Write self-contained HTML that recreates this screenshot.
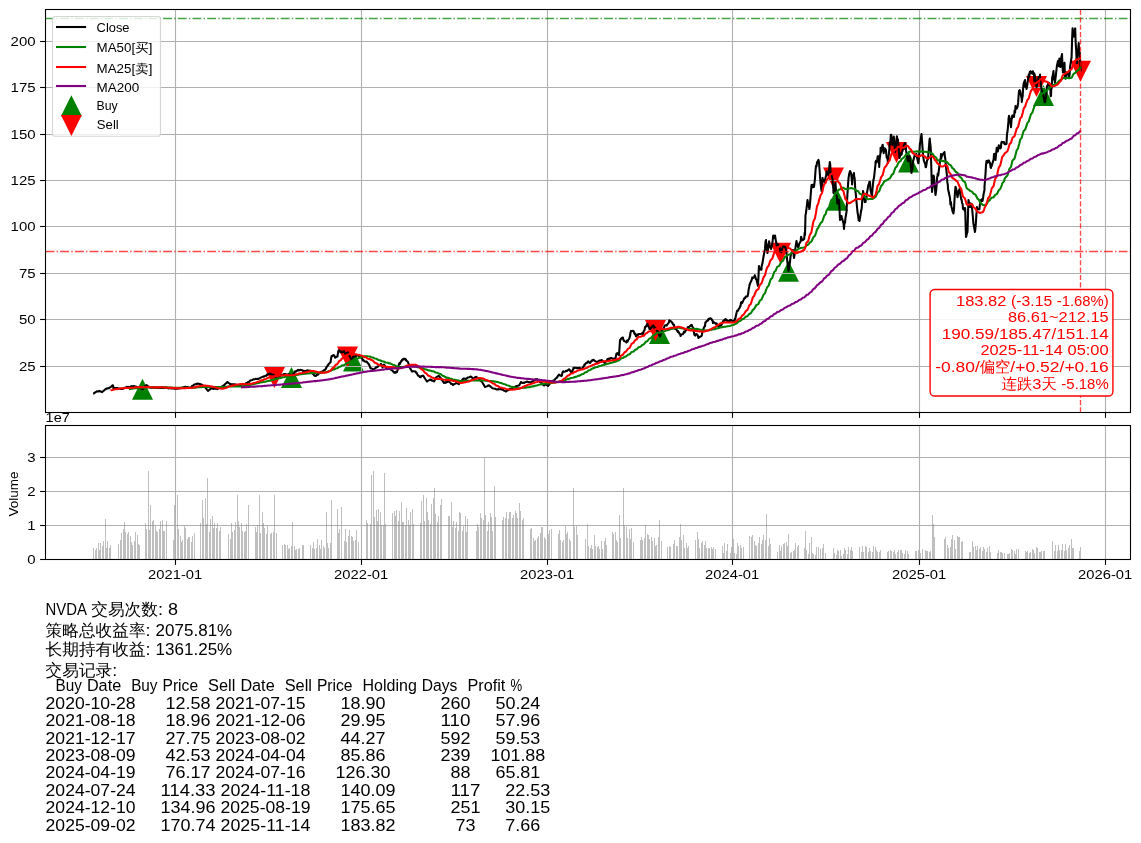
<!DOCTYPE html><html><head><meta charset="utf-8"><title>NVDA</title><style>html,body{margin:0;padding:0;background:#fff}</style></head><body><svg width="1141" height="843" viewBox="0 0 1141 843" style="display:block;font-family:'Liberation Sans','WenQuanYi Zen Hei',sans-serif">
<rect width="1141" height="843" fill="#fff"/>
<defs><clipPath id="c1"><rect x="45.5" y="9.5" width="1085.0" height="403.0"/></clipPath><clipPath id="c2"><rect x="45.5" y="425.5" width="1085.0" height="134.0"/></clipPath></defs>
<g clip-path="url(#c1)">
<path d="M142.5 378.8 L132.0 399.8 L153.0 399.8Z" fill="#008000"/>
<path d="M291.5 366.9 L281.0 387.9 L302.0 387.9Z" fill="#008000"/>
<path d="M353.5 350.6 L343.0 371.6 L364.0 371.6Z" fill="#008000"/>
<path d="M659.5 323.1 L649.0 344.1 L670.0 344.1Z" fill="#008000"/>
<path d="M788.5 260.7 L778.0 281.7 L799.0 281.7Z" fill="#008000"/>
<path d="M837.5 189.8 L827.0 210.8 L848.0 210.8Z" fill="#008000"/>
<path d="M908.5 151.5 L898.0 172.5 L919.0 172.5Z" fill="#008000"/>
<path d="M1043.5 85.0 L1033.0 106.0 L1054.0 106.0Z" fill="#008000"/>
<path d="M274.5 388.0 L264.0 367.0 L285.0 367.0Z" fill="#ff0000"/>
<path d="M347.5 367.5 L337.0 346.5 L358.0 346.5Z" fill="#ff0000"/>
<path d="M655.5 340.9 L645.0 319.9 L666.0 319.9Z" fill="#ff0000"/>
<path d="M780.5 263.7 L770.0 242.7 L791.0 242.7Z" fill="#ff0000"/>
<path d="M833.5 188.6 L823.0 167.6 L844.0 167.6Z" fill="#ff0000"/>
<path d="M896.5 163.0 L886.0 142.0 L907.0 142.0Z" fill="#ff0000"/>
<path d="M1036.5 96.9 L1026.0 75.9 L1047.0 75.9Z" fill="#ff0000"/>
<path d="M1080.5 81.8 L1070.0 60.8 L1091.0 60.8Z" fill="#ff0000"/>
<line x1="175.5" y1="9.5" x2="175.5" y2="412.5" stroke="#b0b0b0" stroke-width="1.1"/>
<line x1="361.5" y1="9.5" x2="361.5" y2="412.5" stroke="#b0b0b0" stroke-width="1.1"/>
<line x1="547.5" y1="9.5" x2="547.5" y2="412.5" stroke="#b0b0b0" stroke-width="1.1"/>
<line x1="732.5" y1="9.5" x2="732.5" y2="412.5" stroke="#b0b0b0" stroke-width="1.1"/>
<line x1="919.5" y1="9.5" x2="919.5" y2="412.5" stroke="#b0b0b0" stroke-width="1.1"/>
<line x1="1105.5" y1="9.5" x2="1105.5" y2="412.5" stroke="#b0b0b0" stroke-width="1.1"/>
<line x1="45.5" y1="366.5" x2="1130.5" y2="366.5" stroke="#b0b0b0" stroke-width="1.1"/>
<line x1="45.5" y1="319.5" x2="1130.5" y2="319.5" stroke="#b0b0b0" stroke-width="1.1"/>
<line x1="45.5" y1="273.5" x2="1130.5" y2="273.5" stroke="#b0b0b0" stroke-width="1.1"/>
<line x1="45.5" y1="226.5" x2="1130.5" y2="226.5" stroke="#b0b0b0" stroke-width="1.1"/>
<line x1="45.5" y1="180.5" x2="1130.5" y2="180.5" stroke="#b0b0b0" stroke-width="1.1"/>
<line x1="45.5" y1="134.5" x2="1130.5" y2="134.5" stroke="#b0b0b0" stroke-width="1.1"/>
<line x1="45.5" y1="87.5" x2="1130.5" y2="87.5" stroke="#b0b0b0" stroke-width="1.1"/>
<line x1="45.5" y1="41.5" x2="1130.5" y2="41.5" stroke="#b0b0b0" stroke-width="1.1"/>
<path d="M93.2 393.6 L93.3 393.6 L94.0 393.2 L94.8 392.8 L95.3 392.4 L95.8 392.0 L96.4 391.8 L96.9 391.4 L97.0 391.5 L98.4 391.3 L98.9 391.4 L99.4 391.0 L99.9 390.9 L100.0 391.0 L100.4 391.3 L102.0 392.2 L102.0 392.2 L102.5 391.8 L103.0 391.2 L103.5 390.9 L104.0 390.5 L105.0 389.5 L105.5 389.1 L106.0 389.1 L106.5 388.6 L107.0 388.6 L107.6 388.3 L109.0 388.2 L109.1 388.1 L109.6 387.5 L110.1 387.5 L110.6 387.1 L111.1 386.7 L112.6 385.3 L113.0 385.5 L113.2 386.3 L113.5 388.5 L113.7 388.5 L114.2 388.5 L114.7 388.1 L116.7 388.1 L117.0 388.2 L117.2 388.0 L117.7 388.2 L118.3 388.6 L119.8 388.5 L120.3 388.7 L120.8 389.0 L121.3 388.8 L121.8 388.9 L122.0 389.0 L123.3 388.5 L123.9 388.3 L124.4 387.8 L124.9 387.9 L125.4 387.9 L126.9 386.8 L127.0 387.0 L127.4 387.1 L127.9 386.9 L128.4 386.7 L128.9 387.1 L130.5 386.7 L131.0 386.2 L131.5 386.4 L132.0 386.4 L132.5 386.2 L134.0 386.0 L134.0 386.2 L134.5 386.2 L135.1 386.5 L135.6 386.9 L136.1 386.6 L137.6 387.4 L138.0 387.5 L138.1 387.4 L138.6 387.7 L139.1 387.6 L139.6 387.9 L141.2 388.5 L141.7 388.9 L142.2 389.1 L142.7 388.9 L143.0 389.2 L143.2 388.8 L144.7 387.3 L145.2 386.1 L145.8 385.8 L146.3 385.3 L146.5 385.0 L146.8 385.5 L148.3 386.4 L148.8 386.6 L149.3 386.9 L149.8 387.3 L150.0 387.5 L150.3 387.7 L151.9 387.5 L152.4 387.5 L152.9 387.7 L153.4 387.6 L153.9 387.6 L155.4 387.4 L155.9 387.7 L156.4 387.6 L157.5 388.0 L159.0 387.9 L159.5 387.8 L160.0 387.8 L160.0 387.9 L160.5 387.8 L161.0 388.0 L162.6 387.9 L163.1 388.0 L163.6 387.7 L164.1 388.0 L164.6 387.7 L166.1 387.6 L166.6 388.0 L167.1 387.9 L167.7 388.1 L168.2 388.4 L169.7 388.0 L170.0 388.2 L170.2 388.1 L170.7 388.3 L171.2 388.4 L173.3 388.4 L173.8 388.5 L174.3 388.7 L174.8 388.7 L176.8 388.6 L177.0 388.8 L177.3 388.7 L177.8 388.6 L178.3 388.3 L178.9 388.4 L180.4 387.9 L180.9 388.1 L181.4 387.8 L181.9 387.7 L182.4 387.5 L184.5 387.1 L185.0 386.8 L185.0 387.0 L185.5 386.8 L186.0 387.2 L187.5 387.0 L188.0 387.7 L188.5 387.4 L189.0 387.8 L189.5 387.6 L190.0 387.8 L191.1 387.2 L191.6 386.6 L192.1 385.9 L192.6 386.1 L193.1 385.8 L194.0 384.8 L194.6 384.5 L195.2 384.3 L195.7 384.1 L196.2 383.8 L196.7 384.1 L197.5 383.5 L198.7 383.7 L199.2 384.0 L199.7 384.0 L200.2 384.1 L201.0 384.5 L201.8 384.6 L202.3 385.4 L202.8 385.4 L203.3 385.9 L203.8 385.9 L204.0 386.0 L205.3 387.5 L205.8 388.2 L206.4 388.8 L206.9 389.6 L207.4 390.2 L208.0 391.0 L208.9 390.2 L209.4 389.6 L209.9 389.2 L210.4 389.3 L210.9 388.4 L211.0 388.5 L212.5 388.4 L213.0 388.7 L213.5 388.9 L214.0 388.5 L214.5 388.8 L216.0 388.8 L216.5 388.8 L217.0 389.0 L217.1 389.1 L217.6 388.7 L218.1 388.5 L219.6 387.6 L220.1 387.5 L220.6 387.1 L221.1 386.9 L223.0 386.0 L223.2 385.7 L223.7 385.2 L224.2 385.2 L224.7 384.4 L225.2 384.1 L226.7 382.7 L227.2 382.1 L227.5 382.0 L227.7 382.1 L228.3 382.8 L228.8 382.9 L230.0 384.0 L230.3 384.0 L230.8 384.1 L231.3 384.3 L231.8 384.3 L232.3 384.3 L233.9 384.3 L234.4 384.2 L234.9 384.7 L235.0 384.5 L235.4 384.7 L235.9 384.6 L237.4 384.9 L237.9 385.0 L238.4 385.0 L238.9 385.1 L239.5 384.8 L240.0 385.0 L241.0 385.1 L241.5 384.4 L242.0 384.7 L242.5 384.5 L243.0 384.4 L244.6 384.1 L245.1 383.9 L245.6 383.3 L246.0 383.5 L246.1 383.3 L246.6 383.4 L248.1 382.1 L248.6 382.0 L249.1 381.9 L249.6 381.0 L250.2 380.6 L252.2 380.0 L252.7 379.7 L253.0 379.5 L253.2 379.4 L253.7 379.4 L255.2 379.0 L255.8 378.8 L256.3 379.1 L256.8 378.9 L257.3 378.8 L258.0 379.0 L258.8 378.8 L259.3 378.4 L259.8 378.3 L260.3 377.8 L260.8 377.6 L262.4 376.9 L262.9 376.7 L263.4 376.8 L263.9 376.3 L264.0 376.5 L264.4 376.4 L265.9 375.6 L266.4 375.8 L267.0 374.5 L267.5 374.9 L268.0 374.3 L269.0 373.8 L270.0 374.0 L270.5 373.6 L271.0 374.0 L271.5 374.5 L273.0 374.5 L273.1 374.5 L273.6 375.0 L274.1 375.3 L274.6 376.2 L275.1 376.2 L276.0 377.0 L276.6 376.2 L277.1 376.5 L277.7 376.0 L278.2 375.8 L278.7 376.2 L280.0 376.0 L280.2 376.2 L280.7 375.7 L281.2 375.0 L281.7 374.9 L282.2 375.2 L283.8 374.2 L284.0 374.0 L284.3 374.0 L284.8 374.1 L285.3 374.1 L285.8 374.4 L287.3 374.5 L287.8 374.4 L288.3 374.2 L288.9 374.6 L289.0 374.5 L289.4 374.5 L290.9 375.8 L291.4 375.3 L291.9 375.9 L292.0 376.0 L292.4 375.4 L292.9 374.2 L294.5 372.9 L295.0 372.0 L295.0 371.5 L295.5 371.2 L296.0 371.5 L296.5 371.2 L298.0 369.8 L298.5 370.5 L299.0 370.3 L299.6 370.2 L300.0 370.0 L300.1 369.8 L302.1 370.3 L302.6 370.5 L303.1 371.0 L303.6 370.8 L305.0 371.0 L305.2 371.0 L305.7 371.2 L306.2 370.7 L306.7 370.7 L307.2 370.3 L308.7 370.8 L309.2 370.8 L309.7 370.8 L310.0 370.5 L310.2 371.0 L310.8 371.4 L312.3 373.2 L312.8 373.7 L313.0 374.0 L313.3 374.2 L313.8 374.7 L314.3 375.5 L315.5 376.0 L315.8 375.9 L316.4 375.3 L316.9 374.7 L317.4 374.3 L317.9 374.6 L318.0 374.0 L319.4 373.3 L319.9 372.8 L320.4 372.4 L320.9 371.8 L321.5 371.8 L322.0 371.5 L323.0 371.2 L323.5 370.5 L324.0 370.3 L324.5 370.0 L325.0 369.8 L325.5 369.5 L326.5 367.0 L327.1 366.6 L327.6 365.5 L328.0 365.0 L328.1 365.3 L328.6 364.0 L330.1 362.7 L330.5 362.0 L330.6 362.0 L331.1 358.4 L331.5 356.5 L331.6 356.1 L332.1 356.1 L333.5 355.0 L333.7 355.2 L334.2 355.4 L334.7 356.7 L335.2 357.7 L335.5 357.5 L335.7 357.3 L337.2 356.5 L337.5 356.5 L337.7 354.5 L338.3 352.1 L338.5 350.5 L338.8 350.3 L339.3 350.4 L340.8 352.5 L341.0 352.0 L341.3 351.5 L341.8 352.2 L342.8 352.1 L344.0 351.0 L344.4 351.9 L344.9 353.0 L345.4 354.2 L345.5 354.0 L345.9 353.7 L346.4 353.2 L347.9 352.3 L348.0 352.5 L348.4 353.5 L349.0 355.3 L349.5 356.2 L350.0 356.5 L350.0 357.0 L351.5 359.6 L351.5 360.0 L352.0 358.8 L352.5 358.1 L353.0 357.0 L353.0 356.9 L353.5 356.9 L355.1 356.4 L355.6 356.0 L356.0 356.0 L356.1 355.9 L356.6 355.8 L358.0 355.0 L358.6 355.5 L359.1 356.2 L359.6 357.2 L360.2 357.1 L360.7 357.2 L361.0 357.5 L362.2 358.6 L362.7 360.2 L363.0 360.5 L363.2 359.8 L363.7 360.2 L364.2 361.3 L365.8 361.7 L366.0 361.5 L366.3 361.7 L366.8 361.6 L367.3 362.6 L367.8 363.0 L369.0 364.5 L369.8 366.4 L370.3 368.0 L370.8 368.3 L371.0 368.5 L371.4 368.4 L372.9 369.2 L373.4 369.9 L373.5 370.0 L373.9 369.5 L374.4 368.7 L374.9 368.6 L376.0 367.5 L376.5 366.8 L377.0 367.3 L377.5 366.9 L378.0 366.6 L378.5 365.7 L379.0 365.5 L380.0 364.9 L380.5 364.3 L381.0 364.0 L381.0 363.9 L381.5 365.1 L382.1 366.0 L382.5 367.5 L383.6 364.8 L384.0 364.5 L384.1 364.9 L384.6 365.3 L385.1 366.2 L385.6 367.3 L387.0 369.0 L387.7 368.3 L388.2 368.5 L388.7 368.8 L389.2 368.8 L390.0 368.5 L390.7 369.1 L391.2 370.1 L391.7 370.3 L392.2 370.3 L392.7 370.9 L394.0 372.5 L394.3 372.7 L394.8 372.5 L395.3 371.8 L395.8 372.6 L396.3 372.3 L397.0 372.0 L397.8 369.1 L398.4 366.5 L398.9 364.4 L399.0 364.0 L399.4 363.1 L399.9 363.8 L401.4 360.7 L401.9 360.8 L402.0 360.0 L402.4 359.6 L402.9 359.8 L403.4 358.8 L405.0 358.8 L405.0 359.0 L405.5 359.9 L406.0 359.5 L406.5 360.9 L407.0 361.1 L408.0 362.0 L408.5 363.6 L409.0 365.6 L409.5 367.5 L409.6 367.4 L410.1 368.4 L410.6 369.0 L412.0 371.5 L412.1 371.2 L412.6 371.4 L413.1 371.3 L413.6 371.3 L415.5 371.5 L415.7 371.7 L416.2 372.9 L416.7 372.9 L417.2 374.2 L417.7 374.8 L418.0 375.5 L419.2 376.1 L419.7 377.0 L420.0 377.0 L420.2 376.7 L420.8 377.1 L421.3 376.1 L422.8 375.7 L423.0 375.5 L423.3 375.9 L423.8 376.5 L424.3 377.6 L424.8 378.2 L426.4 380.7 L426.9 381.3 L427.0 381.5 L427.4 381.0 L427.9 380.9 L428.4 380.6 L429.9 379.8 L430.0 379.5 L430.4 379.5 L430.9 380.0 L431.5 379.8 L432.0 380.6 L432.0 380.5 L433.5 381.0 L434.0 381.0 L434.0 381.5 L434.5 380.5 L435.0 379.8 L435.5 378.0 L436.0 377.5 L437.6 376.4 L438.1 376.2 L438.6 375.9 L439.0 376.0 L439.1 376.2 L440.6 377.9 L441.1 378.6 L441.6 379.7 L442.0 380.0 L442.1 380.0 L442.7 381.1 L444.0 383.0 L444.2 382.7 L444.7 382.5 L445.2 382.2 L445.7 382.9 L446.2 382.3 L448.3 381.8 L448.8 381.6 L449.0 381.5 L449.3 381.8 L449.8 382.2 L451.3 384.0 L451.8 383.7 L452.3 384.1 L452.8 384.6 L453.0 385.0 L453.4 384.5 L455.4 383.6 L455.9 383.3 L456.0 383.0 L456.4 382.9 L456.9 383.0 L458.4 383.7 L459.0 384.2 L459.0 384.0 L459.5 382.8 L460.0 382.9 L460.5 381.9 L462.0 380.5 L462.5 379.3 L463.0 379.0 L463.0 378.9 L463.5 378.5 L464.0 378.6 L465.6 379.1 L466.1 378.8 L466.6 378.4 L467.0 378.5 L467.1 378.2 L467.6 377.6 L469.1 377.2 L469.6 377.0 L470.2 376.7 L470.5 376.5 L470.7 376.6 L471.2 376.7 L472.7 378.2 L473.0 378.5 L473.2 378.4 L473.7 378.4 L474.2 378.3 L474.7 377.5 L476.0 376.8 L476.3 376.8 L476.8 377.4 L477.3 377.6 L477.8 377.9 L478.3 378.5 L479.0 379.0 L479.8 379.6 L480.3 380.5 L480.9 380.8 L481.4 381.4 L481.9 381.8 L482.0 382.0 L483.4 384.2 L483.9 385.0 L484.4 386.0 L484.9 386.8 L485.0 387.0 L485.4 386.9 L487.5 386.1 L488.0 385.6 L488.5 385.7 L489.0 385.5 L489.0 385.3 L490.5 386.6 L491.0 387.1 L491.5 387.2 L492.0 388.0 L492.1 388.0 L492.6 388.2 L494.1 388.6 L494.6 388.7 L495.1 388.9 L495.6 388.9 L496.1 389.2 L497.0 389.5 L497.7 389.3 L498.2 389.4 L498.7 389.1 L499.2 389.3 L499.7 389.2 L501.0 389.0 L501.2 389.1 L501.7 389.3 L502.2 389.7 L502.8 389.6 L503.3 390.2 L504.8 390.9 L505.3 391.2 L505.8 391.5 L506.0 391.5 L506.3 391.2 L506.8 390.9 L508.4 390.1 L508.9 389.8 L509.4 389.4 L509.9 388.8 L510.0 389.0 L510.4 388.9 L511.9 388.5 L512.4 388.2 L512.9 387.9 L513.4 387.3 L514.0 387.6 L515.0 387.0 L515.5 386.8 L516.0 386.1 L516.5 386.5 L517.0 385.9 L517.5 385.8 L519.0 385.5 L519.0 385.3 L519.6 384.8 L520.1 383.5 L520.6 382.8 L521.0 382.0 L521.1 382.5 L522.6 382.9 L523.1 382.7 L523.6 382.8 L524.0 383.0 L524.1 382.6 L524.6 382.5 L526.2 382.0 L526.7 381.8 L527.0 381.5 L527.2 381.6 L528.2 382.1 L529.7 382.2 L530.0 382.5 L530.3 382.4 L530.8 382.3 L531.3 382.0 L531.8 381.9 L533.0 381.0 L533.3 380.9 L533.8 380.5 L534.3 380.4 L534.8 379.8 L535.3 379.4 L536.9 379.2 L537.0 379.0 L537.4 379.4 L537.9 380.0 L538.4 380.0 L538.9 380.8 L540.0 382.0 L540.4 382.2 L540.9 382.6 L541.5 382.7 L542.0 383.6 L542.5 384.4 L544.0 385.5 L544.5 385.3 L545.0 384.9 L545.5 384.7 L546.0 384.5 L546.0 384.7 L548.0 386.0 L548.1 385.3 L548.6 385.2 L549.1 384.7 L549.6 384.0 L551.0 382.0 L551.1 382.3 L551.6 381.9 L552.1 381.4 L552.7 381.0 L553.2 380.8 L555.0 379.5 L555.2 379.1 L555.7 378.6 L556.2 378.2 L556.7 377.9 L558.3 375.4 L558.8 374.8 L559.0 374.5 L559.3 374.7 L559.8 375.4 L560.3 375.3 L561.5 376.0 L561.8 375.5 L562.3 373.2 L562.8 371.9 L563.0 371.5 L563.4 371.4 L563.9 371.7 L565.4 371.5 L565.9 370.8 L566.4 370.8 L566.9 371.1 L567.0 371.0 L567.4 370.5 L569.0 369.3 L569.5 369.9 L569.5 369.5 L570.0 370.5 L570.5 371.4 L571.0 372.0 L571.5 373.0 L573.0 369.5 L573.5 368.0 L573.5 367.9 L574.0 368.4 L574.6 367.8 L576.1 367.8 L576.6 368.1 L577.1 367.8 L577.6 368.2 L578.1 368.1 L579.0 368.0 L579.7 367.9 L580.2 368.4 L580.7 368.4 L581.2 369.0 L581.7 368.7 L582.0 369.0 L583.2 366.7 L583.7 366.3 L584.2 365.8 L584.5 364.5 L584.7 365.1 L585.3 363.9 L586.8 362.6 L587.3 362.7 L587.8 361.6 L588.0 361.5 L588.3 361.3 L588.8 362.2 L590.0 363.0 L590.3 362.8 L590.9 361.8 L591.4 360.9 L591.9 360.4 L592.4 360.7 L593.0 359.8 L593.9 360.0 L594.4 360.5 L594.9 360.9 L595.4 361.4 L597.0 362.0 L597.5 361.7 L598.0 361.8 L598.5 361.0 L599.0 361.0 L599.5 360.5 L601.0 360.4 L601.5 360.0 L601.5 360.0 L602.1 360.2 L602.6 360.8 L603.1 361.3 L604.6 362.9 L605.0 363.0 L605.1 362.2 L605.6 361.6 L606.1 361.0 L606.6 361.4 L607.5 359.0 L608.2 359.2 L608.7 358.6 L609.2 358.8 L609.7 359.2 L610.2 358.1 L611.0 358.0 L611.7 358.0 L612.2 358.8 L612.8 358.7 L613.3 358.9 L613.8 358.5 L615.0 359.0 L615.3 358.7 L615.8 356.8 L616.3 354.4 L616.5 353.5 L616.8 354.0 L617.3 353.1 L618.9 355.2 L619.0 355.0 L619.4 349.3 L619.9 342.0 L620.0 340.0 L620.4 340.0 L620.9 338.9 L622.5 337.5 L622.9 337.5 L623.4 339.9 L624.0 340.5 L624.0 341.0 L624.5 341.1 L626.0 341.9 L626.5 342.5 L626.5 342.3 L627.0 340.5 L627.5 341.8 L628.0 340.5 L629.0 339.0 L629.6 337.3 L630.1 335.6 L630.5 332.5 L630.6 332.5 L631.1 330.9 L631.6 331.2 L633.0 330.8 L633.6 331.2 L634.1 332.7 L634.7 334.0 L635.2 333.7 L636.0 336.5 L636.7 336.1 L637.2 334.6 L637.7 335.3 L638.2 334.6 L638.7 334.0 L639.0 334.0 L640.3 334.0 L641.3 333.8 L641.8 333.6 L642.3 332.9 L643.0 334.0 L643.8 331.1 L644.3 330.6 L644.8 328.9 L645.0 327.0 L645.3 327.5 L645.9 326.5 L647.4 323.8 L647.5 324.0 L647.9 326.0 L648.4 326.2 L648.9 327.5 L649.4 328.6 L649.5 329.0 L650.0 329.0 L650.9 328.1 L651.5 327.2 L652.0 327.0 L652.5 325.8 L653.0 325.8 L653.5 325.5 L654.5 328.5 L655.0 327.6 L655.5 328.2 L656.0 329.0 L656.0 329.4 L656.6 330.3 L658.0 332.0 L658.1 331.5 L658.6 333.2 L659.1 335.0 L659.6 335.8 L660.0 336.5 L660.1 336.2 L661.5 332.0 L661.6 332.7 L662.2 330.3 L662.7 329.7 L663.2 328.3 L663.7 328.7 L664.5 326.0 L665.2 325.3 L665.7 325.3 L666.2 325.2 L666.5 325.5 L666.7 325.6 L667.2 324.7 L668.8 322.7 L669.3 320.3 L669.5 320.5 L669.8 321.3 L670.3 321.0 L670.8 321.1 L672.5 323.0 L672.8 324.2 L673.4 324.4 L673.9 324.8 L674.4 327.2 L675.0 329.0 L675.9 328.6 L676.4 329.5 L676.9 330.5 L677.4 330.8 L677.9 332.0 L678.0 331.0 L679.5 333.8 L680.0 334.0 L680.5 335.5 L680.5 336.0 L681.0 335.0 L681.5 334.4 L683.0 334.0 L683.0 334.2 L683.5 332.9 L684.1 331.5 L684.6 332.6 L685.1 331.4 L685.5 331.0 L686.6 329.5 L687.1 328.5 L687.6 328.0 L688.0 327.0 L688.1 326.9 L688.6 327.4 L690.2 325.9 L690.7 325.5 L691.0 325.0 L691.2 325.5 L691.7 324.9 L692.2 326.4 L693.0 327.5 L693.7 331.0 L694.2 333.8 L694.5 335.0 L694.7 334.0 L695.3 335.6 L695.8 334.4 L696.5 334.0 L697.3 334.8 L697.8 335.6 L698.3 337.5 L698.5 338.0 L698.8 337.7 L699.3 337.0 L700.9 336.5 L701.4 335.7 L701.5 336.0 L701.9 334.8 L702.4 332.0 L702.9 330.4 L703.0 330.0 L704.4 326.7 L704.9 326.4 L705.4 322.4 L705.5 323.0 L705.9 322.1 L706.5 321.2 L708.0 320.6 L708.0 320.0 L708.5 318.9 L709.0 319.1 L709.5 319.2 L710.0 318.3 L711.0 318.5 L711.6 319.0 L712.1 320.5 L712.6 320.5 L713.0 323.0 L713.6 322.1 L715.1 323.1 L715.5 323.5 L715.6 323.7 L716.1 324.0 L716.6 323.4 L717.2 324.8 L718.0 326.0 L718.7 326.2 L719.2 326.0 L719.7 325.5 L720.2 324.8 L720.7 325.7 L721.5 325.0 L722.2 323.1 L722.8 321.6 L723.3 320.9 L723.8 321.5 L724.0 320.0 L724.3 320.0 L725.5 319.0 L725.8 320.2 L726.3 319.5 L726.8 321.0 L727.3 320.4 L727.5 321.0 L727.8 320.7 L729.9 321.2 L730.0 320.0 L730.4 320.7 L730.9 319.9 L731.4 320.4 L733.0 321.0 L733.4 321.0 L734.0 321.2 L734.5 319.9 L735.0 318.7 L735.0 320.0 L736.5 313.0 L737.0 311.0 L737.0 311.0 L737.5 310.5 L738.0 310.8 L738.5 309.4 L739.5 308.0 L740.6 305.5 L741.1 302.3 L741.5 302.0 L741.6 302.6 L742.1 303.1 L743.6 299.9 L744.1 298.7 L744.5 298.0 L744.7 298.1 L745.2 298.2 L745.7 296.6 L747.2 296.5 L747.5 296.5 L747.7 295.9 L748.0 294.0 L748.2 293.4 L748.7 289.2 L749.2 286.9 L749.5 285.0 L750.8 281.7 L751.3 280.9 L751.8 279.4 L752.0 279.0 L752.3 277.4 L752.8 278.0 L754.3 277.2 L754.8 275.3 L755.0 275.5 L755.3 276.5 L755.9 279.2 L756.4 279.2 L758.0 286.0 L758.4 278.1 L758.9 266.5 L759.0 266.0 L759.4 267.6 L759.9 269.3 L761.5 269.8 L761.5 267.5 L762.0 264.7 L762.5 263.1 L763.0 259.6 L763.5 256.8 L764.0 254.0 L765.0 248.9 L765.5 241.5 L766.0 240.0 L766.0 241.8 L766.6 244.7 L767.1 251.0 L767.5 253.0 L768.6 245.3 L769.0 242.0 L769.1 241.4 L769.6 244.5 L770.1 246.9 L770.6 247.7 L771.0 249.0 L772.2 244.1 L772.7 240.3 L773.2 235.6 L773.5 237.0 L773.7 238.1 L774.2 237.3 L775.0 235.5 L775.7 239.8 L776.2 242.6 L776.5 244.0 L776.7 245.5 L777.2 243.8 L779.0 245.5 L779.3 245.5 L779.8 247.8 L780.3 251.3 L780.8 249.6 L781.0 252.0 L781.3 252.2 L782.8 246.8 L783.4 245.0 L783.9 247.0 L784.0 245.0 L784.4 245.9 L784.9 245.8 L786.4 251.3 L786.5 252.0 L786.9 257.2 L787.4 262.3 L787.9 265.2 L788.5 271.0 L788.5 271.0 L790.0 261.8 L790.5 256.7 L791.0 254.5 L791.0 254.0 L791.5 252.9 L792.0 251.3 L793.0 250.0 L793.5 253.7 L794.0 258.0 L794.1 257.7 L794.6 254.2 L795.1 250.0 L795.6 246.7 L796.5 241.0 L797.1 244.9 L797.6 245.8 L798.0 247.0 L798.1 247.2 L798.6 246.5 L799.1 244.0 L800.7 241.3 L801.0 237.0 L801.2 236.8 L801.7 239.5 L802.2 239.0 L802.5 240.0 L802.7 240.2 L804.2 238.9 L804.7 232.7 L805.0 235.0 L805.3 223.3 L805.5 215.0 L805.8 214.1 L806.3 210.5 L807.5 200.0 L808.3 204.9 L808.8 205.8 L809.3 209.0 L809.5 209.0 L809.8 206.0 L811.4 186.4 L811.5 185.0 L811.9 187.2 L812.4 184.8 L812.9 187.3 L813.4 184.7 L814.0 187.0 L814.9 179.5 L815.4 172.1 L816.0 165.7 L816.0 167.0 L816.5 166.4 L817.0 162.5 L818.5 159.8 L818.5 160.0 L819.0 162.3 L820.0 176.0 L820.0 176.2 L820.5 182.3 L821.5 191.0 L822.1 185.6 L822.5 178.0 L822.6 177.9 L823.1 181.1 L823.6 180.2 L824.1 181.0 L824.5 182.0 L825.6 177.4 L826.1 175.8 L826.5 172.0 L826.6 171.6 L827.7 173.3 L828.5 175.0 L829.2 167.8 L829.7 163.1 L829.8 162.0 L830.2 164.3 L830.7 173.2 L831.0 174.0 L831.2 174.0 L832.5 179.0 L832.8 183.5 L833.3 188.3 L833.5 193.0 L833.8 192.3 L834.3 189.8 L834.8 185.8 L835.5 183.0 L836.3 194.4 L836.8 196.3 L837.3 203.5 L837.5 202.0 L837.9 203.2 L838.4 199.7 L839.0 200.0 L839.9 217.2 L840.0 220.0 L840.4 219.6 L840.9 217.7 L841.4 216.3 L841.5 216.0 L841.9 217.8 L843.5 223.5 L844.0 228.5 L844.0 229.0 L844.5 222.5 L845.0 222.9 L845.5 217.7 L846.5 212.0 L847.0 201.5 L847.5 193.1 L848.0 185.0 L848.0 185.2 L848.5 178.5 L849.1 174.3 L850.0 171.0 L850.6 172.2 L851.1 173.2 L851.6 178.0 L852.0 182.0 L852.1 184.4 L852.6 177.2 L854.0 173.0 L854.1 176.1 L854.7 178.8 L855.2 188.3 L855.5 192.0 L855.7 193.2 L856.2 198.7 L857.5 212.0 L858.2 216.1 L858.7 220.3 L859.2 220.1 L859.5 221.0 L859.7 219.8 L861.3 209.7 L861.5 210.0 L861.8 207.3 L862.3 199.5 L862.8 194.9 L863.0 191.0 L863.3 192.3 L864.8 202.1 L865.4 198.0 L865.5 202.0 L865.9 199.3 L866.4 198.3 L866.9 193.1 L867.5 190.0 L868.4 184.9 L868.9 183.9 L869.4 181.8 L869.5 182.0 L869.9 182.2 L870.0 182.0 L870.4 189.5 L872.0 196.2 L872.0 196.0 L872.5 188.9 L873.0 183.9 L873.5 179.3 L873.5 180.0 L874.0 177.8 L875.5 164.0 L875.5 162.2 L876.0 160.9 L876.6 162.4 L877.1 160.7 L877.6 156.6 L878.0 156.0 L879.1 163.9 L879.2 167.0 L879.6 159.5 L880.1 155.7 L880.5 153.0 L880.6 147.8 L881.1 152.0 L882.5 145.0 L882.7 144.8 L883.2 148.7 L883.7 153.2 L884.0 151.0 L884.2 151.2 L884.7 148.2 L886.0 150.0 L886.2 153.5 L886.7 157.7 L887.2 157.5 L887.8 160.8 L887.8 163.0 L888.3 158.6 L889.5 148.0 L889.8 142.0 L890.3 144.2 L890.8 134.8 L891.0 135.0 L891.3 134.8 L891.8 140.0 L892.5 145.0 L893.4 138.9 L893.8 136.5 L893.9 137.8 L894.4 144.6 L894.9 150.1 L895.0 152.0 L895.4 151.0 L896.5 139.0 L896.9 136.3 L897.4 140.2 L897.9 139.4 L898.0 141.0 L898.5 146.4 L899.0 152.4 L899.5 158.0 L900.5 153.7 L901.0 153.1 L901.5 154.8 L902.0 152.0 L902.5 151.1 L904.1 144.4 L904.6 148.7 L905.0 143.0 L905.1 148.5 L905.6 143.8 L906.1 150.9 L906.5 153.0 L907.6 160.2 L908.0 160.0 L908.1 161.2 L908.6 158.7 L909.1 156.5 L909.5 156.0 L909.7 156.2 L911.2 169.9 L911.5 173.0 L911.7 170.7 L912.2 169.9 L912.7 164.3 L913.2 160.9 L913.5 160.0 L914.8 154.5 L915.3 155.7 L916.0 154.0 L916.3 153.8 L916.8 156.5 L918.3 163.2 L918.5 163.0 L918.8 159.4 L919.8 146.2 L920.0 143.0 L920.4 141.7 L921.5 134.0 L921.9 139.4 L922.4 146.2 L922.9 152.9 L923.0 155.0 L923.9 160.9 L925.4 164.6 L925.5 167.0 L926.0 167.2 L926.5 164.0 L927.0 160.8 L927.5 159.7 L928.0 159.0 L929.5 140.2 L929.8 138.5 L930.0 141.6 L930.5 145.9 L931.0 153.0 L931.0 157.2 L932.0 192.0 L932.6 184.5 L933.1 176.2 L933.5 176.0 L933.6 175.5 L934.1 178.0 L934.6 186.5 L935.5 195.0 L936.1 190.8 L936.6 185.3 L937.2 176.8 L937.5 176.0 L937.7 173.6 L938.2 175.7 L939.5 165.0 L939.7 164.1 L940.2 159.8 L940.7 158.2 L941.0 154.0 L941.2 158.9 L941.7 156.3 L943.8 152.7 L944.3 152.9 L944.5 152.0 L944.8 156.2 L945.3 158.8 L946.0 167.0 L946.8 174.2 L947.3 181.9 L947.9 185.7 L948.0 189.0 L948.4 190.5 L948.9 193.1 L950.0 198.0 L950.4 204.4 L950.9 202.0 L951.4 206.3 L951.5 207.0 L951.9 208.1 L952.4 210.8 L953.5 213.5 L954.0 209.1 L954.5 199.8 L955.0 192.4 L955.5 186.8 L955.5 187.0 L956.0 187.9 L957.5 197.0 L957.5 197.2 L958.0 194.9 L958.5 191.0 L959.1 190.1 L959.5 189.0 L959.6 189.4 L961.1 198.6 L961.5 200.0 L961.6 199.6 L962.1 203.3 L962.6 203.7 L963.0 209.0 L963.1 207.1 L964.7 210.8 L965.0 208.0 L965.2 209.4 L965.7 227.1 L966.0 237.0 L966.2 236.7 L966.7 234.1 L967.5 232.0 L968.2 207.5 L968.5 200.0 L968.7 201.0 L969.2 203.5 L969.8 205.7 L970.0 207.0 L970.3 203.4 L971.5 204.0 L971.8 206.6 L972.3 210.6 L972.8 216.2 L973.3 222.5 L973.5 224.0 L975.0 232.0 L975.4 228.5 L975.9 222.6 L976.4 214.1 L976.9 210.0 L977.0 207.0 L977.4 209.3 L978.9 209.2 L979.0 209.0 L979.4 209.2 L979.9 204.5 L980.4 202.2 L981.0 201.6 L981.0 200.0 L982.5 198.7 L982.5 201.0 L983.0 198.7 L983.5 194.6 L984.0 192.0 L984.5 190.0 L984.5 186.6 L985.5 174.0 L986.0 165.1 L986.5 161.0 L986.6 160.9 L987.1 162.7 L987.6 162.8 L988.1 160.5 L989.0 160.5 L989.6 162.4 L990.1 163.1 L990.6 167.4 L991.0 168.0 L991.1 166.9 L991.6 166.2 L993.7 159.1 L994.0 154.0 L994.2 154.7 L994.7 153.8 L995.2 157.1 L995.5 160.0 L996.7 147.8 L997.0 149.0 L997.3 147.8 L997.8 151.5 L998.3 149.1 L998.8 145.2 L1000.0 148.0 L1000.3 148.4 L1000.8 148.0 L1001.3 142.8 L1001.5 143.0 L1001.8 141.8 L1002.3 141.9 L1003.9 142.7 L1004.0 142.0 L1004.4 143.7 L1004.9 144.2 L1005.9 144.2 L1006.5 144.0 L1007.0 134.0 L1007.4 132.3 L1007.9 127.7 L1008.5 121.0 L1008.5 119.0 L1009.0 115.8 L1009.5 118.7 L1010.0 119.0 L1011.0 127.0 L1011.0 127.2 L1011.5 120.5 L1012.0 116.0 L1012.0 118.2 L1012.5 115.4 L1014.0 117.0 L1014.6 110.6 L1015.1 112.6 L1015.5 106.0 L1015.6 107.7 L1016.1 106.8 L1016.6 108.8 L1017.5 107.0 L1018.1 102.9 L1018.6 95.7 L1019.0 91.0 L1019.2 90.8 L1019.7 90.1 L1020.2 91.4 L1020.5 93.0 L1021.7 98.8 L1021.8 102.0 L1022.2 98.4 L1022.7 95.9 L1023.0 90.0 L1023.2 87.6 L1023.7 83.4 L1025.0 80.0 L1025.3 86.9 L1025.8 83.4 L1026.3 84.5 L1026.5 89.0 L1026.8 87.7 L1027.3 84.8 L1028.0 79.0 L1028.8 74.4 L1029.3 76.8 L1029.8 71.7 L1030.0 72.5 L1030.4 71.3 L1030.9 72.6 L1032.4 73.6 L1032.5 71.5 L1032.9 71.3 L1033.4 73.5 L1033.9 73.0 L1034.4 81.6 L1034.5 74.0 L1036.0 81.6 L1036.5 87.2 L1036.5 87.0 L1037.0 84.5 L1037.5 81.7 L1038.0 81.5 L1038.5 77.0 L1039.5 77.7 L1040.0 74.5 L1040.0 78.3 L1040.5 81.3 L1041.0 84.5 L1041.5 91.0 L1041.6 89.7 L1043.0 93.0 L1043.6 97.0 L1044.1 99.4 L1044.6 102.2 L1045.0 102.0 L1045.1 102.1 L1046.7 91.5 L1047.0 86.0 L1047.2 89.7 L1047.7 85.4 L1048.2 82.8 L1048.7 82.8 L1049.0 83.0 L1050.2 87.2 L1050.7 96.2 L1051.0 96.0 L1051.2 90.1 L1051.7 87.5 L1052.2 77.0 L1052.3 78.3 L1053.5 71.0 L1053.8 77.9 L1054.3 80.0 L1054.8 81.1 L1055.0 83.0 L1055.3 79.7 L1055.8 75.9 L1057.0 65.0 L1057.3 64.5 L1057.9 60.9 L1058.4 60.8 L1058.5 60.5 L1058.9 66.2 L1059.4 58.6 L1060.5 67.0 L1060.9 64.2 L1061.4 56.5 L1061.9 55.2 L1062.0 54.0 L1062.4 63.8 L1062.9 72.4 L1064.5 62.9 L1065.0 78.4 L1065.5 78.7 L1066.0 75.0 L1066.5 72.4 L1068.0 73.5 L1068.5 76.1 L1069.1 77.8 L1069.6 74.3 L1070.1 66.7 L1071.6 57.0 L1072.1 39.4 L1072.6 28.2 L1073.1 35.8 L1073.6 36.6 L1075.2 28.4 L1075.7 43.6 L1076.2 50.1 L1076.7 63.3 L1077.2 63.1 L1078.7 43.0 L1079.2 53.8 L1079.8 52.6 L1080.3 65.4 L1080.8 71.3" fill="none" stroke="#000" stroke-width="2.08" stroke-linejoin="round"/>
<path d="M128.9 389.2 L130.5 389.0 L131.0 388.9 L131.5 388.8 L132.0 388.7 L132.5 388.5 L134.0 388.4 L134.5 388.3 L135.1 388.2 L135.6 388.1 L136.1 388.1 L137.6 388.0 L138.1 387.9 L138.6 387.8 L139.1 387.7 L139.6 387.7 L141.2 387.7 L141.7 387.6 L142.2 387.6 L142.7 387.6 L143.2 387.6 L144.7 387.6 L145.2 387.6 L145.8 387.5 L146.3 387.5 L146.8 387.5 L148.3 387.4 L148.8 387.5 L149.3 387.5 L149.8 387.5 L150.3 387.4 L151.9 387.4 L152.4 387.4 L152.9 387.4 L153.4 387.4 L153.9 387.4 L155.4 387.3 L155.9 387.3 L156.4 387.3 L157.5 387.3 L159.0 387.3 L159.5 387.2 L160.0 387.2 L160.5 387.2 L161.0 387.2 L162.6 387.2 L163.1 387.2 L163.6 387.3 L164.1 387.3 L164.6 387.3 L166.1 387.3 L166.6 387.4 L167.1 387.4 L167.7 387.4 L168.2 387.5 L169.7 387.5 L170.2 387.6 L170.7 387.6 L171.2 387.6 L173.3 387.7 L173.8 387.7 L174.3 387.7 L174.8 387.8 L176.8 387.8 L177.3 387.8 L177.8 387.8 L178.3 387.8 L178.9 387.8 L180.4 387.8 L180.9 387.8 L181.4 387.7 L181.9 387.7 L182.4 387.8 L184.5 387.8 L185.0 387.8 L185.5 387.9 L186.0 387.9 L187.5 387.9 L188.0 387.9 L188.5 387.9 L189.0 387.9 L189.5 387.9 L191.1 387.9 L191.6 387.9 L192.1 387.9 L192.6 387.8 L193.1 387.8 L194.6 387.7 L195.2 387.6 L195.7 387.6 L196.2 387.5 L196.7 387.4 L198.7 387.3 L199.2 387.3 L199.7 387.2 L200.2 387.1 L201.8 387.1 L202.3 387.0 L202.8 387.0 L203.3 386.9 L203.8 386.9 L205.3 386.9 L205.8 386.9 L206.4 386.9 L206.9 386.9 L207.4 386.9 L208.9 387.0 L209.4 387.0 L209.9 387.0 L210.4 387.0 L210.9 387.0 L212.5 387.0 L213.0 387.1 L213.5 387.0 L214.0 387.0 L214.5 387.1 L216.0 387.1 L216.5 387.1 L217.1 387.1 L217.6 387.1 L218.1 387.1 L219.6 387.1 L220.1 387.1 L220.6 387.1 L221.1 387.1 L223.2 387.1 L223.7 387.1 L224.2 387.0 L224.7 387.0 L225.2 386.9 L226.7 386.8 L227.2 386.7 L227.7 386.6 L228.3 386.5 L228.8 386.4 L230.3 386.4 L230.8 386.4 L231.3 386.4 L231.8 386.4 L232.3 386.4 L233.9 386.4 L234.4 386.4 L234.9 386.4 L235.4 386.4 L235.9 386.4 L237.4 386.4 L237.9 386.4 L238.4 386.4 L238.9 386.4 L239.5 386.4 L241.0 386.4 L241.5 386.3 L242.0 386.2 L242.5 386.1 L243.0 386.0 L244.6 385.9 L245.1 385.8 L245.6 385.6 L246.1 385.5 L246.6 385.4 L248.1 385.3 L248.6 385.2 L249.1 385.0 L249.6 384.9 L250.2 384.7 L252.2 384.5 L252.7 384.4 L253.2 384.2 L253.7 384.0 L255.2 383.8 L255.8 383.6 L256.3 383.4 L256.8 383.3 L257.3 383.1 L258.8 382.9 L259.3 382.8 L259.8 382.6 L260.3 382.5 L260.8 382.4 L262.4 382.2 L262.9 382.1 L263.4 382.0 L263.9 381.9 L264.4 381.8 L265.9 381.6 L266.4 381.4 L267.0 381.3 L267.5 381.1 L268.0 380.9 L270.0 380.7 L270.5 380.5 L271.0 380.3 L271.5 380.0 L273.1 379.9 L273.6 379.7 L274.1 379.5 L274.6 379.3 L275.1 379.1 L276.6 379.0 L277.1 378.8 L277.7 378.6 L278.2 378.5 L278.7 378.3 L280.2 378.1 L280.7 378.0 L281.2 377.8 L281.7 377.6 L282.2 377.4 L283.8 377.3 L284.3 377.1 L284.8 376.9 L285.3 376.8 L285.8 376.6 L287.3 376.5 L287.8 376.3 L288.3 376.2 L288.9 376.1 L289.4 376.0 L290.9 375.9 L291.4 375.9 L291.9 375.8 L292.4 375.7 L292.9 375.6 L294.5 375.5 L295.0 375.4 L295.5 375.2 L296.0 375.1 L296.5 374.9 L298.0 374.8 L298.5 374.7 L299.0 374.5 L299.6 374.4 L300.1 374.3 L302.1 374.1 L302.6 374.0 L303.1 374.0 L303.6 373.9 L305.2 373.8 L305.7 373.7 L306.2 373.7 L306.7 373.6 L307.2 373.5 L308.7 373.5 L309.2 373.4 L309.7 373.3 L310.2 373.2 L310.8 373.1 L312.3 373.1 L312.8 373.0 L313.3 372.9 L313.8 372.9 L314.3 372.9 L315.8 372.9 L316.4 372.8 L316.9 372.8 L317.4 372.8 L317.9 372.8 L319.4 372.8 L319.9 372.7 L320.4 372.7 L320.9 372.7 L321.5 372.6 L323.0 372.6 L323.5 372.5 L324.0 372.4 L324.5 372.3 L325.0 372.2 L326.5 372.1 L327.1 371.9 L327.6 371.7 L328.1 371.5 L328.6 371.3 L330.1 371.0 L330.6 370.8 L331.1 370.5 L331.6 370.2 L332.1 369.9 L333.7 369.6 L334.2 369.3 L334.7 369.0 L335.2 368.8 L335.7 368.5 L337.2 368.3 L337.7 368.0 L338.3 367.6 L338.8 367.2 L339.3 366.8 L340.8 366.4 L341.3 366.0 L341.8 365.6 L342.8 365.3 L344.4 364.9 L344.9 364.5 L345.4 364.2 L345.9 363.8 L346.4 363.5 L347.9 363.1 L348.4 362.7 L349.0 362.3 L349.5 362.0 L350.0 361.6 L351.5 361.3 L352.0 361.0 L352.5 360.6 L353.0 360.3 L353.5 359.9 L355.1 359.6 L355.6 359.2 L356.1 358.9 L356.6 358.6 L358.6 358.2 L359.1 357.9 L359.6 357.6 L360.2 357.3 L360.7 357.1 L362.2 356.9 L362.7 356.7 L363.2 356.5 L363.7 356.4 L364.2 356.3 L365.8 356.2 L366.3 356.2 L366.8 356.2 L367.3 356.2 L367.8 356.3 L369.8 356.5 L370.3 356.7 L370.8 357.0 L371.4 357.2 L372.9 357.5 L373.4 357.8 L373.9 358.0 L374.4 358.3 L374.9 358.5 L376.5 358.8 L377.0 359.2 L377.5 359.5 L378.0 359.8 L378.5 360.0 L380.0 360.3 L380.5 360.5 L381.0 360.8 L381.5 361.0 L382.1 361.3 L383.6 361.5 L384.1 361.8 L384.6 362.0 L385.1 362.3 L385.6 362.5 L387.7 362.8 L388.2 363.0 L388.7 363.2 L389.2 363.4 L390.7 363.6 L391.2 363.9 L391.7 364.1 L392.2 364.4 L392.7 364.7 L394.3 365.0 L394.8 365.4 L395.3 365.7 L395.8 366.0 L396.3 366.4 L397.8 366.6 L398.4 366.8 L398.9 366.9 L399.4 367.0 L399.9 367.0 L401.4 367.0 L401.9 367.0 L402.4 367.0 L402.9 366.9 L403.4 366.9 L405.0 366.8 L405.5 366.7 L406.0 366.6 L406.5 366.4 L407.0 366.3 L408.5 366.2 L409.0 366.1 L409.6 366.1 L410.1 366.1 L410.6 366.1 L412.1 366.1 L412.6 366.2 L413.1 366.3 L413.6 366.4 L415.7 366.5 L416.2 366.6 L416.7 366.8 L417.2 367.0 L417.7 367.2 L419.2 367.5 L419.7 367.7 L420.2 367.9 L420.8 368.1 L421.3 368.4 L422.8 368.5 L423.3 368.7 L423.8 368.9 L424.3 369.1 L424.8 369.2 L426.4 369.5 L426.9 369.7 L427.4 370.0 L427.9 370.2 L428.4 370.4 L429.9 370.5 L430.4 370.7 L430.9 370.8 L431.5 371.0 L432.0 371.2 L433.5 371.3 L434.0 371.6 L434.5 371.9 L435.0 372.2 L435.5 372.5 L437.6 372.7 L438.1 373.1 L438.6 373.4 L439.1 373.7 L440.6 374.1 L441.1 374.5 L441.6 374.9 L442.1 375.3 L442.7 375.7 L444.2 376.2 L444.7 376.6 L445.2 377.0 L445.7 377.3 L446.2 377.6 L448.3 377.9 L448.8 378.1 L449.3 378.3 L449.8 378.5 L451.3 378.8 L451.8 379.0 L452.3 379.3 L452.8 379.5 L453.4 379.7 L455.4 379.9 L455.9 380.1 L456.4 380.2 L456.9 380.4 L458.4 380.5 L459.0 380.6 L459.5 380.8 L460.0 380.9 L460.5 381.0 L462.0 381.1 L462.5 381.2 L463.0 381.2 L463.5 381.1 L464.0 381.1 L465.6 381.0 L466.1 381.0 L466.6 381.0 L467.1 380.9 L467.6 380.9 L469.1 380.8 L469.6 380.8 L470.2 380.7 L470.7 380.6 L471.2 380.5 L472.7 380.5 L473.2 380.5 L473.7 380.5 L474.2 380.5 L474.7 380.5 L476.3 380.5 L476.8 380.5 L477.3 380.5 L477.8 380.5 L478.3 380.5 L479.8 380.5 L480.3 380.5 L480.9 380.4 L481.4 380.4 L481.9 380.4 L483.4 380.4 L483.9 380.5 L484.4 380.6 L484.9 380.7 L485.4 380.8 L487.5 380.9 L488.0 380.9 L488.5 380.9 L489.0 381.0 L490.5 381.0 L491.0 381.0 L491.5 381.1 L492.1 381.2 L492.6 381.3 L494.1 381.4 L494.6 381.5 L495.1 381.6 L495.6 381.7 L496.1 381.9 L497.7 382.0 L498.2 382.2 L498.7 382.4 L499.2 382.6 L499.7 382.8 L501.2 383.0 L501.7 383.2 L502.2 383.4 L502.8 383.7 L503.3 383.9 L504.8 384.2 L505.3 384.4 L505.8 384.7 L506.3 385.0 L506.8 385.3 L508.4 385.6 L508.9 385.8 L509.4 386.0 L509.9 386.2 L510.4 386.5 L511.9 386.7 L512.4 386.9 L512.9 387.1 L513.4 387.3 L514.0 387.5 L515.5 387.6 L516.0 387.8 L516.5 387.9 L517.0 388.0 L517.5 388.1 L519.0 388.2 L519.6 388.2 L520.1 388.2 L520.6 388.1 L521.1 388.0 L522.6 387.9 L523.1 387.8 L523.6 387.8 L524.1 387.7 L524.6 387.7 L526.2 387.6 L526.7 387.5 L527.2 387.3 L528.2 387.2 L529.7 387.1 L530.3 387.0 L530.8 386.8 L531.3 386.7 L531.8 386.5 L533.3 386.4 L533.8 386.2 L534.3 386.0 L534.8 385.8 L535.3 385.7 L536.9 385.4 L537.4 385.3 L537.9 385.1 L538.4 384.9 L538.9 384.7 L540.4 384.5 L540.9 384.4 L541.5 384.2 L542.0 384.1 L542.5 383.9 L544.5 383.8 L545.0 383.7 L545.5 383.6 L546.0 383.5 L548.1 383.5 L548.6 383.4 L549.1 383.3 L549.6 383.2 L551.1 383.1 L551.6 383.0 L552.1 382.9 L552.7 382.7 L553.2 382.6 L555.2 382.5 L555.7 382.3 L556.2 382.2 L556.7 382.0 L558.3 381.8 L558.8 381.6 L559.3 381.5 L559.8 381.3 L560.3 381.2 L561.8 381.0 L562.3 380.9 L562.8 380.6 L563.4 380.4 L563.9 380.2 L565.4 380.0 L565.9 379.8 L566.4 379.6 L566.9 379.3 L567.4 379.1 L569.0 378.9 L569.5 378.6 L570.0 378.4 L570.5 378.2 L571.0 378.0 L573.0 377.8 L573.5 377.6 L574.0 377.3 L574.6 377.1 L576.1 376.9 L576.6 376.6 L577.1 376.4 L577.6 376.1 L578.1 375.8 L579.7 375.6 L580.2 375.3 L580.7 375.0 L581.2 374.6 L581.7 374.3 L583.2 374.0 L583.7 373.6 L584.2 373.2 L584.7 372.8 L585.3 372.3 L586.8 371.9 L587.3 371.5 L587.8 371.0 L588.3 370.7 L588.8 370.3 L590.3 369.9 L590.9 369.5 L591.4 369.2 L591.9 368.8 L592.4 368.5 L593.9 368.1 L594.4 367.8 L594.9 367.6 L595.4 367.3 L597.5 367.0 L598.0 366.7 L598.5 366.5 L599.0 366.2 L599.5 366.0 L601.0 365.8 L601.5 365.6 L602.1 365.3 L602.6 365.1 L603.1 364.9 L604.6 364.8 L605.1 364.6 L605.6 364.5 L606.1 364.3 L606.6 364.1 L608.2 363.8 L608.7 363.6 L609.2 363.4 L609.7 363.2 L610.2 363.0 L611.7 362.8 L612.2 362.6 L612.8 362.4 L613.3 362.2 L613.8 362.0 L615.3 361.8 L615.8 361.6 L616.3 361.3 L616.8 361.0 L617.3 360.7 L618.9 360.4 L619.4 360.1 L619.9 359.6 L620.4 359.1 L620.9 358.6 L622.9 358.1 L623.4 357.6 L624.0 357.2 L624.5 356.8 L626.0 356.4 L626.5 356.0 L627.0 355.6 L627.5 355.2 L628.0 354.7 L629.6 354.2 L630.1 353.7 L630.6 353.2 L631.1 352.6 L631.6 352.0 L633.6 351.4 L634.1 350.9 L634.7 350.3 L635.2 349.8 L636.7 349.3 L637.2 348.8 L637.7 348.3 L638.2 347.8 L638.7 347.2 L640.3 346.7 L641.3 346.1 L641.8 345.6 L642.3 345.0 L643.8 344.4 L644.3 343.7 L644.8 343.1 L645.3 342.4 L645.9 341.8 L647.4 341.1 L647.9 340.4 L648.4 339.8 L648.9 339.2 L649.4 338.6 L650.9 338.0 L651.5 337.4 L652.0 336.7 L652.5 336.1 L653.0 335.5 L654.5 335.0 L655.0 334.4 L655.5 333.9 L656.0 333.4 L656.6 333.0 L658.1 332.8 L658.6 332.7 L659.1 332.6 L659.6 332.5 L660.1 332.5 L661.6 332.3 L662.2 332.1 L662.7 331.8 L663.2 331.5 L663.7 331.3 L665.2 331.0 L665.7 330.7 L666.2 330.4 L666.7 330.3 L667.2 330.1 L668.8 329.9 L669.3 329.7 L669.8 329.4 L670.3 329.2 L670.8 329.0 L672.8 328.7 L673.4 328.5 L673.9 328.3 L674.4 328.2 L675.9 328.1 L676.4 328.0 L676.9 327.9 L677.4 327.9 L677.9 327.8 L679.5 327.8 L680.0 327.9 L680.5 328.0 L681.0 328.2 L681.5 328.3 L683.0 328.5 L683.5 328.7 L684.1 328.8 L684.6 329.0 L685.1 329.0 L686.6 329.0 L687.1 329.1 L687.6 329.1 L688.1 329.1 L688.6 329.1 L690.2 329.0 L690.7 329.0 L691.2 329.0 L691.7 328.9 L692.2 328.9 L693.7 328.9 L694.2 328.9 L694.7 328.9 L695.3 329.0 L695.8 328.9 L697.3 328.9 L697.8 329.0 L698.3 329.2 L698.8 329.3 L699.3 329.5 L700.9 329.7 L701.4 329.9 L701.9 330.0 L702.4 330.2 L702.9 330.3 L704.4 330.3 L704.9 330.4 L705.4 330.4 L705.9 330.5 L706.5 330.5 L708.0 330.4 L708.5 330.4 L709.0 330.3 L709.5 330.1 L710.0 329.9 L711.6 329.7 L712.1 329.6 L712.6 329.4 L713.6 329.2 L715.1 329.1 L715.6 328.9 L716.1 328.7 L716.6 328.4 L717.2 328.2 L718.7 328.1 L719.2 327.9 L719.7 327.7 L720.2 327.6 L720.7 327.4 L722.2 327.3 L722.8 327.1 L723.3 327.0 L723.8 326.9 L724.3 326.7 L725.8 326.6 L726.3 326.5 L726.8 326.4 L727.3 326.3 L727.8 326.2 L729.9 326.0 L730.4 325.8 L730.9 325.6 L731.4 325.3 L733.4 325.0 L734.0 324.7 L734.5 324.4 L735.0 324.1 L736.5 323.6 L737.0 323.1 L737.5 322.5 L738.0 322.0 L738.5 321.4 L740.6 320.8 L741.1 320.3 L741.6 319.7 L742.1 319.2 L743.6 318.7 L744.1 318.2 L744.7 317.7 L745.2 317.2 L745.7 316.8 L747.2 316.3 L747.7 315.8 L748.2 315.3 L748.7 314.7 L749.2 314.0 L750.8 313.3 L751.3 312.4 L751.8 311.6 L752.3 310.7 L752.8 309.8 L754.3 308.8 L754.8 307.8 L755.3 306.9 L755.9 305.9 L756.4 305.0 L758.4 304.1 L758.9 302.9 L759.4 301.7 L759.9 300.6 L761.5 299.5 L762.0 298.3 L762.5 297.2 L763.0 296.0 L763.5 294.7 L765.0 293.3 L765.5 291.7 L766.0 290.1 L766.6 288.6 L767.1 287.2 L768.6 285.7 L769.1 284.1 L769.6 282.6 L770.1 281.1 L770.6 279.6 L772.2 278.1 L772.7 276.5 L773.2 275.0 L773.7 273.5 L774.2 272.1 L775.7 270.7 L776.2 269.3 L776.7 268.1 L777.2 266.9 L779.3 265.8 L779.8 264.8 L780.3 263.8 L780.8 262.8 L781.3 261.9 L782.8 260.9 L783.4 259.9 L783.9 258.9 L784.4 257.9 L784.9 257.0 L786.4 256.2 L786.9 255.6 L787.4 255.2 L787.9 254.9 L788.5 254.7 L790.0 254.3 L790.5 253.9 L791.0 253.5 L791.5 253.0 L792.0 252.5 L793.5 252.0 L794.1 251.6 L794.6 251.1 L795.1 250.8 L795.6 250.4 L797.1 249.9 L797.6 249.5 L798.1 249.1 L798.6 248.8 L799.1 248.5 L800.7 248.1 L801.2 247.9 L801.7 247.8 L802.2 247.8 L802.7 247.7 L804.2 247.4 L804.7 247.2 L805.3 246.9 L805.8 246.3 L806.3 245.5 L808.3 244.6 L808.8 243.9 L809.3 243.2 L809.8 242.6 L811.4 241.6 L811.9 240.5 L812.4 239.5 L812.9 238.3 L813.4 237.2 L814.9 235.8 L815.4 234.4 L816.0 232.8 L816.5 231.1 L817.0 229.3 L818.5 227.5 L819.0 225.9 L820.0 224.5 L820.5 223.2 L822.1 221.9 L822.6 220.5 L823.1 219.1 L823.6 217.6 L824.1 216.0 L825.6 214.2 L826.1 212.3 L826.6 210.5 L827.7 208.8 L829.2 207.1 L829.7 205.3 L830.2 203.6 L830.7 201.9 L831.2 200.3 L832.8 198.8 L833.3 197.6 L833.8 196.5 L834.3 195.4 L834.8 194.2 L836.3 193.1 L836.8 192.1 L837.3 191.3 L837.9 190.5 L838.4 189.8 L839.9 189.4 L840.4 189.0 L840.9 188.6 L841.4 188.1 L841.9 187.8 L843.5 187.8 L844.0 188.1 L844.5 188.5 L845.0 188.8 L845.5 189.1 L847.0 189.0 L847.5 188.8 L848.0 188.7 L848.5 188.6 L849.1 188.5 L850.6 188.2 L851.1 188.1 L851.6 188.1 L852.1 188.3 L852.6 188.5 L854.1 188.7 L854.7 189.0 L855.2 189.6 L855.7 190.2 L856.2 190.6 L858.2 191.3 L858.7 192.0 L859.2 192.8 L859.7 193.6 L861.3 194.2 L861.8 194.7 L862.3 195.2 L862.8 195.6 L863.3 196.0 L864.8 196.5 L865.4 197.2 L865.9 197.9 L866.4 198.5 L866.9 199.0 L868.4 199.2 L868.9 199.2 L869.4 199.1 L869.9 198.9 L870.4 198.8 L872.0 199.0 L872.5 199.0 L873.0 198.8 L873.5 198.4 L874.0 197.9 L875.5 197.1 L876.0 196.0 L876.6 194.9 L877.1 193.7 L877.6 192.5 L879.1 191.5 L879.6 190.2 L880.1 188.8 L880.6 187.3 L881.1 185.9 L882.7 184.4 L883.2 183.3 L883.7 182.4 L884.2 181.7 L884.7 181.1 L886.2 180.6 L886.7 180.2 L887.2 179.9 L887.8 179.5 L888.3 179.1 L889.8 178.4 L890.3 177.7 L890.8 176.8 L891.3 175.8 L891.8 174.8 L893.4 173.6 L893.9 172.0 L894.4 170.5 L894.9 169.2 L895.4 167.7 L896.9 166.3 L897.4 165.0 L897.9 163.8 L898.5 162.9 L899.0 162.0 L900.5 161.2 L901.0 160.2 L901.5 159.3 L902.5 158.4 L904.1 157.4 L904.6 156.6 L905.1 155.8 L905.6 155.1 L906.1 154.4 L907.6 153.9 L908.1 153.2 L908.6 152.5 L909.1 151.9 L909.7 151.5 L911.2 151.4 L911.7 151.5 L912.2 151.7 L912.7 151.7 L913.2 151.8 L914.8 151.8 L915.3 151.6 L916.3 151.4 L916.8 151.4 L918.3 151.6 L918.8 151.8 L919.8 151.8 L920.4 151.6 L921.9 151.4 L922.4 151.3 L922.9 151.4 L923.9 151.6 L925.4 151.8 L926.0 151.9 L926.5 151.9 L927.0 152.0 L927.5 152.3 L929.5 152.3 L930.0 152.4 L930.5 152.6 L931.0 152.9 L932.6 153.8 L933.1 154.7 L933.6 155.4 L934.1 156.0 L934.6 156.7 L936.1 157.7 L936.6 158.6 L937.2 159.4 L937.7 160.0 L938.2 160.4 L939.7 160.5 L940.2 160.6 L940.7 160.7 L941.2 160.8 L941.7 160.9 L943.8 161.1 L944.3 161.2 L944.8 161.4 L945.3 161.6 L946.8 162.0 L947.3 162.4 L947.9 163.0 L948.4 163.7 L948.9 164.4 L950.4 165.0 L950.9 165.6 L951.4 166.4 L951.9 167.2 L952.4 168.2 L954.0 169.2 L954.5 170.1 L955.0 170.9 L955.5 171.5 L956.0 172.0 L957.5 172.8 L958.0 173.8 L958.5 174.8 L959.1 175.9 L959.6 176.7 L961.1 177.6 L961.6 178.4 L962.1 179.2 L962.6 180.0 L963.1 180.9 L964.7 181.8 L965.2 182.8 L965.7 184.6 L966.2 186.5 L966.7 188.2 L968.2 189.3 L968.7 189.6 L969.2 190.1 L969.8 190.6 L970.3 191.1 L971.8 191.5 L972.3 192.0 L972.8 192.7 L973.3 193.5 L975.4 194.6 L975.9 195.5 L976.4 196.6 L976.9 197.5 L977.4 198.6 L978.9 199.7 L979.4 200.7 L979.9 201.8 L980.4 202.8 L981.0 203.7 L982.5 204.5 L983.0 205.0 L983.5 205.2 L984.0 205.3 L984.5 205.3 L986.0 204.8 L986.6 204.0 L987.1 203.2 L987.6 202.2 L988.1 201.3 L989.6 200.4 L990.1 199.5 L990.6 198.8 L991.1 198.3 L991.6 197.8 L993.7 197.2 L994.2 196.3 L994.7 195.6 L995.2 194.9 L996.7 194.1 L997.3 193.3 L997.8 192.3 L998.3 191.3 L998.8 190.1 L1000.3 189.0 L1000.8 187.7 L1001.3 186.4 L1001.8 185.0 L1002.3 183.3 L1003.9 181.4 L1004.4 179.6 L1004.9 178.2 L1005.9 177.1 L1007.4 175.6 L1007.9 174.0 L1008.5 172.2 L1009.0 170.5 L1009.5 168.6 L1011.0 166.8 L1011.5 164.8 L1012.0 162.6 L1012.5 160.5 L1014.6 158.4 L1015.1 156.4 L1015.6 154.4 L1016.1 152.4 L1016.6 150.4 L1018.1 148.3 L1018.6 146.1 L1019.2 143.9 L1019.7 141.7 L1020.2 139.6 L1021.7 137.8 L1022.2 135.9 L1022.7 133.9 L1023.2 132.4 L1023.7 130.9 L1025.3 129.3 L1025.8 127.8 L1026.3 126.3 L1026.8 124.8 L1027.3 123.2 L1028.8 121.4 L1029.3 119.5 L1029.8 117.7 L1030.4 116.0 L1030.9 114.3 L1032.4 112.6 L1032.9 110.9 L1033.4 109.3 L1033.9 107.8 L1034.4 106.3 L1036.0 105.0 L1036.5 103.8 L1037.0 102.5 L1037.5 101.3 L1038.0 100.0 L1039.5 98.7 L1040.0 97.3 L1040.5 96.1 L1041.0 94.9 L1041.6 93.9 L1043.6 92.9 L1044.1 92.3 L1044.6 91.8 L1045.1 91.5 L1046.7 90.9 L1047.2 90.2 L1047.7 89.4 L1048.2 88.6 L1048.7 88.0 L1050.2 87.5 L1050.7 87.1 L1051.2 86.7 L1051.7 86.3 L1052.3 85.7 L1053.8 85.0 L1054.3 84.6 L1054.8 84.3 L1055.3 84.1 L1055.8 83.8 L1057.3 83.2 L1057.9 82.4 L1058.4 81.7 L1058.9 81.1 L1059.4 80.6 L1060.9 80.1 L1061.4 79.6 L1061.9 79.0 L1062.4 78.5 L1062.9 78.2 L1064.5 77.8 L1065.0 77.9 L1065.5 77.9 L1066.0 78.0 L1066.5 78.0 L1068.0 78.0 L1068.5 78.1 L1069.1 78.2 L1069.6 78.2 L1070.1 78.1 L1071.6 77.8 L1072.1 76.9 L1072.6 75.7 L1073.1 74.7 L1073.6 73.8 L1075.2 72.8 L1075.7 72.2 L1076.2 71.7 L1076.7 71.3 L1077.2 70.9 L1078.7 69.9 L1079.2 69.1 L1079.8 68.2 L1080.3 67.5 L1080.8 66.9" fill="none" stroke="#008000" stroke-width="2.08" stroke-linejoin="round"/>
<path d="M110.6 390.5 L111.1 390.2 L112.6 389.9 L113.2 389.7 L113.7 389.6 L114.2 389.4 L114.7 389.3 L116.7 389.2 L117.2 389.0 L117.7 388.9 L118.3 388.8 L119.8 388.7 L120.3 388.6 L120.8 388.5 L121.3 388.4 L121.8 388.3 L123.3 388.2 L123.9 388.2 L124.4 388.1 L124.9 388.1 L125.4 388.0 L126.9 388.0 L127.4 387.9 L127.9 387.9 L128.4 387.9 L128.9 387.8 L130.5 387.8 L131.0 387.9 L131.5 387.9 L132.0 387.8 L132.5 387.7 L134.0 387.6 L134.5 387.5 L135.1 387.4 L135.6 387.4 L136.1 387.3 L137.6 387.2 L138.1 387.2 L138.6 387.2 L139.1 387.1 L139.6 387.1 L141.2 387.1 L141.7 387.1 L142.2 387.1 L142.7 387.2 L143.2 387.2 L144.7 387.2 L145.2 387.2 L145.8 387.2 L146.3 387.1 L146.8 387.1 L148.3 387.1 L148.8 387.1 L149.3 387.1 L149.8 387.1 L150.3 387.2 L151.9 387.2 L152.4 387.3 L152.9 387.4 L153.4 387.4 L153.9 387.4 L155.4 387.4 L155.9 387.4 L156.4 387.4 L157.5 387.4 L159.0 387.4 L159.5 387.4 L160.0 387.4 L160.5 387.3 L161.0 387.3 L162.6 387.2 L163.1 387.2 L163.6 387.3 L164.1 387.4 L164.6 387.5 L166.1 387.6 L166.6 387.7 L167.1 387.7 L167.7 387.8 L168.2 387.8 L169.7 387.8 L170.2 387.9 L170.7 387.9 L171.2 387.9 L173.3 388.0 L173.8 388.0 L174.3 388.0 L174.8 388.1 L176.8 388.1 L177.3 388.2 L177.8 388.2 L178.3 388.2 L178.9 388.2 L180.4 388.2 L180.9 388.3 L181.4 388.2 L181.9 388.2 L182.4 388.2 L184.5 388.2 L185.0 388.2 L185.5 388.1 L186.0 388.1 L187.5 388.0 L188.0 388.0 L188.5 388.0 L189.0 388.0 L189.5 388.0 L191.1 387.9 L191.6 387.8 L192.1 387.8 L192.6 387.6 L193.1 387.5 L194.6 387.4 L195.2 387.2 L195.7 387.0 L196.2 386.8 L196.7 386.6 L198.7 386.4 L199.2 386.3 L199.7 386.1 L200.2 386.0 L201.8 385.9 L202.3 385.8 L202.8 385.7 L203.3 385.7 L203.8 385.6 L205.3 385.6 L205.8 385.7 L206.4 385.7 L206.9 385.8 L207.4 385.9 L208.9 386.0 L209.4 386.1 L209.9 386.2 L210.4 386.3 L210.9 386.5 L212.5 386.6 L213.0 386.7 L213.5 386.9 L214.0 387.1 L214.5 387.3 L216.0 387.5 L216.5 387.7 L217.1 387.9 L217.6 388.1 L218.1 388.3 L219.6 388.4 L220.1 388.5 L220.6 388.5 L221.1 388.6 L223.2 388.6 L223.7 388.5 L224.2 388.4 L224.7 388.2 L225.2 388.0 L226.7 387.7 L227.2 387.3 L227.7 387.0 L228.3 386.8 L228.8 386.5 L230.3 386.3 L230.8 386.2 L231.3 386.0 L231.8 385.8 L232.3 385.6 L233.9 385.4 L234.4 385.3 L234.9 385.1 L235.4 384.9 L235.9 384.7 L237.4 384.6 L237.9 384.5 L238.4 384.4 L238.9 384.3 L239.5 384.2 L241.0 384.1 L241.5 384.1 L242.0 384.1 L242.5 384.1 L243.0 384.1 L244.6 384.1 L245.1 384.2 L245.6 384.3 L246.1 384.3 L246.6 384.3 L248.1 384.2 L248.6 384.2 L249.1 384.1 L249.6 383.9 L250.2 383.8 L252.2 383.6 L252.7 383.5 L253.2 383.3 L253.7 383.0 L255.2 382.8 L255.8 382.6 L256.3 382.4 L256.8 382.2 L257.3 381.9 L258.8 381.7 L259.3 381.4 L259.8 381.2 L260.3 380.9 L260.8 380.6 L262.4 380.4 L262.9 380.1 L263.4 379.8 L263.9 379.5 L264.4 379.2 L265.9 378.9 L266.4 378.6 L267.0 378.4 L267.5 378.1 L268.0 377.8 L270.0 377.5 L270.5 377.3 L271.0 377.1 L271.5 376.8 L273.1 376.7 L273.6 376.5 L274.1 376.3 L274.6 376.2 L275.1 376.1 L276.6 376.0 L277.1 375.9 L277.7 375.8 L278.2 375.8 L278.7 375.7 L280.2 375.6 L280.7 375.6 L281.2 375.5 L281.7 375.4 L282.2 375.4 L283.8 375.3 L284.3 375.2 L284.8 375.2 L285.3 375.1 L285.8 375.1 L287.3 375.1 L287.8 375.1 L288.3 375.2 L288.9 375.2 L289.4 375.2 L290.9 375.2 L291.4 375.3 L291.9 375.3 L292.4 375.3 L292.9 375.2 L294.5 375.0 L295.0 374.8 L295.5 374.6 L296.0 374.4 L296.5 374.2 L298.0 374.0 L298.5 373.8 L299.0 373.5 L299.6 373.3 L300.1 373.2 L302.1 373.0 L302.6 372.9 L303.1 372.7 L303.6 372.6 L305.2 372.5 L305.7 372.3 L306.2 372.2 L306.7 372.0 L307.2 371.9 L308.7 371.7 L309.2 371.5 L309.7 371.3 L310.2 371.1 L310.8 371.0 L312.3 370.9 L312.8 371.0 L313.3 371.1 L313.8 371.2 L314.3 371.4 L315.8 371.5 L316.4 371.7 L316.9 371.9 L317.4 372.1 L317.9 372.2 L319.4 372.4 L319.9 372.5 L320.4 372.5 L320.9 372.6 L321.5 372.6 L323.0 372.6 L323.5 372.6 L324.0 372.6 L324.5 372.6 L325.0 372.5 L326.5 372.4 L327.1 372.3 L327.6 372.1 L328.1 371.8 L328.6 371.6 L330.1 371.1 L330.6 370.6 L331.1 370.0 L331.6 369.3 L332.1 368.5 L333.7 367.7 L334.2 366.9 L334.7 366.2 L335.2 365.5 L335.7 364.8 L337.2 364.2 L337.7 363.4 L338.3 362.6 L338.8 361.8 L339.3 360.9 L340.8 360.2 L341.3 359.4 L341.8 358.7 L342.8 357.9 L344.4 357.2 L344.9 356.6 L345.4 356.1 L345.9 355.6 L346.4 355.2 L347.9 354.7 L348.4 354.3 L349.0 354.1 L349.5 353.9 L350.0 354.0 L351.5 354.1 L352.0 354.3 L352.5 354.4 L353.0 354.4 L353.5 354.4 L355.1 354.3 L355.6 354.3 L356.1 354.3 L356.6 354.5 L358.6 354.7 L359.1 354.9 L359.6 355.1 L360.2 355.3 L360.7 355.5 L362.2 355.8 L362.7 356.1 L363.2 356.4 L363.7 356.7 L364.2 357.0 L365.8 357.3 L366.3 357.7 L366.8 358.0 L367.3 358.4 L367.8 358.7 L369.8 359.0 L370.3 359.3 L370.8 359.7 L371.4 360.1 L372.9 360.6 L373.4 361.2 L373.9 361.7 L374.4 362.2 L374.9 362.7 L376.5 363.2 L377.0 363.6 L377.5 364.0 L378.0 364.4 L378.5 364.8 L380.0 365.1 L380.5 365.3 L381.0 365.5 L381.5 365.7 L382.1 365.9 L383.6 366.1 L384.1 366.2 L384.6 366.3 L385.1 366.5 L385.6 366.7 L387.7 366.9 L388.2 367.0 L388.7 367.0 L389.2 367.1 L390.7 367.1 L391.2 367.1 L391.7 367.1 L392.2 367.1 L392.7 367.2 L394.3 367.4 L394.8 367.6 L395.3 367.8 L395.8 368.0 L396.3 368.3 L397.8 368.4 L398.4 368.5 L398.9 368.5 L399.4 368.4 L399.9 368.3 L401.4 368.1 L401.9 367.9 L402.4 367.7 L402.9 367.5 L403.4 367.2 L405.0 366.9 L405.5 366.5 L406.0 366.2 L406.5 365.9 L407.0 365.5 L408.5 365.3 L409.0 365.2 L409.6 365.1 L410.1 365.0 L410.6 364.9 L412.1 364.9 L412.6 364.8 L413.1 364.8 L413.6 364.8 L415.7 364.8 L416.2 364.9 L416.7 365.2 L417.2 365.6 L417.7 366.0 L419.2 366.6 L419.7 367.2 L420.2 367.9 L420.8 368.6 L421.3 369.2 L422.8 369.9 L423.3 370.5 L423.8 371.2 L424.3 371.9 L424.8 372.6 L426.4 373.4 L426.9 374.1 L427.4 374.7 L427.9 375.3 L428.4 375.8 L429.9 376.2 L430.4 376.5 L430.9 376.8 L431.5 377.2 L432.0 377.5 L433.5 377.9 L434.0 378.3 L434.5 378.6 L435.0 378.8 L435.5 378.9 L437.6 378.9 L438.1 378.9 L438.6 378.9 L439.1 378.9 L440.6 378.9 L441.1 379.1 L441.6 379.2 L442.1 379.3 L442.7 379.5 L444.2 379.7 L444.7 379.8 L445.2 379.8 L445.7 379.9 L446.2 379.9 L448.3 380.0 L448.8 380.1 L449.3 380.1 L449.8 380.2 L451.3 380.4 L451.8 380.5 L452.3 380.6 L452.8 380.8 L453.4 380.9 L455.4 381.1 L455.9 381.3 L456.4 381.5 L456.9 381.8 L458.4 382.1 L459.0 382.4 L459.5 382.6 L460.0 382.8 L460.5 382.9 L462.0 382.9 L462.5 382.8 L463.0 382.7 L463.5 382.5 L464.0 382.4 L465.6 382.2 L466.1 382.1 L466.6 381.9 L467.1 381.8 L467.6 381.7 L469.1 381.5 L469.6 381.2 L470.2 380.9 L470.7 380.6 L471.2 380.3 L472.7 380.0 L473.2 379.8 L473.7 379.6 L474.2 379.4 L474.7 379.2 L476.3 378.9 L476.8 378.7 L477.3 378.4 L477.8 378.2 L478.3 378.1 L479.8 378.1 L480.3 378.1 L480.9 378.2 L481.4 378.3 L481.9 378.4 L483.4 378.6 L483.9 378.9 L484.4 379.2 L484.9 379.5 L485.4 379.9 L487.5 380.2 L488.0 380.6 L488.5 380.9 L489.0 381.3 L490.5 381.7 L491.0 382.0 L491.5 382.4 L492.1 382.8 L492.6 383.2 L494.1 383.7 L494.6 384.1 L495.1 384.6 L495.6 385.1 L496.1 385.5 L497.7 385.9 L498.2 386.3 L498.7 386.7 L499.2 387.0 L499.7 387.3 L501.2 387.6 L501.7 387.8 L502.2 388.0 L502.8 388.1 L503.3 388.3 L504.8 388.4 L505.3 388.6 L505.8 388.9 L506.3 389.1 L506.8 389.3 L508.4 389.4 L508.9 389.5 L509.4 389.6 L509.9 389.7 L510.4 389.7 L511.9 389.7 L512.4 389.6 L512.9 389.6 L513.4 389.5 L514.0 389.5 L515.5 389.4 L516.0 389.2 L516.5 389.1 L517.0 389.0 L517.5 388.9 L519.0 388.7 L519.6 388.5 L520.1 388.3 L520.6 388.0 L521.1 387.7 L522.6 387.4 L523.1 387.0 L523.6 386.7 L524.1 386.4 L524.6 386.0 L526.2 385.7 L526.7 385.4 L527.2 385.1 L528.2 384.8 L529.7 384.5 L530.3 384.3 L530.8 384.0 L531.3 383.8 L531.8 383.6 L533.3 383.3 L533.8 383.1 L534.3 382.8 L534.8 382.5 L535.3 382.3 L536.9 382.0 L537.4 381.8 L537.9 381.6 L538.4 381.5 L538.9 381.4 L540.4 381.4 L540.9 381.4 L541.5 381.4 L542.0 381.5 L542.5 381.5 L544.5 381.6 L545.0 381.7 L545.5 381.9 L546.0 382.0 L548.1 382.1 L548.6 382.3 L549.1 382.3 L549.6 382.4 L551.1 382.4 L551.6 382.4 L552.1 382.4 L552.7 382.4 L553.2 382.5 L555.2 382.4 L555.7 382.4 L556.2 382.3 L556.7 382.2 L558.3 382.1 L558.8 381.8 L559.3 381.6 L559.8 381.3 L560.3 381.0 L561.8 380.7 L562.3 380.3 L562.8 379.8 L563.4 379.2 L563.9 378.7 L565.4 378.1 L565.9 377.6 L566.4 377.0 L566.9 376.4 L567.4 375.9 L569.0 375.3 L569.5 374.8 L570.0 374.4 L570.5 374.0 L571.0 373.6 L573.0 373.2 L573.5 372.7 L574.0 372.3 L574.6 371.9 L576.1 371.5 L576.6 371.2 L577.1 370.9 L577.6 370.7 L578.1 370.4 L579.7 370.1 L580.2 369.9 L580.7 369.7 L581.2 369.5 L581.7 369.4 L583.2 369.2 L583.7 369.0 L584.2 368.8 L584.7 368.5 L585.3 368.2 L586.8 367.9 L587.3 367.6 L587.8 367.3 L588.3 366.9 L588.8 366.6 L590.3 366.2 L590.9 365.9 L591.4 365.6 L591.9 365.4 L592.4 365.1 L593.9 364.8 L594.4 364.5 L594.9 364.2 L595.4 363.9 L597.5 363.6 L598.0 363.4 L598.5 363.1 L599.0 362.8 L599.5 362.5 L601.0 362.1 L601.5 361.9 L602.1 361.7 L602.6 361.5 L603.1 361.4 L604.6 361.3 L605.1 361.3 L605.6 361.3 L606.1 361.3 L606.6 361.3 L608.2 361.1 L608.7 361.0 L609.2 360.8 L609.7 360.7 L610.2 360.6 L611.7 360.5 L612.2 360.4 L612.8 360.3 L613.3 360.2 L613.8 360.1 L615.3 360.0 L615.8 359.8 L616.3 359.5 L616.8 359.2 L617.3 358.9 L618.9 358.7 L619.4 358.3 L619.9 357.5 L620.4 356.7 L620.9 355.8 L622.9 354.8 L623.4 353.9 L624.0 353.0 L624.5 352.2 L626.0 351.5 L626.5 350.9 L627.0 350.2 L627.5 349.5 L628.0 348.8 L629.6 347.9 L630.1 347.0 L630.6 345.9 L631.1 344.9 L631.6 343.8 L633.6 342.7 L634.1 341.7 L634.7 340.8 L635.2 340.1 L636.7 339.4 L637.2 338.6 L637.7 337.8 L638.2 337.2 L638.7 336.9 L640.3 336.7 L641.3 336.5 L641.8 336.3 L642.3 336.1 L643.8 335.7 L644.3 335.2 L644.8 334.6 L645.3 334.0 L645.9 333.4 L647.4 332.7 L647.9 332.1 L648.4 331.7 L648.9 331.4 L649.4 331.3 L650.9 331.1 L651.5 330.9 L652.0 330.7 L652.5 330.5 L653.0 330.2 L654.5 329.8 L655.0 329.5 L655.5 329.2 L656.0 329.0 L656.6 328.8 L658.1 328.7 L658.6 328.7 L659.1 328.7 L659.6 328.8 L660.1 328.8 L661.6 328.9 L662.2 328.9 L662.7 329.0 L663.2 329.1 L663.7 329.2 L665.2 329.2 L665.7 329.2 L666.2 329.2 L666.7 329.1 L667.2 328.9 L668.8 328.7 L669.3 328.4 L669.8 328.2 L670.3 328.0 L670.8 327.8 L672.8 327.7 L673.4 327.6 L673.9 327.5 L674.4 327.4 L675.9 327.4 L676.4 327.3 L676.9 327.2 L677.4 327.0 L677.9 326.8 L679.5 326.8 L680.0 326.9 L680.5 327.1 L681.0 327.3 L681.5 327.6 L683.0 327.8 L683.5 328.1 L684.1 328.4 L684.6 328.7 L685.1 329.0 L686.6 329.1 L687.1 329.4 L687.6 329.7 L688.1 329.9 L688.6 330.2 L690.2 330.3 L690.7 330.4 L691.2 330.4 L691.7 330.4 L692.2 330.3 L693.7 330.4 L694.2 330.5 L694.7 330.7 L695.3 330.9 L695.8 331.0 L697.3 331.1 L697.8 331.1 L698.3 331.2 L698.8 331.3 L699.3 331.4 L700.9 331.5 L701.4 331.6 L701.9 331.7 L702.4 331.7 L702.9 331.6 L704.4 331.5 L704.9 331.3 L705.4 331.2 L705.9 331.0 L706.5 330.8 L708.0 330.6 L708.5 330.4 L709.0 330.1 L709.5 329.9 L710.0 329.6 L711.6 329.1 L712.1 328.6 L712.6 328.1 L713.6 327.6 L715.1 327.2 L715.6 326.7 L716.1 326.2 L716.6 325.7 L717.2 325.2 L718.7 324.7 L719.2 324.3 L719.7 323.9 L720.2 323.5 L720.7 323.2 L722.2 322.9 L722.8 322.8 L723.3 322.7 L723.8 322.6 L724.3 322.5 L725.8 322.4 L726.3 322.3 L726.8 322.4 L727.3 322.4 L727.8 322.5 L729.9 322.5 L730.4 322.5 L730.9 322.5 L731.4 322.5 L733.4 322.4 L734.0 322.3 L734.5 322.1 L735.0 322.0 L736.5 321.5 L737.0 320.9 L737.5 320.3 L738.0 319.7 L738.5 319.0 L740.6 318.2 L741.1 317.3 L741.6 316.5 L742.1 315.6 L743.6 314.7 L744.1 313.8 L744.7 313.0 L745.2 312.1 L745.7 311.2 L747.2 310.2 L747.7 309.2 L748.2 308.1 L748.7 306.9 L749.2 305.5 L750.8 304.0 L751.3 302.4 L751.8 300.8 L752.3 299.1 L752.8 297.4 L754.3 295.7 L754.8 294.2 L755.3 292.8 L755.9 291.5 L756.4 290.3 L758.4 289.1 L758.9 287.6 L759.4 286.1 L759.9 284.7 L761.5 283.4 L762.0 282.0 L762.5 280.5 L763.0 279.0 L763.5 277.4 L765.0 275.3 L765.5 273.2 L766.0 271.0 L766.6 269.1 L767.1 267.5 L768.6 265.8 L769.1 264.2 L769.6 262.8 L770.1 261.4 L770.6 260.2 L772.2 258.8 L772.7 257.4 L773.2 255.9 L773.7 254.3 L774.2 252.6 L775.7 251.0 L776.2 249.6 L776.7 248.6 L777.2 247.7 L779.3 246.9 L779.8 246.2 L780.3 245.6 L780.8 245.1 L781.3 244.8 L782.8 244.4 L783.4 244.4 L783.9 244.5 L784.4 244.7 L784.9 244.8 L786.4 244.9 L786.9 245.4 L787.4 246.1 L787.9 247.0 L788.5 248.0 L790.0 248.5 L790.5 249.1 L791.0 249.6 L791.5 250.2 L792.0 250.8 L793.5 251.5 L794.1 252.2 L794.6 252.7 L795.1 252.9 L795.6 253.1 L797.1 252.9 L797.6 252.8 L798.1 252.7 L798.6 252.4 L799.1 252.1 L800.7 251.7 L801.2 251.4 L801.7 251.1 L802.2 250.8 L802.7 250.5 L804.2 249.9 L804.7 249.1 L805.3 247.6 L805.8 245.5 L806.3 243.1 L808.3 240.8 L808.8 238.7 L809.3 236.9 L809.8 235.0 L811.4 232.4 L811.9 229.6 L812.4 226.7 L812.9 224.0 L813.4 221.4 L814.9 218.6 L815.4 215.8 L816.0 212.7 L816.5 209.4 L817.0 206.2 L818.5 202.9 L819.0 200.0 L820.0 197.5 L820.5 195.3 L822.1 193.0 L822.6 190.6 L823.1 188.3 L823.6 186.1 L824.1 184.3 L825.6 182.9 L826.1 181.5 L826.6 180.2 L827.7 178.9 L829.2 177.3 L829.7 175.6 L830.2 174.8 L830.7 174.2 L831.2 173.8 L832.8 173.7 L833.3 173.8 L833.8 174.3 L834.3 175.0 L834.8 175.8 L836.3 176.8 L836.8 178.0 L837.3 179.6 L837.9 181.1 L838.4 182.1 L839.9 183.5 L840.4 184.9 L840.9 186.5 L841.4 188.0 L841.9 189.5 L843.5 191.3 L844.0 193.4 L844.5 195.5 L845.0 197.5 L845.5 199.3 L847.0 200.7 L847.5 201.9 L848.0 202.7 L848.5 203.1 L849.1 203.2 L850.6 202.8 L851.1 202.3 L851.6 201.9 L852.1 201.6 L852.6 201.3 L854.1 200.6 L854.7 200.0 L855.2 199.5 L855.7 199.2 L856.2 199.1 L858.2 199.0 L858.7 199.0 L859.2 199.1 L859.7 199.2 L861.3 198.9 L861.8 198.1 L862.3 197.0 L862.8 195.7 L863.3 194.5 L864.8 193.7 L865.4 193.7 L865.9 193.9 L866.4 194.4 L866.9 194.9 L868.4 195.2 L868.9 195.6 L869.4 195.9 L869.9 195.9 L870.4 196.1 L872.0 196.8 L872.5 197.4 L873.0 197.6 L873.5 197.3 L874.0 196.5 L875.5 195.1 L876.0 193.0 L876.6 190.7 L877.1 188.3 L877.6 185.8 L879.1 184.0 L879.6 182.3 L880.1 180.5 L880.6 178.9 L881.1 177.2 L882.7 175.1 L883.2 172.9 L883.7 170.9 L884.2 169.1 L884.7 167.4 L886.2 166.0 L886.7 164.8 L887.2 163.9 L887.8 163.1 L888.3 162.1 L889.8 160.1 L890.3 158.1 L890.8 156.1 L891.3 154.4 L891.8 153.0 L893.4 152.0 L893.9 151.0 L894.4 150.4 L894.9 150.0 L895.4 149.7 L896.9 148.6 L897.4 147.7 L897.9 147.1 L898.5 146.8 L899.0 146.9 L900.5 147.3 L901.0 147.5 L901.5 147.7 L902.5 147.7 L904.1 147.5 L904.6 147.2 L905.1 146.7 L905.6 146.2 L906.1 145.7 L907.6 145.7 L908.1 146.3 L908.6 146.9 L909.1 147.8 L909.7 148.6 L911.2 149.8 L911.7 151.0 L912.2 152.3 L912.7 153.1 L913.2 153.6 L914.8 153.9 L915.3 154.6 L916.3 155.2 L916.8 155.8 L918.3 156.4 L918.8 156.7 L919.8 156.3 L920.4 155.8 L921.9 155.2 L922.4 155.0 L922.9 155.4 L923.9 156.0 L925.4 156.9 L926.0 157.6 L926.5 158.2 L927.0 158.3 L927.5 158.4 L929.5 157.7 L930.0 157.1 L930.5 156.7 L931.0 156.1 L932.6 156.6 L933.1 157.1 L933.6 157.6 L934.1 158.4 L934.6 159.6 L936.1 160.9 L936.6 162.1 L937.2 163.0 L937.7 163.5 L938.2 164.0 L939.7 164.7 L940.2 165.5 L940.7 166.2 L941.2 166.5 L941.7 166.5 L943.8 166.2 L944.3 165.6 L944.8 165.2 L945.3 165.0 L946.8 165.6 L947.3 166.4 L947.9 168.2 L948.4 170.2 L948.9 172.0 L950.4 173.9 L950.9 174.6 L951.4 175.6 L951.9 176.9 L952.4 178.0 L954.0 178.8 L954.5 179.3 L955.0 179.7 L955.5 180.0 L956.0 180.6 L957.5 181.6 L958.0 182.8 L958.5 184.1 L959.1 185.5 L959.6 187.0 L961.1 188.7 L961.6 190.7 L962.1 192.7 L962.6 194.8 L963.1 196.7 L964.7 198.0 L965.2 199.3 L965.7 200.9 L966.2 202.7 L966.7 204.4 L968.2 204.7 L968.7 204.6 L969.2 204.5 L969.8 204.4 L970.3 204.3 L971.8 204.2 L972.3 204.7 L972.8 205.6 L973.3 207.0 L975.4 208.5 L975.9 209.5 L976.4 210.3 L976.9 210.9 L977.4 211.6 L978.9 212.4 L979.4 212.8 L979.9 212.9 L980.4 212.9 L981.0 212.6 L982.5 212.3 L983.0 211.9 L983.5 211.2 L984.0 209.8 L984.5 207.9 L986.0 205.2 L986.6 203.3 L987.1 201.7 L987.6 200.0 L988.1 198.2 L989.6 196.5 L990.1 194.8 L990.6 192.9 L991.1 191.0 L991.6 188.7 L993.7 185.8 L994.2 183.1 L994.7 180.8 L995.2 178.8 L996.7 176.6 L997.3 174.2 L997.8 171.8 L998.3 169.6 L998.8 167.4 L1000.3 165.3 L1000.8 163.1 L1001.3 160.9 L1001.8 158.8 L1002.3 156.8 L1003.9 154.9 L1004.4 153.9 L1004.9 153.1 L1005.9 152.5 L1007.4 151.2 L1007.9 149.8 L1008.5 148.0 L1009.0 146.2 L1009.5 144.3 L1011.0 142.7 L1011.5 140.9 L1012.0 139.4 L1012.5 137.8 L1014.6 136.1 L1015.1 134.1 L1015.6 132.3 L1016.1 130.6 L1016.6 128.9 L1018.1 126.9 L1018.6 124.8 L1019.2 122.6 L1019.7 120.4 L1020.2 118.4 L1021.7 116.7 L1022.2 114.9 L1022.7 113.0 L1023.2 110.8 L1023.7 108.6 L1025.3 106.1 L1025.8 104.3 L1026.3 102.8 L1026.8 101.5 L1027.3 100.1 L1028.8 98.4 L1029.3 96.3 L1029.8 94.4 L1030.4 92.6 L1030.9 90.9 L1032.4 89.2 L1032.9 87.7 L1033.4 86.4 L1033.9 85.1 L1034.4 83.8 L1036.0 83.1 L1036.5 82.8 L1037.0 82.5 L1037.5 82.1 L1038.0 81.6 L1039.5 80.6 L1040.0 79.6 L1040.5 79.1 L1041.0 79.0 L1041.6 79.2 L1043.6 79.8 L1044.1 80.3 L1044.6 80.8 L1045.1 81.4 L1046.7 81.6 L1047.2 82.0 L1047.7 82.4 L1048.2 82.8 L1048.7 83.3 L1050.2 84.0 L1050.7 84.9 L1051.2 85.7 L1051.7 86.2 L1052.3 86.3 L1053.8 86.3 L1054.3 86.1 L1054.8 85.9 L1055.3 85.7 L1055.8 85.4 L1057.3 84.8 L1057.9 84.3 L1058.4 83.7 L1058.9 83.0 L1059.4 82.1 L1060.9 81.0 L1061.4 79.5 L1061.9 77.8 L1062.4 76.2 L1062.9 75.1 L1064.5 74.0 L1065.0 73.7 L1065.5 73.5 L1066.0 73.1 L1066.5 72.7 L1068.0 72.0 L1068.5 71.3 L1069.1 70.7 L1069.6 70.3 L1070.1 69.9 L1071.6 69.2 L1072.1 67.7 L1072.6 65.6 L1073.1 63.8 L1073.6 62.2 L1075.2 60.8 L1075.7 60.1 L1076.2 59.6 L1076.7 59.7 L1077.2 59.7 L1078.7 58.9 L1079.2 58.7 L1079.8 58.6 L1080.3 58.7 L1080.8 58.7" fill="none" stroke="#ff0000" stroke-width="2.08" stroke-linejoin="round"/>
<path d="M241.0 387.4 L241.5 387.4 L242.0 387.3 L242.5 387.3 L243.0 387.3 L244.6 387.2 L245.1 387.2 L245.6 387.1 L246.1 387.1 L246.6 387.1 L248.1 387.0 L248.6 387.0 L249.1 386.9 L249.6 386.9 L250.2 386.8 L252.2 386.8 L252.7 386.7 L253.2 386.7 L253.7 386.6 L255.2 386.6 L255.8 386.5 L256.3 386.5 L256.8 386.4 L257.3 386.4 L258.8 386.3 L259.3 386.3 L259.8 386.3 L260.3 386.2 L260.8 386.2 L262.4 386.1 L262.9 386.1 L263.4 386.0 L263.9 385.9 L264.4 385.9 L265.9 385.8 L266.4 385.8 L267.0 385.7 L267.5 385.6 L268.0 385.5 L270.0 385.5 L270.5 385.4 L271.0 385.3 L271.5 385.3 L273.1 385.2 L273.6 385.1 L274.1 385.1 L274.6 385.0 L275.1 384.9 L276.6 384.9 L277.1 384.8 L277.7 384.8 L278.2 384.7 L278.7 384.7 L280.2 384.6 L280.7 384.6 L281.2 384.5 L281.7 384.5 L282.2 384.4 L283.8 384.4 L284.3 384.3 L284.8 384.2 L285.3 384.2 L285.8 384.1 L287.3 384.0 L287.8 384.0 L288.3 383.9 L288.9 383.8 L289.4 383.8 L290.9 383.7 L291.4 383.6 L291.9 383.6 L292.4 383.5 L292.9 383.4 L294.5 383.4 L295.0 383.3 L295.5 383.2 L296.0 383.2 L296.5 383.1 L298.0 383.0 L298.5 382.9 L299.0 382.8 L299.6 382.7 L300.1 382.7 L302.1 382.6 L302.6 382.5 L303.1 382.4 L303.6 382.3 L305.2 382.2 L305.7 382.2 L306.2 382.1 L306.7 382.0 L307.2 381.9 L308.7 381.8 L309.2 381.7 L309.7 381.6 L310.2 381.6 L310.8 381.5 L312.3 381.4 L312.8 381.3 L313.3 381.3 L313.8 381.2 L314.3 381.1 L315.8 381.1 L316.4 381.0 L316.9 380.9 L317.4 380.9 L317.9 380.8 L319.4 380.7 L319.9 380.6 L320.4 380.6 L320.9 380.5 L321.5 380.4 L323.0 380.3 L323.5 380.2 L324.0 380.1 L324.5 380.0 L325.0 379.9 L326.5 379.8 L327.1 379.7 L327.6 379.6 L328.1 379.5 L328.6 379.4 L330.1 379.3 L330.6 379.1 L331.1 379.0 L331.6 378.8 L332.1 378.7 L333.7 378.5 L334.2 378.4 L334.7 378.2 L335.2 378.1 L335.7 377.9 L337.2 377.7 L337.7 377.6 L338.3 377.4 L338.8 377.2 L339.3 377.1 L340.8 376.9 L341.3 376.7 L341.8 376.6 L342.8 376.4 L344.4 376.3 L344.9 376.1 L345.4 376.0 L345.9 375.8 L346.4 375.6 L347.9 375.5 L348.4 375.3 L349.0 375.2 L349.5 375.0 L350.0 374.9 L351.5 374.7 L352.0 374.6 L352.5 374.4 L353.0 374.3 L353.5 374.1 L355.1 373.9 L355.6 373.8 L356.1 373.6 L356.6 373.4 L358.6 373.3 L359.1 373.1 L359.6 372.9 L360.2 372.8 L360.7 372.6 L362.2 372.5 L362.7 372.3 L363.2 372.2 L363.7 372.1 L364.2 371.9 L365.8 371.8 L366.3 371.7 L366.8 371.5 L367.3 371.4 L367.8 371.3 L369.8 371.2 L370.3 371.1 L370.8 371.0 L371.4 370.9 L372.9 370.9 L373.4 370.8 L373.9 370.7 L374.4 370.7 L374.9 370.6 L376.5 370.5 L377.0 370.4 L377.5 370.3 L378.0 370.3 L378.5 370.2 L380.0 370.1 L380.5 370.0 L381.0 369.9 L381.5 369.8 L382.1 369.7 L383.6 369.6 L384.1 369.5 L384.6 369.4 L385.1 369.3 L385.6 369.2 L387.7 369.1 L388.2 369.0 L388.7 369.0 L389.2 368.9 L390.7 368.8 L391.2 368.7 L391.7 368.7 L392.2 368.6 L392.7 368.5 L394.3 368.5 L394.8 368.4 L395.3 368.4 L395.8 368.3 L396.3 368.3 L397.8 368.2 L398.4 368.1 L398.9 368.1 L399.4 368.0 L399.9 367.9 L401.4 367.8 L401.9 367.7 L402.4 367.6 L402.9 367.5 L403.4 367.4 L405.0 367.3 L405.5 367.2 L406.0 367.1 L406.5 367.0 L407.0 367.0 L408.5 366.9 L409.0 366.8 L409.6 366.8 L410.1 366.7 L410.6 366.7 L412.1 366.7 L412.6 366.7 L413.1 366.6 L413.6 366.6 L415.7 366.6 L416.2 366.6 L416.7 366.6 L417.2 366.6 L417.7 366.6 L419.2 366.6 L419.7 366.6 L420.2 366.6 L420.8 366.6 L421.3 366.7 L422.8 366.6 L423.3 366.6 L423.8 366.6 L424.3 366.6 L424.8 366.7 L426.4 366.7 L426.9 366.7 L427.4 366.7 L427.9 366.8 L428.4 366.8 L429.9 366.8 L430.4 366.8 L430.9 366.9 L431.5 366.9 L432.0 366.9 L433.5 367.0 L434.0 367.0 L434.5 367.0 L435.0 367.1 L435.5 367.1 L437.6 367.1 L438.1 367.1 L438.6 367.1 L439.1 367.1 L440.6 367.1 L441.1 367.1 L441.6 367.2 L442.1 367.2 L442.7 367.3 L444.2 367.3 L444.7 367.4 L445.2 367.4 L445.7 367.5 L446.2 367.6 L448.3 367.6 L448.8 367.7 L449.3 367.7 L449.8 367.8 L451.3 367.9 L451.8 367.9 L452.3 368.0 L452.8 368.1 L453.4 368.1 L455.4 368.2 L455.9 368.2 L456.4 368.3 L456.9 368.4 L458.4 368.4 L459.0 368.5 L459.5 368.6 L460.0 368.6 L460.5 368.7 L462.0 368.7 L462.5 368.7 L463.0 368.7 L463.5 368.7 L464.0 368.8 L465.6 368.8 L466.1 368.8 L466.6 368.8 L467.1 368.9 L467.6 368.9 L469.1 368.9 L469.6 368.9 L470.2 369.0 L470.7 369.0 L471.2 369.0 L472.7 369.1 L473.2 369.1 L473.7 369.1 L474.2 369.2 L474.7 369.2 L476.3 369.3 L476.8 369.4 L477.3 369.4 L477.8 369.5 L478.3 369.6 L479.8 369.7 L480.3 369.8 L480.9 369.9 L481.4 370.1 L481.9 370.2 L483.4 370.3 L483.9 370.5 L484.4 370.6 L484.9 370.8 L485.4 370.9 L487.5 371.1 L488.0 371.3 L488.5 371.5 L489.0 371.6 L490.5 371.8 L491.0 372.0 L491.5 372.2 L492.1 372.3 L492.6 372.5 L494.1 372.7 L494.6 372.9 L495.1 373.0 L495.6 373.2 L496.1 373.4 L497.7 373.6 L498.2 373.7 L498.7 373.9 L499.2 374.1 L499.7 374.2 L501.2 374.4 L501.7 374.5 L502.2 374.7 L502.8 374.9 L503.3 375.0 L504.8 375.2 L505.3 375.4 L505.8 375.6 L506.3 375.7 L506.8 375.9 L508.4 376.1 L508.9 376.2 L509.4 376.4 L509.9 376.5 L510.4 376.7 L511.9 376.8 L512.4 376.9 L512.9 377.1 L513.4 377.2 L514.0 377.3 L515.5 377.4 L516.0 377.6 L516.5 377.7 L517.0 377.8 L517.5 377.9 L519.0 377.9 L519.6 378.0 L520.1 378.1 L520.6 378.1 L521.1 378.2 L522.6 378.3 L523.1 378.4 L523.6 378.4 L524.1 378.5 L524.6 378.6 L526.2 378.7 L526.7 378.8 L527.2 378.9 L528.2 378.9 L529.7 379.0 L530.3 379.1 L530.8 379.2 L531.3 379.3 L531.8 379.4 L533.3 379.4 L533.8 379.5 L534.3 379.6 L534.8 379.6 L535.3 379.7 L536.9 379.7 L537.4 379.8 L537.9 379.8 L538.4 379.9 L538.9 379.9 L540.4 380.0 L540.9 380.0 L541.5 380.1 L542.0 380.1 L542.5 380.2 L544.5 380.3 L545.0 380.4 L545.5 380.4 L546.0 380.5 L548.1 380.7 L548.6 380.8 L549.1 380.9 L549.6 381.0 L551.1 381.1 L551.6 381.2 L552.1 381.3 L552.7 381.4 L553.2 381.5 L555.2 381.6 L555.7 381.7 L556.2 381.8 L556.7 381.9 L558.3 381.9 L558.8 382.0 L559.3 382.0 L559.8 382.0 L560.3 382.0 L561.8 382.1 L562.3 382.1 L562.8 382.1 L563.4 382.1 L563.9 382.1 L565.4 382.1 L565.9 382.0 L566.4 382.0 L566.9 382.0 L567.4 382.0 L569.0 381.9 L569.5 381.9 L570.0 381.9 L570.5 381.8 L571.0 381.8 L573.0 381.8 L573.5 381.7 L574.0 381.7 L574.6 381.6 L576.1 381.6 L576.6 381.5 L577.1 381.4 L577.6 381.4 L578.1 381.3 L579.7 381.3 L580.2 381.2 L580.7 381.1 L581.2 381.1 L581.7 381.0 L583.2 380.9 L583.7 380.9 L584.2 380.8 L584.7 380.7 L585.3 380.7 L586.8 380.6 L587.3 380.5 L587.8 380.4 L588.3 380.4 L588.8 380.3 L590.3 380.2 L590.9 380.1 L591.4 380.0 L591.9 379.9 L592.4 379.8 L593.9 379.7 L594.4 379.6 L594.9 379.5 L595.4 379.4 L597.5 379.3 L598.0 379.2 L598.5 379.1 L599.0 378.9 L599.5 378.8 L601.0 378.7 L601.5 378.6 L602.1 378.5 L602.6 378.3 L603.1 378.2 L604.6 378.1 L605.1 378.0 L605.6 377.9 L606.1 377.8 L606.6 377.7 L608.2 377.6 L608.7 377.5 L609.2 377.3 L609.7 377.2 L610.2 377.1 L611.7 377.0 L612.2 376.9 L612.8 376.8 L613.3 376.7 L613.8 376.6 L615.3 376.5 L615.8 376.4 L616.3 376.3 L616.8 376.2 L617.3 376.1 L618.9 376.0 L619.4 375.8 L619.9 375.6 L620.4 375.4 L620.9 375.3 L622.9 375.1 L623.4 374.9 L624.0 374.7 L624.5 374.5 L626.0 374.3 L626.5 374.2 L627.0 374.0 L627.5 373.8 L628.0 373.6 L629.6 373.4 L630.1 373.1 L630.6 372.9 L631.1 372.6 L631.6 372.3 L633.6 372.1 L634.1 371.8 L634.7 371.5 L635.2 371.3 L636.7 371.0 L637.2 370.8 L637.7 370.5 L638.2 370.3 L638.7 370.0 L640.3 369.7 L641.3 369.5 L641.8 369.2 L642.3 368.9 L643.8 368.6 L644.3 368.3 L644.8 368.0 L645.3 367.7 L645.9 367.4 L647.4 367.1 L647.9 366.8 L648.4 366.4 L648.9 366.1 L649.4 365.8 L650.9 365.5 L651.5 365.2 L652.0 364.9 L652.5 364.6 L653.0 364.3 L654.5 363.9 L655.0 363.6 L655.5 363.3 L656.0 363.0 L656.6 362.7 L658.1 362.4 L658.6 362.1 L659.1 361.8 L659.6 361.6 L660.1 361.3 L661.6 361.0 L662.2 360.8 L662.7 360.5 L663.2 360.2 L663.7 359.9 L665.2 359.6 L665.7 359.3 L666.2 359.0 L666.7 358.7 L667.2 358.4 L668.8 358.0 L669.3 357.7 L669.8 357.4 L670.3 357.1 L670.8 356.8 L672.8 356.5 L673.4 356.2 L673.9 355.9 L674.4 355.7 L675.9 355.4 L676.4 355.1 L676.9 354.9 L677.4 354.6 L677.9 354.4 L679.5 354.1 L680.0 353.9 L680.5 353.7 L681.0 353.4 L681.5 353.2 L683.0 353.0 L683.5 352.7 L684.1 352.5 L684.6 352.3 L685.1 352.0 L686.6 351.8 L687.1 351.5 L687.6 351.3 L688.1 351.0 L688.6 350.7 L690.2 350.4 L690.7 350.1 L691.2 349.8 L691.7 349.5 L692.2 349.2 L693.7 349.0 L694.2 348.7 L694.7 348.5 L695.3 348.2 L695.8 348.0 L697.3 347.7 L697.8 347.5 L698.3 347.3 L698.8 347.0 L699.3 346.8 L700.9 346.6 L701.4 346.4 L701.9 346.2 L702.4 345.9 L702.9 345.7 L704.4 345.4 L704.9 345.2 L705.4 344.9 L705.9 344.7 L706.5 344.4 L708.0 344.1 L708.5 343.8 L709.0 343.6 L709.5 343.3 L710.0 343.0 L711.6 342.8 L712.1 342.5 L712.6 342.3 L713.6 342.0 L715.1 341.8 L715.6 341.6 L716.1 341.3 L716.6 341.1 L717.2 340.9 L718.7 340.7 L719.2 340.4 L719.7 340.2 L720.2 340.0 L720.7 339.8 L722.2 339.6 L722.8 339.3 L723.3 339.1 L723.8 338.9 L724.3 338.6 L725.8 338.4 L726.3 338.1 L726.8 337.9 L727.3 337.7 L727.8 337.4 L729.9 337.2 L730.4 336.9 L730.9 336.7 L731.4 336.5 L733.4 336.3 L734.0 336.1 L734.5 335.9 L735.0 335.6 L736.5 335.4 L737.0 335.1 L737.5 334.9 L738.0 334.6 L738.5 334.4 L740.6 334.1 L741.1 333.8 L741.6 333.5 L742.1 333.2 L743.6 332.9 L744.1 332.6 L744.7 332.3 L745.2 331.9 L745.7 331.6 L747.2 331.3 L747.7 331.0 L748.2 330.6 L748.7 330.3 L749.2 329.9 L750.8 329.5 L751.3 329.1 L751.8 328.7 L752.3 328.3 L752.8 327.9 L754.3 327.4 L754.8 327.0 L755.3 326.6 L755.9 326.2 L756.4 325.8 L758.4 325.4 L758.9 324.9 L759.4 324.5 L759.9 324.0 L761.5 323.6 L762.0 323.1 L762.5 322.6 L763.0 322.1 L763.5 321.6 L765.0 321.1 L765.5 320.5 L766.0 319.9 L766.6 319.4 L767.1 318.9 L768.6 318.4 L769.1 317.9 L769.6 317.4 L770.1 316.9 L770.6 316.5 L772.2 316.0 L772.7 315.5 L773.2 315.0 L773.7 314.4 L774.2 313.9 L775.7 313.4 L776.2 312.9 L776.7 312.4 L777.2 312.0 L779.3 311.5 L779.8 311.1 L780.3 310.7 L780.8 310.3 L781.3 309.9 L782.8 309.5 L783.4 309.0 L783.9 308.6 L784.4 308.1 L784.9 307.7 L786.4 307.3 L786.9 306.9 L787.4 306.5 L787.9 306.2 L788.5 305.8 L790.0 305.5 L790.5 305.1 L791.0 304.7 L791.5 304.3 L792.0 303.9 L793.5 303.6 L794.1 303.2 L794.6 302.9 L795.1 302.5 L795.6 302.1 L797.1 301.7 L797.6 301.3 L798.1 300.9 L798.6 300.5 L799.1 300.1 L800.7 299.6 L801.2 299.2 L801.7 298.7 L802.2 298.3 L802.7 297.8 L804.2 297.4 L804.7 296.9 L805.3 296.4 L805.8 295.8 L806.3 295.1 L808.3 294.5 L808.8 293.8 L809.3 293.2 L809.8 292.6 L811.4 291.9 L811.9 291.2 L812.4 290.4 L812.9 289.7 L813.4 289.0 L814.9 288.3 L815.4 287.5 L816.0 286.8 L816.5 286.0 L817.0 285.2 L818.5 284.4 L819.0 283.6 L820.0 282.9 L820.5 282.2 L822.1 281.5 L822.6 280.7 L823.1 280.0 L823.6 279.2 L824.1 278.5 L825.6 277.7 L826.1 276.9 L826.6 276.1 L827.7 275.3 L829.2 274.5 L829.7 273.6 L830.2 272.8 L830.7 272.0 L831.2 271.2 L832.8 270.4 L833.3 269.7 L833.8 269.0 L834.3 268.3 L834.8 267.6 L836.3 266.9 L836.8 266.2 L837.3 265.6 L837.9 265.0 L838.4 264.4 L839.9 263.8 L840.4 263.3 L840.9 262.7 L841.4 262.2 L841.9 261.6 L843.5 261.1 L844.0 260.6 L844.5 260.0 L845.0 259.5 L845.5 258.9 L847.0 258.2 L847.5 257.5 L848.0 256.7 L848.5 255.9 L849.1 255.1 L850.6 254.3 L851.1 253.5 L851.6 252.8 L852.1 252.0 L852.6 251.3 L854.1 250.6 L854.7 249.9 L855.2 249.2 L855.7 248.5 L856.2 247.9 L858.2 247.4 L858.7 246.9 L859.2 246.4 L859.7 245.9 L861.3 245.4 L861.8 244.8 L862.3 244.2 L862.8 243.5 L863.3 242.9 L864.8 242.3 L865.4 241.6 L865.9 241.0 L866.4 240.4 L866.9 239.7 L868.4 239.0 L868.9 238.3 L869.4 237.6 L869.9 236.9 L870.4 236.2 L872.0 235.6 L872.5 234.9 L873.0 234.2 L873.5 233.5 L874.0 232.8 L875.5 232.0 L876.0 231.2 L876.6 230.4 L877.1 229.6 L877.6 228.8 L879.1 228.0 L879.6 227.3 L880.1 226.4 L880.6 225.6 L881.1 224.7 L882.7 223.9 L883.2 223.0 L883.7 222.2 L884.2 221.4 L884.7 220.6 L886.2 219.8 L886.7 219.0 L887.2 218.3 L887.8 217.6 L888.3 216.9 L889.8 216.1 L890.3 215.3 L890.8 214.5 L891.3 213.7 L891.8 212.9 L893.4 212.1 L893.9 211.3 L894.4 210.6 L894.9 209.9 L895.4 209.2 L896.9 208.4 L897.4 207.7 L897.9 207.0 L898.5 206.4 L899.0 205.7 L900.5 205.1 L901.0 204.5 L901.5 203.9 L902.5 203.3 L904.1 202.6 L904.6 201.9 L905.1 201.2 L905.6 200.6 L906.1 200.1 L907.6 199.5 L908.1 199.0 L908.6 198.4 L909.1 197.9 L909.7 197.4 L911.2 197.0 L911.7 196.6 L912.2 196.2 L912.7 195.8 L913.2 195.4 L914.8 195.0 L915.3 194.5 L916.3 194.1 L916.8 193.7 L918.3 193.2 L918.8 192.8 L919.8 192.3 L920.4 191.8 L921.9 191.3 L922.4 190.8 L922.9 190.4 L923.9 190.0 L925.4 189.7 L926.0 189.3 L926.5 188.9 L927.0 188.4 L927.5 188.0 L929.5 187.5 L930.0 186.9 L930.5 186.4 L931.0 185.9 L932.6 185.6 L933.1 185.3 L933.6 185.0 L934.1 184.6 L934.6 184.3 L936.1 184.0 L936.6 183.6 L937.2 183.1 L937.7 182.7 L938.2 182.2 L939.7 181.8 L940.2 181.3 L940.7 180.8 L941.2 180.3 L941.7 179.8 L943.8 179.3 L944.3 178.8 L944.8 178.3 L945.3 177.9 L946.8 177.5 L947.3 177.2 L947.9 176.9 L948.4 176.6 L948.9 176.4 L950.4 176.2 L950.9 176.0 L951.4 175.9 L951.9 175.7 L952.4 175.6 L954.0 175.4 L954.5 175.2 L955.0 175.1 L955.5 175.0 L956.0 174.9 L957.5 174.8 L958.0 174.8 L958.5 174.7 L959.1 174.6 L959.6 174.6 L961.1 174.7 L961.6 174.8 L962.1 174.9 L962.6 175.0 L963.1 175.1 L964.7 175.3 L965.2 175.5 L965.7 175.8 L966.2 176.2 L966.7 176.6 L968.2 176.8 L968.7 176.9 L969.2 177.0 L969.8 177.1 L970.3 177.3 L971.8 177.4 L972.3 177.6 L972.8 177.7 L973.3 178.0 L975.4 178.2 L975.9 178.5 L976.4 178.7 L976.9 178.9 L977.4 179.1 L978.9 179.3 L979.4 179.5 L979.9 179.7 L980.4 179.8 L981.0 179.8 L982.5 179.9 L983.0 179.9 L983.5 180.0 L984.0 180.0 L984.5 179.9 L986.0 179.8 L986.6 179.6 L987.1 179.4 L987.6 179.1 L988.1 178.8 L989.6 178.5 L990.1 178.3 L990.6 178.0 L991.1 177.7 L991.6 177.4 L993.7 177.0 L994.2 176.7 L994.7 176.4 L995.2 176.2 L996.7 175.9 L997.3 175.8 L997.8 175.6 L998.3 175.5 L998.8 175.3 L1000.3 175.2 L1000.8 175.0 L1001.3 174.8 L1001.8 174.6 L1002.3 174.5 L1003.9 174.3 L1004.4 174.1 L1004.9 173.8 L1005.9 173.5 L1007.4 173.1 L1007.9 172.6 L1008.5 172.1 L1009.0 171.6 L1009.5 171.2 L1011.0 170.8 L1011.5 170.4 L1012.0 170.0 L1012.5 169.6 L1014.6 169.2 L1015.1 168.7 L1015.6 168.2 L1016.1 167.8 L1016.6 167.4 L1018.1 166.9 L1018.6 166.5 L1019.2 166.0 L1019.7 165.6 L1020.2 165.1 L1021.7 164.6 L1022.2 164.2 L1022.7 163.7 L1023.2 163.3 L1023.7 162.8 L1025.3 162.4 L1025.8 162.0 L1026.3 161.6 L1026.8 161.3 L1027.3 160.9 L1028.8 160.5 L1029.3 160.0 L1029.8 159.6 L1030.4 159.2 L1030.9 158.8 L1032.4 158.4 L1032.9 158.1 L1033.4 157.7 L1033.9 157.3 L1034.4 156.9 L1036.0 156.6 L1036.5 156.2 L1037.0 155.9 L1037.5 155.4 L1038.0 155.1 L1039.5 154.7 L1040.0 154.4 L1040.5 154.1 L1041.0 153.8 L1041.6 153.6 L1043.6 153.4 L1044.1 153.2 L1044.6 153.0 L1045.1 152.7 L1046.7 152.4 L1047.2 152.1 L1047.7 151.9 L1048.2 151.6 L1048.7 151.3 L1050.2 151.0 L1050.7 150.7 L1051.2 150.3 L1051.7 150.0 L1052.3 149.6 L1053.8 149.3 L1054.3 148.9 L1054.8 148.6 L1055.3 148.3 L1055.8 147.9 L1057.3 147.4 L1057.9 147.0 L1058.4 146.5 L1058.9 146.0 L1059.4 145.5 L1060.9 145.0 L1061.4 144.4 L1061.9 143.9 L1062.4 143.3 L1062.9 142.9 L1064.5 142.4 L1065.0 142.0 L1065.5 141.7 L1066.0 141.2 L1066.5 140.8 L1068.0 140.4 L1068.5 140.0 L1069.1 139.7 L1069.6 139.4 L1070.1 139.0 L1071.6 138.5 L1072.1 137.9 L1072.6 137.2 L1073.1 136.6 L1073.6 135.9 L1075.2 135.3 L1075.7 134.7 L1076.2 134.2 L1076.7 133.8 L1077.2 133.4 L1078.7 132.8 L1079.2 132.2 L1079.8 131.5 L1080.3 131.0 L1080.8 130.4" fill="none" stroke="#800080" stroke-width="2.08" stroke-linejoin="round"/>
<line x1="45.5" y1="18.5" x2="1130.5" y2="18.5" stroke="#008000" stroke-opacity="0.72" stroke-width="1.35" stroke-dasharray="8.9 2.2 1.4 2.2"/>
<line x1="45.5" y1="251.5" x2="1130.5" y2="251.5" stroke="#ff0000" stroke-opacity="0.72" stroke-width="1.35" stroke-dasharray="8.9 2.2 1.4 2.2"/>
<line x1="1080.5" y1="412.5" x2="1080.5" y2="9.5" stroke="#ff0000" stroke-opacity="0.72" stroke-width="1.35" stroke-dasharray="5.14 2.22"/>
</g>
<rect x="45.5" y="9.5" width="1085.0" height="403.0" fill="none" stroke="#000" stroke-width="1.1"/>
<line x1="175.5" y1="412.5" x2="175.5" y2="417.9" stroke="#000" stroke-width="1.1"/>
<line x1="361.5" y1="412.5" x2="361.5" y2="417.9" stroke="#000" stroke-width="1.1"/>
<line x1="547.5" y1="412.5" x2="547.5" y2="417.9" stroke="#000" stroke-width="1.1"/>
<line x1="732.5" y1="412.5" x2="732.5" y2="417.9" stroke="#000" stroke-width="1.1"/>
<line x1="919.5" y1="412.5" x2="919.5" y2="417.9" stroke="#000" stroke-width="1.1"/>
<line x1="1105.5" y1="412.5" x2="1105.5" y2="417.9" stroke="#000" stroke-width="1.1"/>
<line x1="40.1" y1="366.5" x2="45.5" y2="366.5" stroke="#000" stroke-width="1.1"/>
<text y="371.10" font-size="12.92" xml:space="preserve"><tspan x="18.94" textLength="16.66" lengthAdjust="spacingAndGlyphs">25</tspan></text>
<line x1="40.1" y1="319.5" x2="45.5" y2="319.5" stroke="#000" stroke-width="1.1"/>
<text y="324.10" font-size="12.92" xml:space="preserve"><tspan x="18.94" textLength="16.66" lengthAdjust="spacingAndGlyphs">50</tspan></text>
<line x1="40.1" y1="273.5" x2="45.5" y2="273.5" stroke="#000" stroke-width="1.1"/>
<text y="278.10" font-size="12.92" xml:space="preserve"><tspan x="18.94" textLength="16.66" lengthAdjust="spacingAndGlyphs">75</tspan></text>
<line x1="40.1" y1="226.5" x2="45.5" y2="226.5" stroke="#000" stroke-width="1.1"/>
<text y="231.10" font-size="12.92" xml:space="preserve"><tspan x="10.61" textLength="24.99" lengthAdjust="spacingAndGlyphs">100</tspan></text>
<line x1="40.1" y1="180.5" x2="45.5" y2="180.5" stroke="#000" stroke-width="1.1"/>
<text y="185.10" font-size="12.92" xml:space="preserve"><tspan x="10.61" textLength="24.99" lengthAdjust="spacingAndGlyphs">125</tspan></text>
<line x1="40.1" y1="134.5" x2="45.5" y2="134.5" stroke="#000" stroke-width="1.1"/>
<text y="139.10" font-size="12.92" xml:space="preserve"><tspan x="10.61" textLength="24.99" lengthAdjust="spacingAndGlyphs">150</tspan></text>
<line x1="40.1" y1="87.5" x2="45.5" y2="87.5" stroke="#000" stroke-width="1.1"/>
<text y="92.10" font-size="12.92" xml:space="preserve"><tspan x="10.61" textLength="24.99" lengthAdjust="spacingAndGlyphs">175</tspan></text>
<line x1="40.1" y1="41.5" x2="45.5" y2="41.5" stroke="#000" stroke-width="1.1"/>
<text y="46.10" font-size="12.92" xml:space="preserve"><tspan x="10.61" textLength="24.99" lengthAdjust="spacingAndGlyphs">200</tspan></text>
<rect x="52.5" y="16.5" width="108" height="119.8" rx="2.8" fill="#fff" fill-opacity="0.8" stroke="#ccc" stroke-opacity="0.8" stroke-width="1.1"/>
<line x1="56" y1="27" x2="86.1" y2="27" stroke="#000" stroke-width="2.08"/>
<text y="31.60" font-size="12.60" xml:space="preserve"><tspan x="96.60" textLength="32.91" lengthAdjust="spacingAndGlyphs">Close</tspan></text>
<line x1="56" y1="47" x2="86.1" y2="47" stroke="#008000" stroke-width="2.08"/>
<text y="51.60" font-size="12.60" xml:space="preserve"><tspan x="96.60" textLength="38.56" lengthAdjust="spacingAndGlyphs">MA50[</tspan><tspan x="135.16" textLength="13.40" lengthAdjust="spacingAndGlyphs">买</tspan><tspan x="148.56" textLength="4.02" lengthAdjust="spacingAndGlyphs">]</tspan></text>
<line x1="56" y1="67" x2="86.1" y2="67" stroke="#ff0000" stroke-width="2.08"/>
<text y="72.50" font-size="12.60" xml:space="preserve"><tspan x="96.60" textLength="38.56" lengthAdjust="spacingAndGlyphs">MA25[</tspan><tspan x="135.16" textLength="13.40" lengthAdjust="spacingAndGlyphs">卖</tspan><tspan x="148.56" textLength="4.02" lengthAdjust="spacingAndGlyphs">]</tspan></text>
<line x1="56" y1="86" x2="86.1" y2="86" stroke="#800080" stroke-width="2.08"/>
<text y="91.80" font-size="12.60" xml:space="preserve"><tspan x="96.60" textLength="42.58" lengthAdjust="spacingAndGlyphs">MA200</tspan></text>
<path d="M71.4 95.2 L60.9 116.2 L81.9 116.2Z" fill="#008000"/>
<path d="M71.4 136.0 L60.9 115.0 L81.9 115.0Z" fill="#ff0000"/>
<text y="109.50" font-size="12.60" xml:space="preserve"><tspan x="96.60" textLength="21.15" lengthAdjust="spacingAndGlyphs">Buy</tspan></text>
<text y="129.00" font-size="12.60" xml:space="preserve"><tspan x="96.80" textLength="21.93" lengthAdjust="spacingAndGlyphs">Sell</tspan></text>
<rect x="930.1" y="289.5" width="182.8" height="106.5" rx="4.6" fill="#fff" fill-opacity="0.9" stroke="#ff0000" stroke-width="1.39"/>
<text y="305.60" font-size="15.28" fill="#ff0000" xml:space="preserve"><tspan x="956.00" textLength="50.39" lengthAdjust="spacingAndGlyphs">183.82</tspan> <tspan x="1010.98" textLength="41.23" lengthAdjust="spacingAndGlyphs">(-3.15</tspan> <tspan x="1056.79" textLength="51.91" lengthAdjust="spacingAndGlyphs">-1.68%)</tspan></text>
<text y="322.22" font-size="15.28" fill="#ff0000" xml:space="preserve"><tspan x="1007.92" textLength="100.78" lengthAdjust="spacingAndGlyphs">86.61~212.15</tspan></text>
<text y="338.84" font-size="15.28" fill="#ff0000" xml:space="preserve"><tspan x="941.65" textLength="167.05" lengthAdjust="spacingAndGlyphs">190.59/185.47/151.14</tspan></text>
<text y="355.46" font-size="15.28" fill="#ff0000" xml:space="preserve"><tspan x="980.43" textLength="82.46" lengthAdjust="spacingAndGlyphs">2025-11-14</tspan> <tspan x="1067.47" textLength="41.23" lengthAdjust="spacingAndGlyphs">05:00</tspan></text>
<text y="372.08" font-size="15.28" fill="#ff0000" xml:space="preserve"><tspan x="935.22" textLength="44.59" lengthAdjust="spacingAndGlyphs">-0.80/</tspan><tspan x="979.80" textLength="30.56" lengthAdjust="spacingAndGlyphs">偏空</tspan><tspan x="1010.36" textLength="98.34" lengthAdjust="spacingAndGlyphs">/+0.52/+0.16</tspan></text>
<text y="388.70" font-size="15.28" fill="#ff0000" xml:space="preserve"><tspan x="1001.78" textLength="30.56" lengthAdjust="spacingAndGlyphs">连跌</tspan><tspan x="1032.34" textLength="9.16" lengthAdjust="spacingAndGlyphs">3</tspan><tspan x="1041.51" textLength="15.28" lengthAdjust="spacingAndGlyphs">天</tspan> <tspan x="1061.37" textLength="47.33" lengthAdjust="spacingAndGlyphs">-5.18%</tspan></text>
<g clip-path="url(#c2)">
<line x1="175.5" y1="425.5" x2="175.5" y2="559.5" stroke="#b0b0b0" stroke-width="1.1"/>
<line x1="361.5" y1="425.5" x2="361.5" y2="559.5" stroke="#b0b0b0" stroke-width="1.1"/>
<line x1="547.5" y1="425.5" x2="547.5" y2="559.5" stroke="#b0b0b0" stroke-width="1.1"/>
<line x1="732.5" y1="425.5" x2="732.5" y2="559.5" stroke="#b0b0b0" stroke-width="1.1"/>
<line x1="919.5" y1="425.5" x2="919.5" y2="559.5" stroke="#b0b0b0" stroke-width="1.1"/>
<line x1="1105.5" y1="425.5" x2="1105.5" y2="559.5" stroke="#b0b0b0" stroke-width="1.1"/>
<line x1="45.5" y1="559.5" x2="1130.5" y2="559.5" stroke="#b0b0b0" stroke-width="1.1"/>
<line x1="45.5" y1="525.5" x2="1130.5" y2="525.5" stroke="#b0b0b0" stroke-width="1.1"/>
<line x1="45.5" y1="491.5" x2="1130.5" y2="491.5" stroke="#b0b0b0" stroke-width="1.1"/>
<line x1="45.5" y1="457.5" x2="1130.5" y2="457.5" stroke="#b0b0b0" stroke-width="1.1"/>
<path d="M93.154 559.5V548.3h0.407V559.5ZM94.682 559.5V543.2h0.407V559.5ZM95.191 559.5V550.2h0.407V559.5ZM95.700 559.5V545.9h0.407V559.5ZM96.209 559.5V547.6h0.407V559.5ZM96.719 559.5V549.0h0.407V559.5ZM98.247 559.5V542.8h0.407V559.5ZM98.756 559.5V543.8h0.407V559.5ZM99.265 559.5V550.3h0.407V559.5ZM99.774 559.5V549.0h0.407V559.5ZM100.284 559.5V542.8h0.407V559.5ZM101.811 559.5V540.3h0.407V559.5ZM102.321 559.5V545.5h0.407V559.5ZM102.830 559.5V542.1h0.407V559.5ZM103.339 559.5V540.5h0.407V559.5ZM103.848 559.5V543.9h0.407V559.5ZM105.376 559.5V518.7h0.407V559.5ZM105.886 559.5V549.6h0.407V559.5ZM106.395 559.5V548.2h0.407V559.5ZM106.904 559.5V545.4h0.407V559.5ZM107.413 559.5V541.3h0.407V559.5ZM108.941 559.5V548.9h0.407V559.5ZM109.450 559.5V548.0h0.407V559.5ZM109.960 559.5V550.9h0.407V559.5ZM110.469 559.5V544.5h0.407V559.5ZM110.978 559.5V547.5h0.407V559.5ZM112.506 559.5V543.1h0.407V559.5ZM113.015 559.5V549.5h0.407V559.5ZM113.525 559.5V544.9h0.407V559.5ZM114.034 559.5V544.8h0.407V559.5ZM114.543 559.5V547.3h0.407V559.5ZM116.580 559.5V544.1h0.407V559.5ZM117.090 559.5V540.8h0.407V559.5ZM117.599 559.5V534.0h0.407V559.5ZM118.108 559.5V544.1h0.407V559.5ZM119.636 559.5V545.2h0.407V559.5ZM120.145 559.5V539.8h0.407V559.5ZM120.654 559.5V543.5h0.407V559.5ZM121.164 559.5V532.8h0.407V559.5ZM121.673 559.5V532.4h0.407V559.5ZM123.201 559.5V529.3h0.407V559.5ZM123.710 559.5V531.9h0.407V559.5ZM124.219 559.5V522.1h0.407V559.5ZM124.729 559.5V544.1h0.407V559.5ZM125.238 559.5V532.3h0.407V559.5ZM126.766 559.5V534.4h0.407V559.5ZM127.275 559.5V534.0h0.407V559.5ZM127.784 559.5V535.1h0.407V559.5ZM128.293 559.5V532.1h0.407V559.5ZM128.803 559.5V542.5h0.407V559.5ZM130.331 559.5V535.6h0.407V559.5ZM130.840 559.5V538.7h0.407V559.5ZM131.349 559.5V541.9h0.407V559.5ZM131.858 559.5V542.1h0.407V559.5ZM132.368 559.5V544.5h0.407V559.5ZM133.895 559.5V539.2h0.407V559.5ZM134.405 559.5V541.4h0.407V559.5ZM134.914 559.5V540.5h0.407V559.5ZM135.423 559.5V531.6h0.407V559.5ZM135.933 559.5V535.4h0.407V559.5ZM137.460 559.5V535.4h0.407V559.5ZM137.970 559.5V528.4h0.407V559.5ZM138.479 559.5V543.7h0.407V559.5ZM138.988 559.5V538.9h0.407V559.5ZM139.497 559.5V545.2h0.407V559.5ZM141.025 559.5V528.9h0.407V559.5ZM141.534 559.5V520.6h0.407V559.5ZM142.044 559.5V531.8h0.407V559.5ZM142.553 559.5V523.8h0.407V559.5ZM143.062 559.5V522.0h0.407V559.5ZM144.590 559.5V527.4h0.407V559.5ZM145.099 559.5V523.1h0.407V559.5ZM145.609 559.5V528.3h0.407V559.5ZM146.118 559.5V529.3h0.407V559.5ZM146.627 559.5V527.4h0.407V559.5ZM148.155 559.5V471.1h0.407V559.5ZM148.664 559.5V529.8h0.407V559.5ZM149.174 559.5V529.9h0.407V559.5ZM149.683 559.5V520.0h0.407V559.5ZM150.192 559.5V505.1h0.407V559.5ZM151.720 559.5V530.7h0.407V559.5ZM152.229 559.5V520.8h0.407V559.5ZM152.738 559.5V531.5h0.407V559.5ZM153.248 559.5V520.4h0.407V559.5ZM153.757 559.5V522.2h0.407V559.5ZM155.285 559.5V525.5h0.407V559.5ZM155.794 559.5V528.4h0.407V559.5ZM156.303 559.5V531.0h0.407V559.5ZM157.322 559.5V531.7h0.407V559.5ZM158.850 559.5V531.7h0.407V559.5ZM159.359 559.5V529.4h0.407V559.5ZM159.868 559.5V528.7h0.407V559.5ZM160.377 559.5V521.1h0.407V559.5ZM160.887 559.5V527.0h0.407V559.5ZM162.415 559.5V519.9h0.407V559.5ZM162.924 559.5V524.3h0.407V559.5ZM163.433 559.5V531.4h0.407V559.5ZM163.942 559.5V526.8h0.407V559.5ZM164.452 559.5V531.3h0.407V559.5ZM165.979 559.5V532.1h0.407V559.5ZM166.489 559.5V520.7h0.407V559.5ZM166.998 559.5V529.5h0.407V559.5ZM167.507 559.5V531.0h0.407V559.5ZM168.017 559.5V531.7h0.407V559.5ZM169.544 559.5V532.6h0.407V559.5ZM170.054 559.5V536.4h0.407V559.5ZM170.563 559.5V542.4h0.407V559.5ZM171.072 559.5V531.3h0.407V559.5ZM173.109 559.5V539.8h0.407V559.5ZM173.618 559.5V529.8h0.407V559.5ZM174.128 559.5V505.1h0.407V559.5ZM174.637 559.5V535.0h0.407V559.5ZM176.674 559.5V536.5h0.407V559.5ZM177.183 559.5V494.9h0.407V559.5ZM177.693 559.5V524.8h0.407V559.5ZM178.202 559.5V529.4h0.407V559.5ZM178.711 559.5V542.0h0.407V559.5ZM180.239 559.5V535.8h0.407V559.5ZM180.748 559.5V540.1h0.407V559.5ZM181.258 559.5V541.7h0.407V559.5ZM181.767 559.5V540.6h0.407V559.5ZM182.276 559.5V539.9h0.407V559.5ZM184.313 559.5V525.6h0.407V559.5ZM184.822 559.5V530.6h0.407V559.5ZM185.332 559.5V528.2h0.407V559.5ZM185.841 559.5V531.6h0.407V559.5ZM187.369 559.5V538.9h0.407V559.5ZM187.878 559.5V537.6h0.407V559.5ZM188.387 559.5V536.8h0.407V559.5ZM188.897 559.5V539.2h0.407V559.5ZM189.406 559.5V537.1h0.407V559.5ZM190.934 559.5V530.0h0.407V559.5ZM191.443 559.5V541.9h0.407V559.5ZM191.952 559.5V539.5h0.407V559.5ZM192.461 559.5V536.1h0.407V559.5ZM192.971 559.5V532.1h0.407V559.5ZM194.499 559.5V532.8h0.407V559.5ZM195.008 559.5V531.1h0.407V559.5ZM195.517 559.5V541.7h0.407V559.5ZM196.026 559.5V530.8h0.407V559.5ZM196.536 559.5V529.1h0.407V559.5ZM198.573 559.5V529.5h0.407V559.5ZM199.082 559.5V521.4h0.407V559.5ZM199.591 559.5V516.3h0.407V559.5ZM200.101 559.5V522.8h0.407V559.5ZM201.628 559.5V532.1h0.407V559.5ZM202.138 559.5V500.0h0.407V559.5ZM202.647 559.5V520.4h0.407V559.5ZM203.156 559.5V517.9h0.407V559.5ZM203.665 559.5V524.5h0.407V559.5ZM205.193 559.5V498.3h0.407V559.5ZM205.702 559.5V528.5h0.407V559.5ZM206.212 559.5V523.8h0.407V559.5ZM206.721 559.5V519.2h0.407V559.5ZM207.230 559.5V477.9h0.407V559.5ZM208.758 559.5V530.7h0.407V559.5ZM209.267 559.5V532.2h0.407V559.5ZM209.777 559.5V531.2h0.407V559.5ZM210.286 559.5V519.4h0.407V559.5ZM210.795 559.5V523.9h0.407V559.5ZM212.323 559.5V516.4h0.407V559.5ZM212.832 559.5V531.9h0.407V559.5ZM213.342 559.5V528.3h0.407V559.5ZM213.851 559.5V520.6h0.407V559.5ZM214.360 559.5V523.3h0.407V559.5ZM215.888 559.5V531.9h0.407V559.5ZM216.397 559.5V527.8h0.407V559.5ZM216.906 559.5V523.7h0.407V559.5ZM217.416 559.5V522.7h0.407V559.5ZM217.925 559.5V527.0h0.407V559.5ZM219.453 559.5V530.7h0.407V559.5ZM219.962 559.5V517.0h0.407V559.5ZM220.471 559.5V526.7h0.407V559.5ZM220.981 559.5V522.2h0.407V559.5ZM223.018 559.5V525.6h0.407V559.5ZM223.527 559.5V531.8h0.407V559.5ZM224.036 559.5V530.1h0.407V559.5ZM224.545 559.5V531.9h0.407V559.5ZM225.055 559.5V530.7h0.407V559.5ZM226.583 559.5V536.8h0.407V559.5ZM227.092 559.5V532.8h0.407V559.5ZM227.601 559.5V534.7h0.407V559.5ZM228.110 559.5V533.9h0.407V559.5ZM228.620 559.5V522.9h0.407V559.5ZM230.147 559.5V538.9h0.407V559.5ZM230.657 559.5V538.1h0.407V559.5ZM231.166 559.5V523.2h0.407V559.5ZM231.675 559.5V530.1h0.407V559.5ZM232.185 559.5V532.3h0.407V559.5ZM233.712 559.5V535.7h0.407V559.5ZM234.222 559.5V529.9h0.407V559.5ZM234.731 559.5V536.4h0.407V559.5ZM235.240 559.5V521.8h0.407V559.5ZM235.749 559.5V522.7h0.407V559.5ZM237.277 559.5V494.9h0.407V559.5ZM237.787 559.5V538.9h0.407V559.5ZM238.296 559.5V520.9h0.407V559.5ZM238.805 559.5V535.1h0.407V559.5ZM239.314 559.5V527.2h0.407V559.5ZM240.842 559.5V521.8h0.407V559.5ZM241.351 559.5V523.4h0.407V559.5ZM241.861 559.5V521.6h0.407V559.5ZM242.370 559.5V531.2h0.407V559.5ZM242.879 559.5V522.2h0.407V559.5ZM244.407 559.5V531.8h0.407V559.5ZM244.916 559.5V535.7h0.407V559.5ZM245.426 559.5V531.4h0.407V559.5ZM245.935 559.5V534.4h0.407V559.5ZM246.444 559.5V524.3h0.407V559.5ZM247.972 559.5V522.5h0.407V559.5ZM248.481 559.5V505.1h0.407V559.5ZM248.990 559.5V537.3h0.407V559.5ZM249.500 559.5V533.4h0.407V559.5ZM250.009 559.5V531.7h0.407V559.5ZM252.046 559.5V518.9h0.407V559.5ZM252.555 559.5V519.4h0.407V559.5ZM253.065 559.5V522.0h0.407V559.5ZM253.574 559.5V526.5h0.407V559.5ZM255.102 559.5V527.4h0.407V559.5ZM255.611 559.5V533.4h0.407V559.5ZM256.120 559.5V532.1h0.407V559.5ZM256.629 559.5V535.6h0.407V559.5ZM257.139 559.5V524.6h0.407V559.5ZM258.667 559.5V533.3h0.407V559.5ZM259.176 559.5V494.9h0.407V559.5ZM259.685 559.5V532.8h0.407V559.5ZM260.194 559.5V532.7h0.407V559.5ZM260.704 559.5V526.6h0.407V559.5ZM262.231 559.5V511.9h0.407V559.5ZM262.741 559.5V533.8h0.407V559.5ZM263.250 559.5V523.4h0.407V559.5ZM263.759 559.5V524.2h0.407V559.5ZM264.269 559.5V528.2h0.407V559.5ZM265.796 559.5V529.3h0.407V559.5ZM266.306 559.5V533.9h0.407V559.5ZM266.815 559.5V523.8h0.407V559.5ZM267.324 559.5V525.9h0.407V559.5ZM267.833 559.5V530.0h0.407V559.5ZM269.871 559.5V534.5h0.407V559.5ZM270.380 559.5V534.0h0.407V559.5ZM270.889 559.5V532.0h0.407V559.5ZM271.398 559.5V532.6h0.407V559.5ZM272.926 559.5V535.4h0.407V559.5ZM273.435 559.5V531.6h0.407V559.5ZM273.945 559.5V531.0h0.407V559.5ZM274.454 559.5V494.9h0.407V559.5ZM274.963 559.5V531.9h0.407V559.5ZM276.491 559.5V532.6h0.407V559.5ZM277.000 559.5V532.0h0.407V559.5ZM277.510 559.5V528.3h0.407V559.5ZM278.019 559.5V530.3h0.407V559.5ZM278.528 559.5V534.2h0.407V559.5ZM280.056 559.5V544.2h0.407V559.5ZM280.565 559.5V546.8h0.407V559.5ZM281.074 559.5V547.3h0.407V559.5ZM281.584 559.5V545.0h0.407V559.5ZM282.093 559.5V544.6h0.407V559.5ZM283.621 559.5V543.7h0.407V559.5ZM284.130 559.5V544.0h0.407V559.5ZM284.639 559.5V545.4h0.407V559.5ZM285.149 559.5V544.9h0.407V559.5ZM285.658 559.5V549.3h0.407V559.5ZM287.186 559.5V545.1h0.407V559.5ZM287.695 559.5V548.7h0.407V559.5ZM288.204 559.5V548.7h0.407V559.5ZM288.714 559.5V549.5h0.407V559.5ZM289.223 559.5V547.7h0.407V559.5ZM290.751 559.5V549.9h0.407V559.5ZM291.260 559.5V545.5h0.407V559.5ZM291.769 559.5V544.7h0.407V559.5ZM292.278 559.5V522.1h0.407V559.5ZM292.788 559.5V549.4h0.407V559.5ZM294.315 559.5V545.7h0.407V559.5ZM294.825 559.5V543.8h0.407V559.5ZM295.334 559.5V549.8h0.407V559.5ZM295.843 559.5V549.1h0.407V559.5ZM296.353 559.5V548.7h0.407V559.5ZM297.880 559.5V547.2h0.407V559.5ZM298.390 559.5V549.2h0.407V559.5ZM298.899 559.5V546.6h0.407V559.5ZM299.408 559.5V548.1h0.407V559.5ZM299.917 559.5V545.6h0.407V559.5ZM301.955 559.5V546.7h0.407V559.5ZM302.464 559.5V545.3h0.407V559.5ZM302.973 559.5V548.8h0.407V559.5ZM303.482 559.5V545.1h0.407V559.5ZM305.010 559.5V544.8h0.407V559.5ZM305.519 559.5V544.9h0.407V559.5ZM306.029 559.5V549.7h0.407V559.5ZM306.538 559.5V542.6h0.407V559.5ZM307.047 559.5V546.3h0.407V559.5ZM308.575 559.5V547.5h0.407V559.5ZM309.084 559.5V545.9h0.407V559.5ZM309.594 559.5V545.0h0.407V559.5ZM310.103 559.5V545.0h0.407V559.5ZM310.612 559.5V547.7h0.407V559.5ZM312.140 559.5V547.5h0.407V559.5ZM312.649 559.5V546.6h0.407V559.5ZM313.158 559.5V541.7h0.407V559.5ZM313.668 559.5V545.9h0.407V559.5ZM314.177 559.5V549.1h0.407V559.5ZM315.705 559.5V545.7h0.407V559.5ZM316.214 559.5V548.1h0.407V559.5ZM316.723 559.5V549.2h0.407V559.5ZM317.233 559.5V538.9h0.407V559.5ZM317.742 559.5V547.3h0.407V559.5ZM319.270 559.5V544.7h0.407V559.5ZM319.779 559.5V546.7h0.407V559.5ZM320.288 559.5V549.0h0.407V559.5ZM320.798 559.5V540.0h0.407V559.5ZM321.307 559.5V539.5h0.407V559.5ZM322.835 559.5V548.2h0.407V559.5ZM323.344 559.5V546.1h0.407V559.5ZM323.853 559.5V546.5h0.407V559.5ZM324.362 559.5V548.3h0.407V559.5ZM324.872 559.5V543.2h0.407V559.5ZM326.399 559.5V511.9h0.407V559.5ZM326.909 559.5V541.9h0.407V559.5ZM327.418 559.5V543.0h0.407V559.5ZM327.927 559.5V549.2h0.407V559.5ZM328.437 559.5V547.9h0.407V559.5ZM329.964 559.5V545.0h0.407V559.5ZM330.474 559.5V542.7h0.407V559.5ZM330.983 559.5V546.4h0.407V559.5ZM331.492 559.5V500.0h0.407V559.5ZM332.001 559.5V540.8h0.407V559.5ZM333.529 559.5V549.2h0.407V559.5ZM334.039 559.5V547.5h0.407V559.5ZM334.548 559.5V547.3h0.407V559.5ZM335.057 559.5V524.8h0.407V559.5ZM335.566 559.5V540.2h0.407V559.5ZM337.094 559.5V508.5h0.407V559.5ZM337.603 559.5V537.2h0.407V559.5ZM338.113 559.5V532.7h0.407V559.5ZM338.622 559.5V541.1h0.407V559.5ZM339.131 559.5V528.5h0.407V559.5ZM340.659 559.5V540.6h0.407V559.5ZM341.168 559.5V506.8h0.407V559.5ZM341.678 559.5V541.0h0.407V559.5ZM342.696 559.5V527.5h0.407V559.5ZM344.224 559.5V540.5h0.407V559.5ZM344.733 559.5V530.9h0.407V559.5ZM345.242 559.5V528.5h0.407V559.5ZM345.752 559.5V539.8h0.407V559.5ZM346.261 559.5V541.8h0.407V559.5ZM347.789 559.5V534.0h0.407V559.5ZM348.298 559.5V535.7h0.407V559.5ZM348.807 559.5V536.1h0.407V559.5ZM349.317 559.5V529.8h0.407V559.5ZM349.826 559.5V536.4h0.407V559.5ZM351.354 559.5V535.7h0.407V559.5ZM351.863 559.5V535.9h0.407V559.5ZM352.372 559.5V536.5h0.407V559.5ZM352.882 559.5V537.4h0.407V559.5ZM353.391 559.5V541.0h0.407V559.5ZM354.919 559.5V539.2h0.407V559.5ZM355.428 559.5V539.6h0.407V559.5ZM355.937 559.5V539.9h0.407V559.5ZM356.446 559.5V529.8h0.407V559.5ZM358.483 559.5V541.6h0.407V559.5ZM358.993 559.5V540.5h0.407V559.5ZM359.502 559.5V535.2h0.407V559.5ZM360.011 559.5V538.9h0.407V559.5ZM360.521 559.5V540.0h0.407V559.5ZM362.048 559.5V521.0h0.407V559.5ZM362.558 559.5V518.7h0.407V559.5ZM363.067 559.5V515.2h0.407V559.5ZM363.576 559.5V508.3h0.407V559.5ZM364.085 559.5V511.2h0.407V559.5ZM365.613 559.5V520.0h0.407V559.5ZM366.123 559.5V519.6h0.407V559.5ZM366.632 559.5V520.2h0.407V559.5ZM367.141 559.5V523.0h0.407V559.5ZM367.650 559.5V508.8h0.407V559.5ZM369.687 559.5V525.0h0.407V559.5ZM370.197 559.5V523.5h0.407V559.5ZM370.706 559.5V515.4h0.407V559.5ZM371.215 559.5V474.5h0.407V559.5ZM372.743 559.5V522.5h0.407V559.5ZM373.252 559.5V471.1h0.407V559.5ZM373.762 559.5V520.3h0.407V559.5ZM374.271 559.5V516.8h0.407V559.5ZM374.780 559.5V524.8h0.407V559.5ZM376.308 559.5V510.3h0.407V559.5ZM376.817 559.5V524.7h0.407V559.5ZM377.326 559.5V520.6h0.407V559.5ZM377.836 559.5V510.4h0.407V559.5ZM378.345 559.5V509.0h0.407V559.5ZM379.873 559.5V510.0h0.407V559.5ZM380.382 559.5V511.8h0.407V559.5ZM380.891 559.5V523.1h0.407V559.5ZM381.401 559.5V525.3h0.407V559.5ZM381.910 559.5V519.6h0.407V559.5ZM383.438 559.5V525.1h0.407V559.5ZM383.947 559.5V508.6h0.407V559.5ZM384.456 559.5V472.8h0.407V559.5ZM384.966 559.5V521.7h0.407V559.5ZM385.475 559.5V523.5h0.407V559.5ZM387.512 559.5V525.4h0.407V559.5ZM388.021 559.5V518.7h0.407V559.5ZM388.530 559.5V525.0h0.407V559.5ZM389.040 559.5V510.1h0.407V559.5ZM390.568 559.5V514.9h0.407V559.5ZM391.077 559.5V521.0h0.407V559.5ZM391.586 559.5V511.5h0.407V559.5ZM392.095 559.5V512.5h0.407V559.5ZM392.605 559.5V521.7h0.407V559.5ZM394.132 559.5V511.3h0.407V559.5ZM394.642 559.5V509.4h0.407V559.5ZM395.151 559.5V516.3h0.407V559.5ZM395.660 559.5V521.3h0.407V559.5ZM396.169 559.5V510.1h0.407V559.5ZM397.697 559.5V509.0h0.407V559.5ZM398.207 559.5V521.4h0.407V559.5ZM398.716 559.5V524.9h0.407V559.5ZM399.225 559.5V510.8h0.407V559.5ZM399.734 559.5V515.4h0.407V559.5ZM401.262 559.5V501.7h0.407V559.5ZM401.771 559.5V517.4h0.407V559.5ZM402.281 559.5V522.0h0.407V559.5ZM402.790 559.5V509.6h0.407V559.5ZM403.299 559.5V521.5h0.407V559.5ZM404.827 559.5V523.6h0.407V559.5ZM405.336 559.5V525.2h0.407V559.5ZM405.846 559.5V521.5h0.407V559.5ZM406.355 559.5V507.9h0.407V559.5ZM406.864 559.5V523.3h0.407V559.5ZM408.392 559.5V519.5h0.407V559.5ZM408.901 559.5V508.3h0.407V559.5ZM409.410 559.5V525.4h0.407V559.5ZM409.920 559.5V522.2h0.407V559.5ZM410.429 559.5V511.9h0.407V559.5ZM411.957 559.5V524.8h0.407V559.5ZM412.466 559.5V509.4h0.407V559.5ZM412.975 559.5V511.6h0.407V559.5ZM413.485 559.5V524.3h0.407V559.5ZM415.522 559.5V516.9h0.407V559.5ZM416.031 559.5V512.9h0.407V559.5ZM416.540 559.5V508.4h0.407V559.5ZM417.050 559.5V520.0h0.407V559.5ZM417.559 559.5V518.0h0.407V559.5ZM419.087 559.5V521.6h0.407V559.5ZM419.596 559.5V520.4h0.407V559.5ZM420.105 559.5V523.0h0.407V559.5ZM420.614 559.5V500.7h0.407V559.5ZM421.124 559.5V501.3h0.407V559.5ZM422.652 559.5V518.6h0.407V559.5ZM423.161 559.5V494.9h0.407V559.5ZM423.670 559.5V514.9h0.407V559.5ZM424.179 559.5V520.6h0.407V559.5ZM424.689 559.5V518.9h0.407V559.5ZM426.216 559.5V498.3h0.407V559.5ZM426.726 559.5V519.1h0.407V559.5ZM427.235 559.5V512.2h0.407V559.5ZM427.744 559.5V499.1h0.407V559.5ZM428.253 559.5V520.2h0.407V559.5ZM429.781 559.5V504.3h0.407V559.5ZM430.291 559.5V524.1h0.407V559.5ZM430.800 559.5V507.0h0.407V559.5ZM431.309 559.5V504.3h0.407V559.5ZM431.818 559.5V503.2h0.407V559.5ZM433.346 559.5V497.9h0.407V559.5ZM433.855 559.5V507.8h0.407V559.5ZM434.365 559.5V488.1h0.407V559.5ZM434.874 559.5V520.7h0.407V559.5ZM435.383 559.5V514.0h0.407V559.5ZM437.420 559.5V522.2h0.407V559.5ZM437.930 559.5V524.6h0.407V559.5ZM438.439 559.5V516.4h0.407V559.5ZM438.948 559.5V507.5h0.407V559.5ZM440.476 559.5V505.4h0.407V559.5ZM440.985 559.5V525.4h0.407V559.5ZM441.495 559.5V499.2h0.407V559.5ZM442.004 559.5V521.4h0.407V559.5ZM442.513 559.5V520.4h0.407V559.5ZM444.041 559.5V503.4h0.407V559.5ZM444.550 559.5V501.1h0.407V559.5ZM445.059 559.5V518.3h0.407V559.5ZM445.569 559.5V527.7h0.407V559.5ZM446.078 559.5V525.0h0.407V559.5ZM448.115 559.5V515.6h0.407V559.5ZM448.624 559.5V527.2h0.407V559.5ZM449.134 559.5V516.4h0.407V559.5ZM449.643 559.5V517.1h0.407V559.5ZM451.171 559.5V501.7h0.407V559.5ZM451.680 559.5V513.9h0.407V559.5ZM452.189 559.5V526.6h0.407V559.5ZM452.698 559.5V517.9h0.407V559.5ZM453.208 559.5V520.8h0.407V559.5ZM455.245 559.5V527.7h0.407V559.5ZM455.754 559.5V523.4h0.407V559.5ZM456.263 559.5V521.6h0.407V559.5ZM456.773 559.5V523.3h0.407V559.5ZM458.300 559.5V531.3h0.407V559.5ZM458.810 559.5V511.1h0.407V559.5ZM459.319 559.5V511.8h0.407V559.5ZM459.828 559.5V532.0h0.407V559.5ZM460.337 559.5V512.5h0.407V559.5ZM461.865 559.5V523.4h0.407V559.5ZM462.375 559.5V531.1h0.407V559.5ZM462.884 559.5V516.0h0.407V559.5ZM463.393 559.5V525.6h0.407V559.5ZM463.902 559.5V518.9h0.407V559.5ZM465.430 559.5V515.8h0.407V559.5ZM465.939 559.5V523.3h0.407V559.5ZM466.449 559.5V531.9h0.407V559.5ZM466.958 559.5V516.0h0.407V559.5ZM467.467 559.5V519.4h0.407V559.5ZM468.995 559.5V513.5h0.407V559.5ZM469.504 559.5V528.8h0.407V559.5ZM470.014 559.5V517.0h0.407V559.5ZM470.523 559.5V514.6h0.407V559.5ZM471.032 559.5V527.2h0.407V559.5ZM472.560 559.5V526.1h0.407V559.5ZM473.069 559.5V526.1h0.407V559.5ZM473.579 559.5V532.2h0.407V559.5ZM474.088 559.5V528.6h0.407V559.5ZM474.597 559.5V526.2h0.407V559.5ZM476.125 559.5V531.0h0.407V559.5ZM476.634 559.5V512.6h0.407V559.5ZM477.143 559.5V523.6h0.407V559.5ZM477.653 559.5V519.3h0.407V559.5ZM478.162 559.5V527.3h0.407V559.5ZM479.690 559.5V525.4h0.407V559.5ZM480.199 559.5V513.1h0.407V559.5ZM480.708 559.5V522.3h0.407V559.5ZM481.218 559.5V518.4h0.407V559.5ZM481.727 559.5V523.7h0.407V559.5ZM483.255 559.5V519.7h0.407V559.5ZM483.764 559.5V507.7h0.407V559.5ZM484.273 559.5V457.5h0.407V559.5ZM484.782 559.5V520.9h0.407V559.5ZM485.292 559.5V515.4h0.407V559.5ZM487.329 559.5V531.3h0.407V559.5ZM487.838 559.5V505.2h0.407V559.5ZM488.347 559.5V521.5h0.407V559.5ZM488.857 559.5V528.3h0.407V559.5ZM490.384 559.5V512.8h0.407V559.5ZM490.894 559.5V510.8h0.407V559.5ZM491.403 559.5V517.3h0.407V559.5ZM491.912 559.5V507.0h0.407V559.5ZM492.422 559.5V531.3h0.407V559.5ZM493.949 559.5V520.6h0.407V559.5ZM494.459 559.5V486.4h0.407V559.5ZM494.968 559.5V507.0h0.407V559.5ZM495.477 559.5V516.9h0.407V559.5ZM495.986 559.5V518.2h0.407V559.5ZM497.514 559.5V524.7h0.407V559.5ZM498.023 559.5V519.2h0.407V559.5ZM498.533 559.5V519.7h0.407V559.5ZM499.042 559.5V507.4h0.407V559.5ZM499.551 559.5V510.4h0.407V559.5ZM501.079 559.5V513.4h0.407V559.5ZM501.588 559.5V510.8h0.407V559.5ZM502.098 559.5V520.1h0.407V559.5ZM502.607 559.5V512.9h0.407V559.5ZM503.116 559.5V516.7h0.407V559.5ZM504.644 559.5V513.2h0.407V559.5ZM505.153 559.5V518.4h0.407V559.5ZM505.663 559.5V516.7h0.407V559.5ZM506.172 559.5V512.2h0.407V559.5ZM506.681 559.5V520.3h0.407V559.5ZM508.209 559.5V518.5h0.407V559.5ZM508.718 559.5V516.4h0.407V559.5ZM509.227 559.5V511.8h0.407V559.5ZM509.737 559.5V518.6h0.407V559.5ZM510.246 559.5V512.2h0.407V559.5ZM511.774 559.5V518.9h0.407V559.5ZM512.283 559.5V518.3h0.407V559.5ZM512.792 559.5V515.7h0.407V559.5ZM513.302 559.5V514.5h0.407V559.5ZM513.811 559.5V511.4h0.407V559.5ZM515.339 559.5V511.4h0.407V559.5ZM515.848 559.5V518.8h0.407V559.5ZM516.357 559.5V513.3h0.407V559.5ZM516.866 559.5V514.7h0.407V559.5ZM517.376 559.5V517.5h0.407V559.5ZM518.904 559.5V512.9h0.407V559.5ZM519.413 559.5V503.4h0.407V559.5ZM519.922 559.5V516.5h0.407V559.5ZM520.431 559.5V510.9h0.407V559.5ZM520.941 559.5V519.8h0.407V559.5ZM522.468 559.5V519.5h0.407V559.5ZM522.978 559.5V513.0h0.407V559.5ZM523.487 559.5V518.3h0.407V559.5ZM523.996 559.5V515.3h0.407V559.5ZM524.506 559.5V516.3h0.407V559.5ZM526.033 559.5V519.6h0.407V559.5ZM526.543 559.5V513.2h0.407V559.5ZM527.052 559.5V530.7h0.407V559.5ZM528.070 559.5V541.2h0.407V559.5ZM529.598 559.5V539.7h0.407V559.5ZM530.107 559.5V529.4h0.407V559.5ZM530.617 559.5V526.8h0.407V559.5ZM531.126 559.5V527.8h0.407V559.5ZM531.635 559.5V535.6h0.407V559.5ZM533.163 559.5V538.0h0.407V559.5ZM533.672 559.5V536.7h0.407V559.5ZM534.182 559.5V540.9h0.407V559.5ZM534.691 559.5V535.7h0.407V559.5ZM535.200 559.5V540.1h0.407V559.5ZM536.728 559.5V541.0h0.407V559.5ZM537.237 559.5V537.8h0.407V559.5ZM537.747 559.5V542.0h0.407V559.5ZM538.256 559.5V536.2h0.407V559.5ZM538.765 559.5V531.7h0.407V559.5ZM540.293 559.5V532.6h0.407V559.5ZM540.802 559.5V525.2h0.407V559.5ZM541.311 559.5V527.4h0.407V559.5ZM541.821 559.5V533.0h0.407V559.5ZM542.330 559.5V527.1h0.407V559.5ZM544.367 559.5V536.7h0.407V559.5ZM544.876 559.5V529.4h0.407V559.5ZM545.386 559.5V539.4h0.407V559.5ZM545.895 559.5V535.2h0.407V559.5ZM547.932 559.5V525.1h0.407V559.5ZM548.441 559.5V533.7h0.407V559.5ZM548.950 559.5V535.5h0.407V559.5ZM549.460 559.5V529.7h0.407V559.5ZM550.988 559.5V538.9h0.407V559.5ZM551.497 559.5V528.7h0.407V559.5ZM552.006 559.5V542.4h0.407V559.5ZM552.515 559.5V540.0h0.407V559.5ZM553.025 559.5V540.8h0.407V559.5ZM555.062 559.5V539.8h0.407V559.5ZM555.571 559.5V525.9h0.407V559.5ZM556.080 559.5V542.3h0.407V559.5ZM556.590 559.5V539.1h0.407V559.5ZM558.117 559.5V534.2h0.407V559.5ZM558.627 559.5V531.5h0.407V559.5ZM559.136 559.5V530.0h0.407V559.5ZM559.645 559.5V537.8h0.407V559.5ZM560.154 559.5V540.3h0.407V559.5ZM561.682 559.5V528.2h0.407V559.5ZM562.191 559.5V541.5h0.407V559.5ZM562.701 559.5V542.0h0.407V559.5ZM563.210 559.5V540.1h0.407V559.5ZM563.719 559.5V535.8h0.407V559.5ZM565.247 559.5V526.0h0.407V559.5ZM565.756 559.5V531.0h0.407V559.5ZM566.266 559.5V534.4h0.407V559.5ZM566.775 559.5V535.3h0.407V559.5ZM567.284 559.5V531.7h0.407V559.5ZM568.812 559.5V533.2h0.407V559.5ZM569.321 559.5V538.5h0.407V559.5ZM569.831 559.5V541.8h0.407V559.5ZM570.340 559.5V540.5h0.407V559.5ZM570.849 559.5V529.8h0.407V559.5ZM572.886 559.5V533.0h0.407V559.5ZM573.395 559.5V488.1h0.407V559.5ZM573.905 559.5V542.2h0.407V559.5ZM574.414 559.5V527.0h0.407V559.5ZM575.942 559.5V537.8h0.407V559.5ZM576.451 559.5V526.4h0.407V559.5ZM576.960 559.5V533.8h0.407V559.5ZM577.470 559.5V534.8h0.407V559.5ZM577.979 559.5V529.0h0.407V559.5ZM579.507 559.5V533.2h0.407V559.5ZM580.016 559.5V532.2h0.407V559.5ZM580.525 559.5V541.1h0.407V559.5ZM581.034 559.5V533.6h0.407V559.5ZM581.544 559.5V538.2h0.407V559.5ZM583.072 559.5V548.8h0.407V559.5ZM583.581 559.5V548.4h0.407V559.5ZM584.090 559.5V544.1h0.407V559.5ZM584.599 559.5V547.0h0.407V559.5ZM585.109 559.5V539.4h0.407V559.5ZM586.636 559.5V548.5h0.407V559.5ZM587.146 559.5V523.8h0.407V559.5ZM587.655 559.5V535.0h0.407V559.5ZM588.164 559.5V546.4h0.407V559.5ZM588.674 559.5V543.7h0.407V559.5ZM590.201 559.5V547.6h0.407V559.5ZM590.711 559.5V547.6h0.407V559.5ZM591.220 559.5V545.2h0.407V559.5ZM591.729 559.5V539.0h0.407V559.5ZM592.238 559.5V549.1h0.407V559.5ZM593.766 559.5V538.1h0.407V559.5ZM594.276 559.5V535.1h0.407V559.5ZM594.785 559.5V542.9h0.407V559.5ZM595.294 559.5V545.8h0.407V559.5ZM597.331 559.5V547.3h0.407V559.5ZM597.840 559.5V547.9h0.407V559.5ZM598.350 559.5V546.3h0.407V559.5ZM598.859 559.5V537.8h0.407V559.5ZM599.368 559.5V549.2h0.407V559.5ZM600.896 559.5V539.0h0.407V559.5ZM601.405 559.5V541.1h0.407V559.5ZM601.915 559.5V549.2h0.407V559.5ZM602.424 559.5V548.9h0.407V559.5ZM602.933 559.5V539.9h0.407V559.5ZM604.461 559.5V541.0h0.407V559.5ZM604.970 559.5V546.4h0.407V559.5ZM605.479 559.5V537.6h0.407V559.5ZM605.989 559.5V547.6h0.407V559.5ZM606.498 559.5V544.9h0.407V559.5ZM608.026 559.5V548.5h0.407V559.5ZM608.535 559.5V541.5h0.407V559.5ZM609.044 559.5V548.7h0.407V559.5ZM609.554 559.5V547.9h0.407V559.5ZM610.063 559.5V530.1h0.407V559.5ZM611.591 559.5V535.7h0.407V559.5ZM612.100 559.5V532.4h0.407V559.5ZM612.609 559.5V530.9h0.407V559.5ZM613.118 559.5V533.6h0.407V559.5ZM613.628 559.5V540.6h0.407V559.5ZM615.156 559.5V531.6h0.407V559.5ZM615.665 559.5V541.6h0.407V559.5ZM616.174 559.5V539.6h0.407V559.5ZM616.683 559.5V536.6h0.407V559.5ZM617.193 559.5V541.6h0.407V559.5ZM618.720 559.5V541.7h0.407V559.5ZM619.230 559.5V515.3h0.407V559.5ZM619.739 559.5V530.7h0.407V559.5ZM620.248 559.5V538.0h0.407V559.5ZM620.758 559.5V537.7h0.407V559.5ZM622.795 559.5V540.5h0.407V559.5ZM623.304 559.5V488.1h0.407V559.5ZM623.813 559.5V534.1h0.407V559.5ZM624.322 559.5V526.2h0.407V559.5ZM625.850 559.5V542.2h0.407V559.5ZM626.360 559.5V526.8h0.407V559.5ZM626.869 559.5V524.8h0.407V559.5ZM627.378 559.5V538.4h0.407V559.5ZM627.887 559.5V531.0h0.407V559.5ZM629.415 559.5V528.8h0.407V559.5ZM629.924 559.5V532.6h0.407V559.5ZM630.434 559.5V539.3h0.407V559.5ZM630.943 559.5V533.2h0.407V559.5ZM631.452 559.5V527.6h0.407V559.5ZM633.489 559.5V541.6h0.407V559.5ZM633.999 559.5V536.0h0.407V559.5ZM634.508 559.5V542.3h0.407V559.5ZM635.017 559.5V528.3h0.407V559.5ZM636.545 559.5V529.9h0.407V559.5ZM637.054 559.5V545.6h0.407V559.5ZM637.563 559.5V536.4h0.407V559.5ZM638.073 559.5V537.3h0.407V559.5ZM638.582 559.5V545.0h0.407V559.5ZM640.110 559.5V540.0h0.407V559.5ZM641.128 559.5V537.3h0.407V559.5ZM641.638 559.5V542.7h0.407V559.5ZM642.147 559.5V540.4h0.407V559.5ZM643.675 559.5V532.0h0.407V559.5ZM644.184 559.5V538.3h0.407V559.5ZM644.693 559.5V540.4h0.407V559.5ZM645.203 559.5V525.4h0.407V559.5ZM645.712 559.5V545.1h0.407V559.5ZM647.240 559.5V534.4h0.407V559.5ZM647.749 559.5V536.4h0.407V559.5ZM648.258 559.5V534.7h0.407V559.5ZM648.767 559.5V539.2h0.407V559.5ZM649.277 559.5V539.2h0.407V559.5ZM650.804 559.5V539.9h0.407V559.5ZM651.314 559.5V536.6h0.407V559.5ZM651.823 559.5V542.8h0.407V559.5ZM652.332 559.5V540.5h0.407V559.5ZM652.842 559.5V540.9h0.407V559.5ZM654.369 559.5V537.8h0.407V559.5ZM654.879 559.5V544.1h0.407V559.5ZM655.388 559.5V545.7h0.407V559.5ZM655.897 559.5V545.3h0.407V559.5ZM656.406 559.5V544.5h0.407V559.5ZM657.934 559.5V534.3h0.407V559.5ZM658.444 559.5V536.9h0.407V559.5ZM658.953 559.5V536.3h0.407V559.5ZM659.462 559.5V520.4h0.407V559.5ZM659.971 559.5V545.2h0.407V559.5ZM661.499 559.5V540.9h0.407V559.5ZM662.008 559.5V534.2h0.407V559.5ZM662.518 559.5V540.3h0.407V559.5ZM663.027 559.5V538.3h0.407V559.5ZM663.536 559.5V542.2h0.407V559.5ZM665.064 559.5V548.2h0.407V559.5ZM665.573 559.5V541.8h0.407V559.5ZM666.083 559.5V544.0h0.407V559.5ZM666.592 559.5V546.0h0.407V559.5ZM667.101 559.5V547.1h0.407V559.5ZM668.629 559.5V540.6h0.407V559.5ZM669.138 559.5V546.3h0.407V559.5ZM669.647 559.5V542.6h0.407V559.5ZM670.157 559.5V547.1h0.407V559.5ZM670.666 559.5V539.6h0.407V559.5ZM672.703 559.5V545.6h0.407V559.5ZM673.212 559.5V544.1h0.407V559.5ZM673.722 559.5V536.4h0.407V559.5ZM674.231 559.5V540.2h0.407V559.5ZM675.759 559.5V539.9h0.407V559.5ZM676.268 559.5V546.1h0.407V559.5ZM676.777 559.5V538.0h0.407V559.5ZM677.287 559.5V545.5h0.407V559.5ZM677.796 559.5V535.2h0.407V559.5ZM679.324 559.5V537.0h0.407V559.5ZM679.833 559.5V541.3h0.407V559.5ZM680.342 559.5V523.8h0.407V559.5ZM680.851 559.5V543.1h0.407V559.5ZM681.361 559.5V540.0h0.407V559.5ZM682.888 559.5V548.4h0.407V559.5ZM683.398 559.5V535.2h0.407V559.5ZM683.907 559.5V538.8h0.407V559.5ZM684.416 559.5V548.3h0.407V559.5ZM684.926 559.5V547.3h0.407V559.5ZM686.453 559.5V542.6h0.407V559.5ZM686.963 559.5V539.5h0.407V559.5ZM687.472 559.5V548.2h0.407V559.5ZM687.981 559.5V535.7h0.407V559.5ZM688.490 559.5V546.0h0.407V559.5ZM690.018 559.5V535.1h0.407V559.5ZM690.528 559.5V539.6h0.407V559.5ZM691.037 559.5V544.0h0.407V559.5ZM691.546 559.5V545.8h0.407V559.5ZM692.055 559.5V548.8h0.407V559.5ZM693.583 559.5V548.9h0.407V559.5ZM694.092 559.5V543.6h0.407V559.5ZM694.602 559.5V541.8h0.407V559.5ZM695.111 559.5V539.9h0.407V559.5ZM695.620 559.5V546.6h0.407V559.5ZM697.148 559.5V532.2h0.407V559.5ZM697.657 559.5V547.3h0.407V559.5ZM698.167 559.5V539.4h0.407V559.5ZM698.676 559.5V539.7h0.407V559.5ZM699.185 559.5V548.4h0.407V559.5ZM700.713 559.5V540.5h0.407V559.5ZM701.222 559.5V542.7h0.407V559.5ZM701.731 559.5V542.7h0.407V559.5ZM702.241 559.5V540.8h0.407V559.5ZM702.750 559.5V544.7h0.407V559.5ZM704.278 559.5V545.1h0.407V559.5ZM704.787 559.5V546.6h0.407V559.5ZM705.296 559.5V540.5h0.407V559.5ZM705.806 559.5V540.0h0.407V559.5ZM706.315 559.5V548.4h0.407V559.5ZM707.843 559.5V541.8h0.407V559.5ZM708.352 559.5V547.5h0.407V559.5ZM708.861 559.5V548.2h0.407V559.5ZM709.371 559.5V548.1h0.407V559.5ZM709.880 559.5V544.3h0.407V559.5ZM711.408 559.5V547.4h0.407V559.5ZM711.917 559.5V547.7h0.407V559.5ZM712.426 559.5V548.8h0.407V559.5ZM713.445 559.5V547.0h0.407V559.5ZM714.972 559.5V541.7h0.407V559.5ZM715.482 559.5V549.2h0.407V559.5ZM715.991 559.5V545.4h0.407V559.5ZM716.500 559.5V543.9h0.407V559.5ZM717.010 559.5V549.1h0.407V559.5ZM718.537 559.5V547.3h0.407V559.5ZM719.047 559.5V543.4h0.407V559.5ZM719.556 559.5V541.9h0.407V559.5ZM720.065 559.5V544.4h0.407V559.5ZM720.574 559.5V553.3h0.407V559.5ZM722.102 559.5V545.7h0.407V559.5ZM722.612 559.5V550.2h0.407V559.5ZM723.121 559.5V553.3h0.407V559.5ZM723.630 559.5V549.8h0.407V559.5ZM724.139 559.5V543.2h0.407V559.5ZM725.667 559.5V543.9h0.407V559.5ZM726.176 559.5V551.0h0.407V559.5ZM726.686 559.5V554.0h0.407V559.5ZM727.195 559.5V543.5h0.407V559.5ZM727.704 559.5V542.1h0.407V559.5ZM729.741 559.5V549.4h0.407V559.5ZM730.251 559.5V552.8h0.407V559.5ZM730.760 559.5V549.0h0.407V559.5ZM731.269 559.5V546.8h0.407V559.5ZM733.306 559.5V539.0h0.407V559.5ZM733.815 559.5V551.4h0.407V559.5ZM734.325 559.5V552.5h0.407V559.5ZM734.834 559.5V552.0h0.407V559.5ZM736.362 559.5V554.1h0.407V559.5ZM736.871 559.5V552.5h0.407V559.5ZM737.380 559.5V542.6h0.407V559.5ZM737.890 559.5V554.3h0.407V559.5ZM738.399 559.5V546.3h0.407V559.5ZM740.436 559.5V545.4h0.407V559.5ZM740.945 559.5V550.8h0.407V559.5ZM741.455 559.5V548.3h0.407V559.5ZM741.964 559.5V552.8h0.407V559.5ZM743.492 559.5V547.2h0.407V559.5ZM744.001 559.5V546.6h0.407V559.5ZM744.510 559.5V546.2h0.407V559.5ZM745.019 559.5V549.7h0.407V559.5ZM745.529 559.5V542.3h0.407V559.5ZM747.057 559.5V537.1h0.407V559.5ZM747.566 559.5V540.9h0.407V559.5ZM748.075 559.5V539.6h0.407V559.5ZM748.584 559.5V544.1h0.407V559.5ZM749.094 559.5V536.0h0.407V559.5ZM750.621 559.5V540.0h0.407V559.5ZM751.131 559.5V536.7h0.407V559.5ZM751.640 559.5V543.9h0.407V559.5ZM752.149 559.5V535.4h0.407V559.5ZM752.658 559.5V545.4h0.407V559.5ZM754.186 559.5V541.4h0.407V559.5ZM754.696 559.5V545.3h0.407V559.5ZM755.205 559.5V544.8h0.407V559.5ZM755.714 559.5V538.5h0.407V559.5ZM756.223 559.5V545.6h0.407V559.5ZM758.260 559.5V543.0h0.407V559.5ZM758.770 559.5V544.8h0.407V559.5ZM759.279 559.5V537.3h0.407V559.5ZM759.788 559.5V545.5h0.407V559.5ZM761.316 559.5V543.5h0.407V559.5ZM761.825 559.5V537.2h0.407V559.5ZM762.335 559.5V539.5h0.407V559.5ZM762.844 559.5V539.3h0.407V559.5ZM763.353 559.5V535.3h0.407V559.5ZM764.881 559.5V545.8h0.407V559.5ZM765.390 559.5V539.8h0.407V559.5ZM765.899 559.5V538.7h0.407V559.5ZM766.409 559.5V513.6h0.407V559.5ZM766.918 559.5V539.1h0.407V559.5ZM768.446 559.5V545.6h0.407V559.5ZM768.955 559.5V545.5h0.407V559.5ZM769.464 559.5V538.4h0.407V559.5ZM769.974 559.5V540.4h0.407V559.5ZM770.483 559.5V544.2h0.407V559.5ZM772.011 559.5V545.8h0.407V559.5ZM772.520 559.5V541.4h0.407V559.5ZM773.029 559.5V545.5h0.407V559.5ZM773.539 559.5V538.7h0.407V559.5ZM774.048 559.5V543.5h0.407V559.5ZM775.576 559.5V544.7h0.407V559.5ZM776.085 559.5V552.2h0.407V559.5ZM776.594 559.5V548.6h0.407V559.5ZM777.103 559.5V552.2h0.407V559.5ZM779.141 559.5V545.1h0.407V559.5ZM779.650 559.5V547.9h0.407V559.5ZM780.159 559.5V551.2h0.407V559.5ZM780.668 559.5V542.5h0.407V559.5ZM781.178 559.5V546.4h0.407V559.5ZM782.705 559.5V550.3h0.407V559.5ZM783.215 559.5V544.0h0.407V559.5ZM783.724 559.5V549.9h0.407V559.5ZM784.233 559.5V542.8h0.407V559.5ZM784.742 559.5V550.7h0.407V559.5ZM786.270 559.5V542.1h0.407V559.5ZM786.780 559.5V552.4h0.407V559.5ZM787.289 559.5V545.7h0.407V559.5ZM787.798 559.5V550.7h0.407V559.5ZM788.307 559.5V533.9h0.407V559.5ZM789.835 559.5V546.9h0.407V559.5ZM790.344 559.5V552.5h0.407V559.5ZM790.854 559.5V551.3h0.407V559.5ZM791.363 559.5V552.2h0.407V559.5ZM791.872 559.5V545.6h0.407V559.5ZM793.400 559.5V551.3h0.407V559.5ZM793.909 559.5V548.6h0.407V559.5ZM794.419 559.5V550.4h0.407V559.5ZM794.928 559.5V551.2h0.407V559.5ZM795.437 559.5V542.9h0.407V559.5ZM796.965 559.5V548.5h0.407V559.5ZM797.474 559.5V546.8h0.407V559.5ZM797.984 559.5V546.1h0.407V559.5ZM798.493 559.5V544.5h0.407V559.5ZM799.002 559.5V551.0h0.407V559.5ZM800.530 559.5V552.3h0.407V559.5ZM801.039 559.5V548.9h0.407V559.5ZM801.548 559.5V551.7h0.407V559.5ZM802.058 559.5V555.3h0.407V559.5ZM802.567 559.5V543.3h0.407V559.5ZM804.095 559.5V548.3h0.407V559.5ZM804.604 559.5V551.4h0.407V559.5ZM805.113 559.5V530.5h0.407V559.5ZM805.623 559.5V546.1h0.407V559.5ZM806.132 559.5V549.7h0.407V559.5ZM808.169 559.5V554.2h0.407V559.5ZM808.678 559.5V542.1h0.407V559.5ZM809.187 559.5V542.7h0.407V559.5ZM809.697 559.5V543.1h0.407V559.5ZM811.225 559.5V537.3h0.407V559.5ZM811.734 559.5V549.7h0.407V559.5ZM812.243 559.5V552.8h0.407V559.5ZM812.752 559.5V547.9h0.407V559.5ZM813.262 559.5V554.4h0.407V559.5ZM814.789 559.5V548.4h0.407V559.5ZM815.299 559.5V555.0h0.407V559.5ZM815.808 559.5V555.3h0.407V559.5ZM816.317 559.5V546.8h0.407V559.5ZM816.826 559.5V552.3h0.407V559.5ZM818.354 559.5V547.1h0.407V559.5ZM818.864 559.5V545.8h0.407V559.5ZM819.882 559.5V544.8h0.407V559.5ZM820.391 559.5V548.5h0.407V559.5ZM821.919 559.5V544.6h0.407V559.5ZM822.428 559.5V547.8h0.407V559.5ZM822.938 559.5V543.1h0.407V559.5ZM823.447 559.5V543.7h0.407V559.5ZM823.956 559.5V555.2h0.407V559.5ZM825.484 559.5V553.2h0.407V559.5ZM825.993 559.5V551.7h0.407V559.5ZM826.503 559.5V553.4h0.407V559.5ZM827.521 559.5V554.1h0.407V559.5ZM829.049 559.5V548.6h0.407V559.5ZM829.558 559.5V556.0h0.407V559.5ZM830.068 559.5V555.2h0.407V559.5ZM830.577 559.5V549.9h0.407V559.5ZM831.086 559.5V554.9h0.407V559.5ZM832.614 559.5V554.7h0.407V559.5ZM833.123 559.5V547.5h0.407V559.5ZM833.632 559.5V549.9h0.407V559.5ZM834.142 559.5V553.1h0.407V559.5ZM834.651 559.5V555.5h0.407V559.5ZM836.179 559.5V554.6h0.407V559.5ZM836.688 559.5V547.3h0.407V559.5ZM837.197 559.5V549.6h0.407V559.5ZM837.707 559.5V555.8h0.407V559.5ZM838.216 559.5V550.5h0.407V559.5ZM839.744 559.5V553.7h0.407V559.5ZM840.253 559.5V550.4h0.407V559.5ZM840.762 559.5V554.4h0.407V559.5ZM841.271 559.5V555.5h0.407V559.5ZM841.781 559.5V556.0h0.407V559.5ZM843.309 559.5V554.4h0.407V559.5ZM843.818 559.5V548.8h0.407V559.5ZM844.327 559.5V548.4h0.407V559.5ZM844.836 559.5V550.8h0.407V559.5ZM845.346 559.5V550.1h0.407V559.5ZM846.873 559.5V555.1h0.407V559.5ZM847.383 559.5V553.9h0.407V559.5ZM847.892 559.5V548.3h0.407V559.5ZM848.401 559.5V547.3h0.407V559.5ZM848.911 559.5V553.2h0.407V559.5ZM850.438 559.5V549.8h0.407V559.5ZM850.948 559.5V547.9h0.407V559.5ZM851.457 559.5V547.1h0.407V559.5ZM851.966 559.5V554.4h0.407V559.5ZM852.475 559.5V551.1h0.407V559.5ZM854.003 559.5V553.6h0.407V559.5ZM854.512 559.5V553.0h0.407V559.5ZM855.022 559.5V553.0h0.407V559.5ZM855.531 559.5V554.5h0.407V559.5ZM856.040 559.5V556.0h0.407V559.5ZM858.077 559.5V547.7h0.407V559.5ZM858.587 559.5V548.3h0.407V559.5ZM859.096 559.5V547.0h0.407V559.5ZM859.605 559.5V552.1h0.407V559.5ZM861.133 559.5V551.7h0.407V559.5ZM861.642 559.5V549.2h0.407V559.5ZM862.152 559.5V546.1h0.407V559.5ZM862.661 559.5V550.1h0.407V559.5ZM863.170 559.5V551.9h0.407V559.5ZM864.698 559.5V549.2h0.407V559.5ZM865.207 559.5V545.9h0.407V559.5ZM865.716 559.5V546.8h0.407V559.5ZM866.226 559.5V546.5h0.407V559.5ZM866.735 559.5V550.6h0.407V559.5ZM868.263 559.5V551.5h0.407V559.5ZM868.772 559.5V546.7h0.407V559.5ZM869.281 559.5V547.5h0.407V559.5ZM869.791 559.5V546.9h0.407V559.5ZM870.300 559.5V550.7h0.407V559.5ZM871.828 559.5V551.4h0.407V559.5ZM872.337 559.5V551.6h0.407V559.5ZM872.846 559.5V546.7h0.407V559.5ZM873.355 559.5V546.3h0.407V559.5ZM873.865 559.5V550.9h0.407V559.5ZM875.393 559.5V546.7h0.407V559.5ZM875.902 559.5V550.8h0.407V559.5ZM876.411 559.5V550.3h0.407V559.5ZM876.920 559.5V549.4h0.407V559.5ZM877.430 559.5V551.7h0.407V559.5ZM878.957 559.5V551.5h0.407V559.5ZM879.467 559.5V551.5h0.407V559.5ZM879.976 559.5V551.5h0.407V559.5ZM880.485 559.5V549.8h0.407V559.5ZM880.995 559.5V552.3h0.407V559.5ZM882.522 559.5V547.6h0.407V559.5ZM883.032 559.5V552.0h0.407V559.5ZM883.541 559.5V550.3h0.407V559.5ZM884.050 559.5V548.8h0.407V559.5ZM884.559 559.5V552.2h0.407V559.5ZM886.087 559.5V552.8h0.407V559.5ZM886.596 559.5V551.9h0.407V559.5ZM887.106 559.5V552.0h0.407V559.5ZM887.615 559.5V549.7h0.407V559.5ZM888.124 559.5V550.5h0.407V559.5ZM889.652 559.5V554.0h0.407V559.5ZM890.161 559.5V550.2h0.407V559.5ZM890.671 559.5V552.0h0.407V559.5ZM891.180 559.5V551.2h0.407V559.5ZM891.689 559.5V553.9h0.407V559.5ZM893.217 559.5V552.4h0.407V559.5ZM893.726 559.5V551.1h0.407V559.5ZM894.236 559.5V550.4h0.407V559.5ZM894.745 559.5V550.4h0.407V559.5ZM895.254 559.5V553.7h0.407V559.5ZM896.782 559.5V550.2h0.407V559.5ZM897.291 559.5V551.9h0.407V559.5ZM897.800 559.5V551.3h0.407V559.5ZM898.310 559.5V550.0h0.407V559.5ZM898.819 559.5V552.8h0.407V559.5ZM900.347 559.5V549.6h0.407V559.5ZM900.856 559.5V549.8h0.407V559.5ZM901.365 559.5V550.3h0.407V559.5ZM902.384 559.5V552.9h0.407V559.5ZM903.912 559.5V552.1h0.407V559.5ZM904.421 559.5V553.8h0.407V559.5ZM904.930 559.5V550.7h0.407V559.5ZM905.439 559.5V549.8h0.407V559.5ZM905.949 559.5V553.9h0.407V559.5ZM907.477 559.5V550.8h0.407V559.5ZM907.986 559.5V551.1h0.407V559.5ZM908.495 559.5V554.3h0.407V559.5ZM909.004 559.5V549.6h0.407V559.5ZM909.514 559.5V552.4h0.407V559.5ZM911.041 559.5V551.9h0.407V559.5ZM911.551 559.5V552.6h0.407V559.5ZM912.060 559.5V549.6h0.407V559.5ZM912.569 559.5V551.7h0.407V559.5ZM913.079 559.5V550.9h0.407V559.5ZM914.606 559.5V552.2h0.407V559.5ZM915.116 559.5V550.5h0.407V559.5ZM916.134 559.5V551.4h0.407V559.5ZM916.643 559.5V549.4h0.407V559.5ZM918.171 559.5V550.2h0.407V559.5ZM918.680 559.5V549.9h0.407V559.5ZM919.699 559.5V552.0h0.407V559.5ZM920.208 559.5V552.5h0.407V559.5ZM921.736 559.5V549.0h0.407V559.5ZM922.245 559.5V548.7h0.407V559.5ZM922.755 559.5V550.3h0.407V559.5ZM923.773 559.5V548.8h0.407V559.5ZM925.301 559.5V550.0h0.407V559.5ZM925.810 559.5V550.5h0.407V559.5ZM926.320 559.5V551.3h0.407V559.5ZM926.829 559.5V551.6h0.407V559.5ZM927.338 559.5V551.0h0.407V559.5ZM929.375 559.5V552.1h0.407V559.5ZM929.884 559.5V551.3h0.407V559.5ZM930.394 559.5V551.0h0.407V559.5ZM930.903 559.5V552.6h0.407V559.5ZM932.431 559.5V515.3h0.407V559.5ZM932.940 559.5V551.9h0.407V559.5ZM933.449 559.5V523.8h0.407V559.5ZM933.959 559.5V549.4h0.407V559.5ZM934.468 559.5V537.3h0.407V559.5ZM935.996 559.5V550.2h0.407V559.5ZM936.505 559.5V550.4h0.407V559.5ZM937.014 559.5V552.0h0.407V559.5ZM937.523 559.5V551.5h0.407V559.5ZM938.033 559.5V549.2h0.407V559.5ZM939.561 559.5V536.0h0.407V559.5ZM940.070 559.5V547.9h0.407V559.5ZM940.579 559.5V549.2h0.407V559.5ZM941.088 559.5V535.7h0.407V559.5ZM941.598 559.5V537.7h0.407V559.5ZM943.635 559.5V542.1h0.407V559.5ZM944.144 559.5V538.5h0.407V559.5ZM944.653 559.5V542.3h0.407V559.5ZM945.163 559.5V536.8h0.407V559.5ZM946.690 559.5V547.2h0.407V559.5ZM947.200 559.5V544.6h0.407V559.5ZM947.709 559.5V541.1h0.407V559.5ZM948.218 559.5V547.6h0.407V559.5ZM948.727 559.5V540.3h0.407V559.5ZM950.255 559.5V547.0h0.407V559.5ZM950.765 559.5V540.4h0.407V559.5ZM951.274 559.5V538.7h0.407V559.5ZM951.783 559.5V544.9h0.407V559.5ZM952.292 559.5V535.2h0.407V559.5ZM953.820 559.5V541.7h0.407V559.5ZM954.329 559.5V539.6h0.407V559.5ZM954.839 559.5V549.2h0.407V559.5ZM955.348 559.5V548.5h0.407V559.5ZM955.857 559.5V540.4h0.407V559.5ZM957.385 559.5V536.1h0.407V559.5ZM957.894 559.5V541.8h0.407V559.5ZM958.404 559.5V536.7h0.407V559.5ZM958.913 559.5V548.9h0.407V559.5ZM959.422 559.5V537.1h0.407V559.5ZM960.950 559.5V537.3h0.407V559.5ZM961.459 559.5V541.8h0.407V559.5ZM961.968 559.5V544.8h0.407V559.5ZM962.478 559.5V540.5h0.407V559.5ZM962.987 559.5V547.2h0.407V559.5ZM964.515 559.5V541.1h0.407V559.5ZM965.024 559.5V540.7h0.407V559.5ZM965.533 559.5V543.2h0.407V559.5ZM966.043 559.5V547.1h0.407V559.5ZM966.552 559.5V549.2h0.407V559.5ZM968.080 559.5V551.9h0.407V559.5ZM968.589 559.5V547.1h0.407V559.5ZM969.098 559.5V551.8h0.407V559.5ZM969.607 559.5V552.4h0.407V559.5ZM970.117 559.5V551.6h0.407V559.5ZM971.645 559.5V549.8h0.407V559.5ZM972.154 559.5V540.7h0.407V559.5ZM972.663 559.5V546.7h0.407V559.5ZM973.172 559.5V546.9h0.407V559.5ZM975.209 559.5V545.8h0.407V559.5ZM975.719 559.5V546.6h0.407V559.5ZM976.228 559.5V550.3h0.407V559.5ZM976.737 559.5V552.1h0.407V559.5ZM977.247 559.5V545.9h0.407V559.5ZM978.774 559.5V551.7h0.407V559.5ZM979.284 559.5V548.9h0.407V559.5ZM979.793 559.5V551.5h0.407V559.5ZM980.302 559.5V547.2h0.407V559.5ZM980.811 559.5V551.9h0.407V559.5ZM982.339 559.5V550.5h0.407V559.5ZM982.849 559.5V551.8h0.407V559.5ZM983.358 559.5V546.8h0.407V559.5ZM983.867 559.5V549.0h0.407V559.5ZM984.376 559.5V548.9h0.407V559.5ZM985.904 559.5V551.2h0.407V559.5ZM986.413 559.5V552.0h0.407V559.5ZM986.923 559.5V546.9h0.407V559.5ZM987.432 559.5V547.7h0.407V559.5ZM987.941 559.5V548.0h0.407V559.5ZM989.469 559.5V545.5h0.407V559.5ZM989.978 559.5V549.4h0.407V559.5ZM990.488 559.5V552.0h0.407V559.5ZM990.997 559.5V549.0h0.407V559.5ZM991.506 559.5V551.4h0.407V559.5ZM993.543 559.5V549.8h0.407V559.5ZM994.052 559.5V552.5h0.407V559.5ZM994.562 559.5V551.9h0.407V559.5ZM995.071 559.5V549.5h0.407V559.5ZM996.599 559.5V550.3h0.407V559.5ZM997.108 559.5V552.7h0.407V559.5ZM997.617 559.5V550.3h0.407V559.5ZM998.127 559.5V550.0h0.407V559.5ZM998.636 559.5V550.6h0.407V559.5ZM1000.164 559.5V552.0h0.407V559.5ZM1000.673 559.5V549.7h0.407V559.5ZM1001.182 559.5V552.3h0.407V559.5ZM1001.692 559.5V554.1h0.407V559.5ZM1002.201 559.5V553.4h0.407V559.5ZM1003.729 559.5V551.3h0.407V559.5ZM1004.238 559.5V552.9h0.407V559.5ZM1004.747 559.5V552.7h0.407V559.5ZM1005.766 559.5V552.8h0.407V559.5ZM1007.293 559.5V553.8h0.407V559.5ZM1007.803 559.5V554.1h0.407V559.5ZM1008.312 559.5V554.2h0.407V559.5ZM1008.821 559.5V551.2h0.407V559.5ZM1009.331 559.5V553.2h0.407V559.5ZM1010.858 559.5V552.5h0.407V559.5ZM1011.368 559.5V549.4h0.407V559.5ZM1011.877 559.5V551.5h0.407V559.5ZM1012.386 559.5V550.3h0.407V559.5ZM1014.423 559.5V550.7h0.407V559.5ZM1014.933 559.5V549.3h0.407V559.5ZM1015.442 559.5V554.2h0.407V559.5ZM1015.951 559.5V552.9h0.407V559.5ZM1016.460 559.5V549.3h0.407V559.5ZM1017.988 559.5V552.5h0.407V559.5ZM1018.497 559.5V549.3h0.407V559.5ZM1019.007 559.5V553.8h0.407V559.5ZM1019.516 559.5V554.2h0.407V559.5ZM1020.025 559.5V549.7h0.407V559.5ZM1021.553 559.5V552.8h0.407V559.5ZM1022.062 559.5V550.5h0.407V559.5ZM1022.572 559.5V547.7h0.407V559.5ZM1023.081 559.5V552.0h0.407V559.5ZM1023.590 559.5V547.5h0.407V559.5ZM1025.118 559.5V551.1h0.407V559.5ZM1025.627 559.5V551.9h0.407V559.5ZM1026.136 559.5V551.9h0.407V559.5ZM1026.646 559.5V550.5h0.407V559.5ZM1027.155 559.5V550.8h0.407V559.5ZM1028.683 559.5V548.1h0.407V559.5ZM1029.192 559.5V552.5h0.407V559.5ZM1029.701 559.5V552.5h0.407V559.5ZM1030.211 559.5V552.2h0.407V559.5ZM1030.720 559.5V550.0h0.407V559.5ZM1032.248 559.5V548.8h0.407V559.5ZM1032.757 559.5V550.7h0.407V559.5ZM1033.266 559.5V549.9h0.407V559.5ZM1033.776 559.5V549.7h0.407V559.5ZM1034.285 559.5V552.6h0.407V559.5ZM1035.813 559.5V551.9h0.407V559.5ZM1036.322 559.5V547.3h0.407V559.5ZM1036.831 559.5V551.5h0.407V559.5ZM1037.340 559.5V547.7h0.407V559.5ZM1037.850 559.5V550.6h0.407V559.5ZM1039.377 559.5V552.0h0.407V559.5ZM1039.887 559.5V552.6h0.407V559.5ZM1040.396 559.5V552.0h0.407V559.5ZM1040.905 559.5V551.5h0.407V559.5ZM1041.415 559.5V550.9h0.407V559.5ZM1043.452 559.5V550.9h0.407V559.5ZM1043.961 559.5V550.3h0.407V559.5ZM1044.470 559.5V550.7h0.407V559.5ZM1044.979 559.5V552.6h0.407V559.5ZM1046.507 559.5V551.8h0.407V559.5ZM1047.017 559.5V547.5h0.407V559.5ZM1047.526 559.5V552.6h0.407V559.5ZM1048.035 559.5V549.1h0.407V559.5ZM1048.544 559.5V550.7h0.407V559.5ZM1050.072 559.5V546.5h0.407V559.5ZM1050.581 559.5V549.4h0.407V559.5ZM1051.091 559.5V549.1h0.407V559.5ZM1051.600 559.5V548.1h0.407V559.5ZM1052.109 559.5V540.7h0.407V559.5ZM1053.637 559.5V549.4h0.407V559.5ZM1054.146 559.5V550.7h0.407V559.5ZM1054.656 559.5V550.8h0.407V559.5ZM1055.165 559.5V544.9h0.407V559.5ZM1055.674 559.5V549.5h0.407V559.5ZM1057.202 559.5V550.5h0.407V559.5ZM1057.711 559.5V547.5h0.407V559.5ZM1058.220 559.5V545.3h0.407V559.5ZM1058.730 559.5V547.4h0.407V559.5ZM1059.239 559.5V550.4h0.407V559.5ZM1060.767 559.5V548.9h0.407V559.5ZM1061.276 559.5V549.8h0.407V559.5ZM1061.785 559.5V550.9h0.407V559.5ZM1062.295 559.5V544.1h0.407V559.5ZM1062.804 559.5V548.5h0.407V559.5ZM1064.332 559.5V550.5h0.407V559.5ZM1064.841 559.5V544.9h0.407V559.5ZM1065.350 559.5V543.9h0.407V559.5ZM1065.860 559.5V545.5h0.407V559.5ZM1066.369 559.5V549.9h0.407V559.5ZM1067.897 559.5V550.2h0.407V559.5ZM1068.406 559.5V548.0h0.407V559.5ZM1068.915 559.5V547.6h0.407V559.5ZM1069.424 559.5V545.0h0.407V559.5ZM1069.934 559.5V544.1h0.407V559.5ZM1071.461 559.5V539.0h0.407V559.5ZM1071.971 559.5V549.3h0.407V559.5ZM1072.480 559.5V547.5h0.407V559.5ZM1072.989 559.5V550.5h0.407V559.5ZM1073.499 559.5V548.1h0.407V559.5ZM1075.026 559.5V550.7h0.407V559.5ZM1075.536 559.5V550.6h0.407V559.5ZM1076.045 559.5V550.5h0.407V559.5ZM1076.554 559.5V549.6h0.407V559.5ZM1077.063 559.5V549.5h0.407V559.5ZM1078.591 559.5V546.5h0.407V559.5ZM1079.101 559.5V550.7h0.407V559.5ZM1079.610 559.5V550.6h0.407V559.5ZM1080.119 559.5V547.0h0.407V559.5ZM1080.628 559.5V548.2h0.407V559.5Z" fill="#808080" fill-opacity="0.5" shape-rendering="crispEdges"/>
</g>
<rect x="45.5" y="425.5" width="1085.0" height="134.0" fill="none" stroke="#000" stroke-width="1.1"/>
<line x1="175.5" y1="559.5" x2="175.5" y2="564.9" stroke="#000" stroke-width="1.1"/>
<text y="578.70" font-size="12.92" xml:space="preserve"><tspan x="148.13" textLength="54.14" lengthAdjust="spacingAndGlyphs">2021-01</tspan></text>
<line x1="361.5" y1="559.5" x2="361.5" y2="564.9" stroke="#000" stroke-width="1.1"/>
<text y="578.70" font-size="12.92" xml:space="preserve"><tspan x="334.13" textLength="54.14" lengthAdjust="spacingAndGlyphs">2022-01</tspan></text>
<line x1="547.5" y1="559.5" x2="547.5" y2="564.9" stroke="#000" stroke-width="1.1"/>
<text y="578.70" font-size="12.92" xml:space="preserve"><tspan x="520.13" textLength="54.14" lengthAdjust="spacingAndGlyphs">2023-01</tspan></text>
<line x1="732.5" y1="559.5" x2="732.5" y2="564.9" stroke="#000" stroke-width="1.1"/>
<text y="578.70" font-size="12.92" xml:space="preserve"><tspan x="705.13" textLength="54.14" lengthAdjust="spacingAndGlyphs">2024-01</tspan></text>
<line x1="919.5" y1="559.5" x2="919.5" y2="564.9" stroke="#000" stroke-width="1.1"/>
<text y="578.70" font-size="12.92" xml:space="preserve"><tspan x="892.13" textLength="54.14" lengthAdjust="spacingAndGlyphs">2025-01</tspan></text>
<line x1="1105.5" y1="559.5" x2="1105.5" y2="564.9" stroke="#000" stroke-width="1.1"/>
<text y="578.70" font-size="12.92" xml:space="preserve"><tspan x="1078.13" textLength="54.14" lengthAdjust="spacingAndGlyphs">2026-01</tspan></text>
<line x1="40.1" y1="559.5" x2="45.5" y2="559.5" stroke="#000" stroke-width="1.1"/>
<text y="564.40" font-size="12.92" xml:space="preserve"><tspan x="27.27" textLength="8.33" lengthAdjust="spacingAndGlyphs">0</tspan></text>
<line x1="40.1" y1="525.5" x2="45.5" y2="525.5" stroke="#000" stroke-width="1.1"/>
<text y="530.40" font-size="12.92" xml:space="preserve"><tspan x="27.27" textLength="8.33" lengthAdjust="spacingAndGlyphs">1</tspan></text>
<line x1="40.1" y1="491.5" x2="45.5" y2="491.5" stroke="#000" stroke-width="1.1"/>
<text y="496.40" font-size="12.92" xml:space="preserve"><tspan x="27.27" textLength="8.33" lengthAdjust="spacingAndGlyphs">2</tspan></text>
<line x1="40.1" y1="457.5" x2="45.5" y2="457.5" stroke="#000" stroke-width="1.1"/>
<text y="462.40" font-size="12.92" xml:space="preserve"><tspan x="27.27" textLength="8.33" lengthAdjust="spacingAndGlyphs">3</tspan></text>
<text y="421.50" font-size="12.92" xml:space="preserve"><tspan x="45.60" textLength="24.14" lengthAdjust="spacingAndGlyphs">1e7</tspan></text>
<g transform="translate(17.6,494) rotate(-90)"><text y="0.00" font-size="12.92" xml:space="preserve"><tspan x="-22.47" textLength="44.94" lengthAdjust="spacingAndGlyphs">Volume</tspan></text></g>
<text y="614.50" font-size="16.67" xml:space="preserve"><tspan x="45.60" textLength="40.63" lengthAdjust="spacingAndGlyphs">NVDA</tspan> <tspan x="91.23" textLength="66.68" lengthAdjust="spacingAndGlyphs">交易次数</tspan><tspan x="157.91" textLength="5.00" lengthAdjust="spacingAndGlyphs">:</tspan> <tspan x="167.91" textLength="10.00" lengthAdjust="spacingAndGlyphs">8</tspan></text>
<text y="635.50" font-size="16.67" xml:space="preserve"><tspan x="45.60" textLength="100.02" lengthAdjust="spacingAndGlyphs">策略总收益率</tspan><tspan x="145.62" textLength="5.00" lengthAdjust="spacingAndGlyphs">:</tspan> <tspan x="155.62" textLength="76.63" lengthAdjust="spacingAndGlyphs">2075.81%</tspan></text>
<text y="655.00" font-size="16.67" xml:space="preserve"><tspan x="45.60" textLength="100.02" lengthAdjust="spacingAndGlyphs">长期持有收益</tspan><tspan x="145.62" textLength="5.00" lengthAdjust="spacingAndGlyphs">:</tspan> <tspan x="155.62" textLength="76.63" lengthAdjust="spacingAndGlyphs">1361.25%</tspan></text>
<text y="675.50" font-size="16.67" xml:space="preserve"><tspan x="45.60" textLength="66.68" lengthAdjust="spacingAndGlyphs">交易记录</tspan><tspan x="112.28" textLength="5.00" lengthAdjust="spacingAndGlyphs">:</tspan></text>
<text y="691.30" font-size="16.67" xml:space="preserve">  <tspan x="55.60" textLength="26.31" lengthAdjust="spacingAndGlyphs">Buy</tspan> <tspan x="86.90" textLength="34.28" lengthAdjust="spacingAndGlyphs">Date</tspan>  <tspan x="131.18" textLength="26.31" lengthAdjust="spacingAndGlyphs">Buy</tspan> <tspan x="162.49" textLength="35.62" lengthAdjust="spacingAndGlyphs">Price</tspan>  <tspan x="208.10" textLength="27.28" lengthAdjust="spacingAndGlyphs">Sell</tspan> <tspan x="240.38" textLength="34.28" lengthAdjust="spacingAndGlyphs">Date</tspan>  <tspan x="284.66" textLength="27.28" lengthAdjust="spacingAndGlyphs">Sell</tspan> <tspan x="316.94" textLength="35.62" lengthAdjust="spacingAndGlyphs">Price</tspan>  <tspan x="362.56" textLength="54.26" lengthAdjust="spacingAndGlyphs">Holding</tspan> <tspan x="421.81" textLength="35.64" lengthAdjust="spacingAndGlyphs">Days</tspan>  <tspan x="467.45" textLength="37.95" lengthAdjust="spacingAndGlyphs">Profit</tspan> <tspan x="510.39" textLength="11.66" lengthAdjust="spacingAndGlyphs">%</tspan></text>
<text y="708.73" font-size="16.67" xml:space="preserve"><tspan x="45.60" textLength="89.96" lengthAdjust="spacingAndGlyphs">2020-10-28</tspan>      <tspan x="165.55" textLength="44.98" lengthAdjust="spacingAndGlyphs">12.58</tspan> <tspan x="215.52" textLength="89.96" lengthAdjust="spacingAndGlyphs">2021-07-15</tspan>       <tspan x="340.47" textLength="44.98" lengthAdjust="spacingAndGlyphs">18.90</tspan>           <tspan x="440.42" textLength="29.99" lengthAdjust="spacingAndGlyphs">260</tspan>     <tspan x="495.40" textLength="44.98" lengthAdjust="spacingAndGlyphs">50.24</tspan></text>
<text y="726.16" font-size="16.67" xml:space="preserve"><tspan x="45.60" textLength="89.96" lengthAdjust="spacingAndGlyphs">2021-08-18</tspan>      <tspan x="165.55" textLength="44.98" lengthAdjust="spacingAndGlyphs">18.96</tspan> <tspan x="215.52" textLength="89.96" lengthAdjust="spacingAndGlyphs">2021-12-06</tspan>       <tspan x="340.47" textLength="44.98" lengthAdjust="spacingAndGlyphs">29.95</tspan>           <tspan x="440.42" textLength="29.99" lengthAdjust="spacingAndGlyphs">110</tspan>     <tspan x="495.40" textLength="44.98" lengthAdjust="spacingAndGlyphs">57.96</tspan></text>
<text y="743.59" font-size="16.67" xml:space="preserve"><tspan x="45.60" textLength="89.96" lengthAdjust="spacingAndGlyphs">2021-12-17</tspan>      <tspan x="165.55" textLength="44.98" lengthAdjust="spacingAndGlyphs">27.75</tspan> <tspan x="215.52" textLength="89.96" lengthAdjust="spacingAndGlyphs">2023-08-02</tspan>       <tspan x="340.47" textLength="44.98" lengthAdjust="spacingAndGlyphs">44.27</tspan>           <tspan x="440.42" textLength="29.99" lengthAdjust="spacingAndGlyphs">592</tspan>     <tspan x="495.40" textLength="44.98" lengthAdjust="spacingAndGlyphs">59.53</tspan></text>
<text y="761.02" font-size="16.67" xml:space="preserve"><tspan x="45.60" textLength="89.96" lengthAdjust="spacingAndGlyphs">2023-08-09</tspan>      <tspan x="165.55" textLength="44.98" lengthAdjust="spacingAndGlyphs">42.53</tspan> <tspan x="215.52" textLength="89.96" lengthAdjust="spacingAndGlyphs">2024-04-04</tspan>       <tspan x="340.47" textLength="44.98" lengthAdjust="spacingAndGlyphs">85.86</tspan>           <tspan x="440.42" textLength="29.99" lengthAdjust="spacingAndGlyphs">239</tspan>    <tspan x="490.40" textLength="54.98" lengthAdjust="spacingAndGlyphs">101.88</tspan></text>
<text y="778.45" font-size="16.67" xml:space="preserve"><tspan x="45.60" textLength="89.96" lengthAdjust="spacingAndGlyphs">2024-04-19</tspan>      <tspan x="165.55" textLength="44.98" lengthAdjust="spacingAndGlyphs">76.17</tspan> <tspan x="215.52" textLength="89.96" lengthAdjust="spacingAndGlyphs">2024-07-16</tspan>      <tspan x="335.47" textLength="54.98" lengthAdjust="spacingAndGlyphs">126.30</tspan>            <tspan x="450.42" textLength="19.99" lengthAdjust="spacingAndGlyphs">88</tspan>     <tspan x="495.40" textLength="44.98" lengthAdjust="spacingAndGlyphs">65.81</tspan></text>
<text y="795.88" font-size="16.67" xml:space="preserve"><tspan x="45.60" textLength="89.96" lengthAdjust="spacingAndGlyphs">2024-07-24</tspan>     <tspan x="160.55" textLength="54.98" lengthAdjust="spacingAndGlyphs">114.33</tspan> <tspan x="220.52" textLength="89.96" lengthAdjust="spacingAndGlyphs">2024-11-18</tspan>      <tspan x="340.47" textLength="54.98" lengthAdjust="spacingAndGlyphs">140.09</tspan>           <tspan x="450.42" textLength="29.99" lengthAdjust="spacingAndGlyphs">117</tspan>     <tspan x="505.39" textLength="44.98" lengthAdjust="spacingAndGlyphs">22.53</tspan></text>
<text y="813.31" font-size="16.67" xml:space="preserve"><tspan x="45.60" textLength="89.96" lengthAdjust="spacingAndGlyphs">2024-12-10</tspan>     <tspan x="160.55" textLength="54.98" lengthAdjust="spacingAndGlyphs">134.96</tspan> <tspan x="220.52" textLength="89.96" lengthAdjust="spacingAndGlyphs">2025-08-19</tspan>      <tspan x="340.47" textLength="54.98" lengthAdjust="spacingAndGlyphs">175.65</tspan>           <tspan x="450.42" textLength="29.99" lengthAdjust="spacingAndGlyphs">251</tspan>     <tspan x="505.39" textLength="44.98" lengthAdjust="spacingAndGlyphs">30.15</tspan></text>
<text y="830.74" font-size="16.67" xml:space="preserve"><tspan x="45.60" textLength="89.96" lengthAdjust="spacingAndGlyphs">2025-09-02</tspan>     <tspan x="160.55" textLength="54.98" lengthAdjust="spacingAndGlyphs">170.74</tspan> <tspan x="220.52" textLength="89.96" lengthAdjust="spacingAndGlyphs">2025-11-14</tspan>      <tspan x="340.47" textLength="54.98" lengthAdjust="spacingAndGlyphs">183.82</tspan>            <tspan x="455.42" textLength="19.99" lengthAdjust="spacingAndGlyphs">73</tspan>      <tspan x="505.39" textLength="34.98" lengthAdjust="spacingAndGlyphs">7.66</tspan></text>
</svg></body></html>
